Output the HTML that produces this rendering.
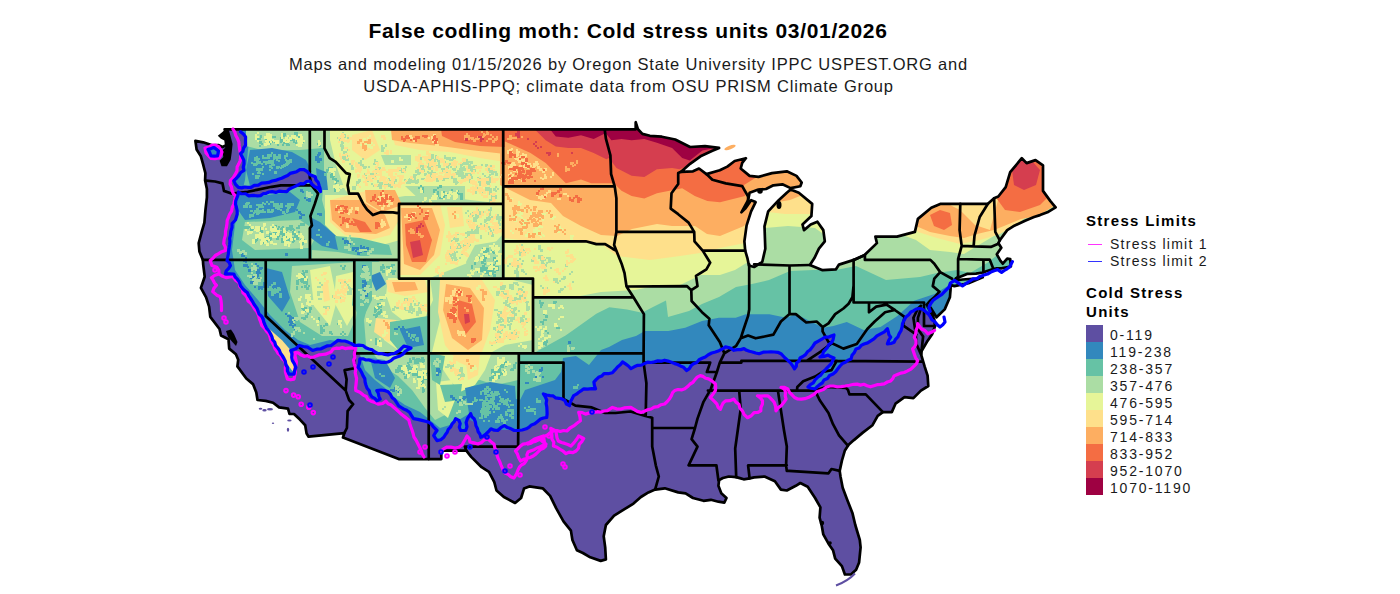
<!DOCTYPE html><html><head><meta charset="utf-8"><style>
html,body{margin:0;padding:0;background:#fff;width:1400px;height:594px;overflow:hidden;position:relative;font-family:"Liberation Sans",sans-serif}
.lh{position:absolute;left:1086px;font-weight:bold;font-size:15px;line-height:19px;letter-spacing:1.3px;color:#000;white-space:nowrap}
.ls{position:absolute;left:1110px;font-size:14px;line-height:16px;letter-spacing:1.26px;color:#1a1a1a;white-space:nowrap}
.lt{position:absolute;left:1110px;font-size:14px;line-height:16px;letter-spacing:1.8px;color:#1a1a1a;white-space:nowrap}
</style></head><body>
<svg width="1400" height="594" viewBox="0 0 1400 594" style="position:absolute;left:0;top:0">
<defs><clipPath id="us"><path d="M224.6,129.3 L227.0,133.9 L228.5,139.5 L226.2,145.1 L222.5,147.0 L218.8,145.1 L212.1,145.3 L203.2,142.3 L195.4,140.8 L196.6,149.6 L200.9,156.3 L203.2,164.7 L203.9,167.5 L205.4,173.1 L205.1,180.4 L206.9,189.0 L206.9,197.4 L205.4,210.5 L204.4,222.6 L201.7,231.9 L198.7,243.1 L199.4,251.5 L202.9,259.9 L203.2,264.6 L204.7,276.7 L200.9,287.9 L206.1,297.3 L209.1,306.6 L210.3,316.9 L219.5,329.0 L221.0,335.5 L228.5,339.3 L229.2,348.6 L235.9,354.2 L238.2,359.8 L237.4,366.4 L246.3,378.5 L253.0,384.1 L256.3,392.5 L257.5,400.0 L265.7,400.9 L273.1,402.8 L279.1,407.4 L288.0,408.7 L289.5,414.0 L294.0,414.0 L299.9,419.6 L305.2,425.2 L306.6,433.6 L308.6,436.7 L344.3,433.2 L343.0,437.5 L398.7,459.1 L441.3,459.1 L441.3,450.7 L466.3,450.7 L471.2,456.9 L481.6,467.2 L489.0,471.8 L494.3,482.1 L496.5,490.5 L503.9,497.0 L515.1,503.0 L521.1,498.0 L524.0,488.6 L529.3,486.4 L542.7,488.3 L550.1,495.9 L556.1,508.2 L563.5,521.3 L570.9,530.6 L572.4,540.0 L576.9,550.2 L582.9,553.0 L590.3,557.3 L600.7,560.9 L605.9,559.4 L605.2,547.4 L603.7,536.2 L605.9,525.0 L614.1,515.7 L624.5,509.2 L633.5,503.6 L640.9,497.0 L648.4,492.4 L655.1,489.6 L664.8,488.3 L678.2,492.4 L685.6,493.3 L693.0,498.0 L703.5,500.8 L710.9,499.8 L718.4,501.7 L724.3,502.6 L726.5,498.0 L721.3,493.3 L718.4,485.8 L719.1,480.2 L722.8,478.0 L728.8,476.5 L736.2,477.1 L740.7,478.4 L743.7,479.3 L749.6,478.4 L754.1,477.4 L764.5,476.5 L774.9,481.2 L780.9,489.6 L786.8,490.5 L795.8,485.8 L800.3,483.0 L807.7,486.8 L815.1,498.0 L820.4,507.3 L819.6,517.6 L821.8,526.0 L823.3,534.4 L828.5,543.7 L833.0,550.2 L835.2,558.6 L841.9,566.1 L844.9,574.5 L850.9,574.5 L856.1,569.8 L859.1,562.4 L860.6,547.4 L859.8,540.0 L855.3,525.0 L852.4,512.9 L847.2,499.8 L842.7,487.7 L840.5,476.5 L839.7,470.9 L841.9,460.6 L844.9,450.4 L848.6,444.8 L853.9,440.1 L862.8,432.6 L872.5,425.2 L877.7,415.8 L882.9,412.1 L891.8,412.1 L895.5,403.7 L904.5,397.2 L913.4,398.1 L920.9,390.6 L928.3,386.0 L927.6,375.7 L924.6,366.4 L921.3,355.2 L921.6,351.0 L926.8,342.1 L932.0,334.6 L935.0,326.2 L934.3,319.7 L929.8,310.3 L927.6,306.6 L930.5,307.5 L936.5,317.3 L944.7,309.4 L949.9,297.3 L950.6,288.9 L950.6,285.1 L954.4,286.1 L968.5,283.3 L982.7,277.3 L976.0,278.6 L962.6,279.5 L955.1,280.5 L955.9,278.6 L967.0,273.9 L976.0,273.6 L982.7,272.5 L989.4,270.2 L992.3,269.3 L996.8,268.3 L1001.3,268.3 L1010.9,266.5 L1010.2,259.0 L1007.2,258.6 L1002.8,263.7 L1000.5,260.9 L996.8,254.3 L1001.3,247.8 L998.3,243.1 L999.8,240.3 L1007.2,230.1 L1013.2,226.3 L1025.1,220.7 L1034.0,217.0 L1040.0,215.1 L1047.4,212.3 L1055.6,207.3 L1050.4,201.1 L1043.0,190.9 L1043.0,165.3 L1035.5,160.1 L1026.6,163.1 L1021.8,158.2 L1010.2,172.2 L1005.7,187.1 L998.3,196.5 L994.1,198.3 L987.9,203.8 L940.2,203.9 L931.3,207.7 L917.9,218.9 L914.9,231.9 L897.0,236.6 L875.4,236.6 L876.9,243.1 L864.3,255.3 L853.9,259.9 L839.0,264.6 L836.0,269.3 L822.6,270.2 L809.9,265.0 L814.4,258.1 L818.9,248.7 L824.8,241.3 L823.3,230.1 L817.4,221.7 L810.7,224.5 L804.0,230.1 L802.5,224.5 L811.4,216.1 L812.2,203.9 L798.8,192.7 L790.6,189.4 L786.8,192.7 L778.7,200.2 L768.2,211.4 L764.5,226.3 L765.3,248.7 L762.3,261.8 L754.1,267.0 L748.9,265.5 L747.4,258.1 L745.2,250.6 L744.4,241.3 L746.6,225.4 L751.1,211.4 L755.6,202.1 L751.1,200.2 L745.2,208.6 L741.4,212.3 L748.1,200.2 L749.6,192.7 L757.1,189.9 L766.0,189.0 L773.4,185.3 L782.4,184.3 L790.6,188.1 L800.3,186.2 L801.7,182.5 L796.5,175.9 L786.8,171.3 L772.0,173.1 L758.6,176.9 L749.6,175.9 L740.7,168.5 L742.2,162.9 L745.9,158.2 L734.7,161.0 L727.3,166.6 L719.8,170.3 L706.4,174.1 L699.0,168.5 L693.0,171.3 L681.1,171.8 L690.1,163.8 L700.5,156.3 L712.4,150.7 L719.1,147.9 L705.0,146.1 L690.1,147.0 L675.2,139.5 L661.8,136.7 L649.9,135.8 L642.4,133.9 L638.0,129.3 L635.7,122.2 L635.7,129.3 L224.6,129.3Z"/></clipPath></defs>
<path d="M224.6,129.3 L227.0,133.9 L228.5,139.5 L226.2,145.1 L222.5,147.0 L218.8,145.1 L212.1,145.3 L203.2,142.3 L195.4,140.8 L196.6,149.6 L200.9,156.3 L203.2,164.7 L203.9,167.5 L205.4,173.1 L205.1,180.4 L206.9,189.0 L206.9,197.4 L205.4,210.5 L204.4,222.6 L201.7,231.9 L198.7,243.1 L199.4,251.5 L202.9,259.9 L203.2,264.6 L204.7,276.7 L200.9,287.9 L206.1,297.3 L209.1,306.6 L210.3,316.9 L219.5,329.0 L221.0,335.5 L228.5,339.3 L229.2,348.6 L235.9,354.2 L238.2,359.8 L237.4,366.4 L246.3,378.5 L253.0,384.1 L256.3,392.5 L257.5,400.0 L265.7,400.9 L273.1,402.8 L279.1,407.4 L288.0,408.7 L289.5,414.0 L294.0,414.0 L299.9,419.6 L305.2,425.2 L306.6,433.6 L308.6,436.7 L344.3,433.2 L343.0,437.5 L398.7,459.1 L441.3,459.1 L441.3,450.7 L466.3,450.7 L471.2,456.9 L481.6,467.2 L489.0,471.8 L494.3,482.1 L496.5,490.5 L503.9,497.0 L515.1,503.0 L521.1,498.0 L524.0,488.6 L529.3,486.4 L542.7,488.3 L550.1,495.9 L556.1,508.2 L563.5,521.3 L570.9,530.6 L572.4,540.0 L576.9,550.2 L582.9,553.0 L590.3,557.3 L600.7,560.9 L605.9,559.4 L605.2,547.4 L603.7,536.2 L605.9,525.0 L614.1,515.7 L624.5,509.2 L633.5,503.6 L640.9,497.0 L648.4,492.4 L655.1,489.6 L664.8,488.3 L678.2,492.4 L685.6,493.3 L693.0,498.0 L703.5,500.8 L710.9,499.8 L718.4,501.7 L724.3,502.6 L726.5,498.0 L721.3,493.3 L718.4,485.8 L719.1,480.2 L722.8,478.0 L728.8,476.5 L736.2,477.1 L740.7,478.4 L743.7,479.3 L749.6,478.4 L754.1,477.4 L764.5,476.5 L774.9,481.2 L780.9,489.6 L786.8,490.5 L795.8,485.8 L800.3,483.0 L807.7,486.8 L815.1,498.0 L820.4,507.3 L819.6,517.6 L821.8,526.0 L823.3,534.4 L828.5,543.7 L833.0,550.2 L835.2,558.6 L841.9,566.1 L844.9,574.5 L850.9,574.5 L856.1,569.8 L859.1,562.4 L860.6,547.4 L859.8,540.0 L855.3,525.0 L852.4,512.9 L847.2,499.8 L842.7,487.7 L840.5,476.5 L839.7,470.9 L841.9,460.6 L844.9,450.4 L848.6,444.8 L853.9,440.1 L862.8,432.6 L872.5,425.2 L877.7,415.8 L882.9,412.1 L891.8,412.1 L895.5,403.7 L904.5,397.2 L913.4,398.1 L920.9,390.6 L928.3,386.0 L927.6,375.7 L924.6,366.4 L921.3,355.2 L921.6,351.0 L926.8,342.1 L932.0,334.6 L935.0,326.2 L934.3,319.7 L929.8,310.3 L927.6,306.6 L930.5,307.5 L936.5,317.3 L944.7,309.4 L949.9,297.3 L950.6,288.9 L950.6,285.1 L954.4,286.1 L968.5,283.3 L982.7,277.3 L976.0,278.6 L962.6,279.5 L955.1,280.5 L955.9,278.6 L967.0,273.9 L976.0,273.6 L982.7,272.5 L989.4,270.2 L992.3,269.3 L996.8,268.3 L1001.3,268.3 L1010.9,266.5 L1010.2,259.0 L1007.2,258.6 L1002.8,263.7 L1000.5,260.9 L996.8,254.3 L1001.3,247.8 L998.3,243.1 L999.8,240.3 L1007.2,230.1 L1013.2,226.3 L1025.1,220.7 L1034.0,217.0 L1040.0,215.1 L1047.4,212.3 L1055.6,207.3 L1050.4,201.1 L1043.0,190.9 L1043.0,165.3 L1035.5,160.1 L1026.6,163.1 L1021.8,158.2 L1010.2,172.2 L1005.7,187.1 L998.3,196.5 L994.1,198.3 L987.9,203.8 L940.2,203.9 L931.3,207.7 L917.9,218.9 L914.9,231.9 L897.0,236.6 L875.4,236.6 L876.9,243.1 L864.3,255.3 L853.9,259.9 L839.0,264.6 L836.0,269.3 L822.6,270.2 L809.9,265.0 L814.4,258.1 L818.9,248.7 L824.8,241.3 L823.3,230.1 L817.4,221.7 L810.7,224.5 L804.0,230.1 L802.5,224.5 L811.4,216.1 L812.2,203.9 L798.8,192.7 L790.6,189.4 L786.8,192.7 L778.7,200.2 L768.2,211.4 L764.5,226.3 L765.3,248.7 L762.3,261.8 L754.1,267.0 L748.9,265.5 L747.4,258.1 L745.2,250.6 L744.4,241.3 L746.6,225.4 L751.1,211.4 L755.6,202.1 L751.1,200.2 L745.2,208.6 L741.4,212.3 L748.1,200.2 L749.6,192.7 L757.1,189.9 L766.0,189.0 L773.4,185.3 L782.4,184.3 L790.6,188.1 L800.3,186.2 L801.7,182.5 L796.5,175.9 L786.8,171.3 L772.0,173.1 L758.6,176.9 L749.6,175.9 L740.7,168.5 L742.2,162.9 L745.9,158.2 L734.7,161.0 L727.3,166.6 L719.8,170.3 L706.4,174.1 L699.0,168.5 L693.0,171.3 L681.1,171.8 L690.1,163.8 L700.5,156.3 L712.4,150.7 L719.1,147.9 L705.0,146.1 L690.1,147.0 L675.2,139.5 L661.8,136.7 L649.9,135.8 L642.4,133.9 L638.0,129.3 L635.7,122.2 L635.7,129.3 L224.6,129.3Z" fill="#5e4fa2"/>
<g clip-path="url(#us)">
<path d="M242.0,100.0 L242.0,120.0 L240.5,131.8 L245.6,136.9 L245.6,145.3 L240.5,153.7 L243.9,160.4 L243.9,170.5 L238.8,175.6 L233.8,180.6 L238.4,187.4 L251.0,187.4 L261.6,183.2 L272.1,181.0 L284.7,176.8 L293.2,172.6 L303.7,169.5 L310.0,174.7 L315.3,176.8 L320.5,191.6 L310.0,181.0 L297.4,185.3 L286.8,191.6 L272.1,191.6 L257.4,195.8 L248.9,195.8 L238.4,192.0 L235.5,204.2 L237.2,214.3 L235.5,220.0 L232.1,223.5 L230.4,235.3 L228.7,250.4 L227.0,260.5 L230.4,265.6 L225.4,274.0 L233.8,274.0 L237.2,279.0 L240.5,285.8 L247.3,292.5 L254.0,304.3 L257.0,308.4 L263.8,321.9 L270.5,333.7 L275.6,345.5 L282.3,355.6 L287.4,367.4 L289.0,374.1 L294.1,374.1 L295.8,367.4 L292.4,360.6 L290.7,350.5 L295.8,348.8 L299.1,345.5 L307.6,347.2 L312.6,350.5 L321.0,348.8 L331.1,345.5 L337.9,340.4 L348.0,342.1 L354.7,345.5 L363.0,345.5 L369.0,349.0 L375.0,352.0 L388.0,355.0 L397.0,352.0 L404.0,346.0 L411.0,348.0 L400.0,356.0 L388.0,362.0 L375.0,362.0 L366.0,360.0 L359.8,358.9 L358.1,367.4 L363.1,375.8 L370.1,394.1 L376.8,400.8 L380.2,399.1 L376.8,390.7 L385.3,390.7 L390.3,394.1 L398.7,405.9 L406.7,410.3 L413.5,418.7 L421.9,420.4 L428.6,422.1 L433.7,427.2 L437.0,430.5 L433.7,435.6 L437.0,440.6 L443.8,437.3 L450.5,427.2 L455.6,418.7 L458.9,420.4 L460.6,430.5 L465.7,430.5 L467.4,418.7 L470.7,413.7 L474.1,418.7 L477.5,428.8 L480.8,437.3 L485.9,433.9 L490.9,428.8 L497.7,430.5 L504.4,425.5 L511.1,428.8 L517.9,430.5 L526.3,428.8 L534.7,423.8 L540.5,419.0 L546.7,417.5 L546.7,400.0 L543.4,393.9 L550.1,395.6 L561.9,398.9 L569.5,405.7 L573.7,395.6 L583.8,388.8 L595.6,388.8 L593.9,382.1 L604.0,373.7 L612.4,372.8 L617.5,366.9 L622.5,361.9 L630.9,368.6 L637.7,365.3 L644.4,363.6 L654.5,361.9 L664.6,360.2 L674.7,363.6 L683.1,366.9 L686.7,370.5 L693.5,363.8 L705.3,357.0 L715.4,352.0 L725.5,346.9 L733.9,350.3 L744.0,348.6 L752.4,352.0 L759.1,353.7 L767.6,352.0 L774.3,352.0 L781.0,353.7 L787.8,360.4 L794.5,368.8 L800.0,358.0 L810.0,350.0 L815.0,343.0 L825.0,337.0 L834.0,335.0 L833.0,340.0 L820.0,357.0 L828.0,355.0 L834.0,358.0 L831.0,364.0 L823.0,372.0 L815.0,380.0 L808.0,387.0 L815.0,389.0 L824.0,380.0 L833.0,374.0 L840.0,366.0 L851.0,359.0 L856.0,349.0 L864.0,344.0 L873.9,338.8 L880.6,333.8 L887.4,328.7 L890.7,337.2 L887.4,343.9 L894.1,342.2 L899.1,333.8 L902.5,323.7 L905.9,316.9 L910.9,311.9 L919.4,308.5 L926.0,312.0 L932.0,320.0 L940.0,327.0 L945.0,322.0 L944.0,317.0 L950.0,313.0 L1100.0,313.0 L1100.0,100.0Z" fill="#3288bd"/>
<path d="M206.0,148.0 L212.0,145.5 L219.0,147.5 L221.0,152.0 L218.5,157.5 L211.0,157.5 L207.0,153.0Z" fill="#3288bd"/>
<path d="M1100.0,284.0 L951.0,284.0 L934.5,294.1 L914.2,300.8 L897.4,316.0 L880.5,327.0 L863.7,330.0 L846.8,322.0 L833.4,326.0 L823.3,327.8 L809.8,321.0 L796.3,314.3 L786.2,317.7 L769.4,314.3 L745.8,314.3 L735.7,317.7 L718.9,317.7 L702.0,321.0 L685.2,327.8 L668.4,331.1 L644.8,331.1 L636.0,336.0 L622.0,340.0 L609.0,347.0 L601.0,350.0 L589.0,365.0 L576.0,356.0 L563.0,358.0 L561.0,372.0 L555.0,380.0 L540.0,385.0 L525.0,390.0 L520.0,400.0 L500.0,395.1 L495.0,392.0 L485.0,390.0 L478.0,398.0 L472.0,412.0 L462.0,418.0 L450.0,425.0 L440.0,428.0 L430.0,420.0 L420.0,412.0 L405.0,405.0 L395.0,398.0 L385.0,388.0 L375.0,380.0 L365.0,370.0 L360.0,355.0 L350.0,343.0 L330.0,340.0 L310.0,345.0 L298.0,340.0 L285.0,330.0 L270.0,315.0 L258.0,300.0 L245.0,285.0 L235.0,270.0 L232.0,250.0 L235.0,225.0 L240.0,200.0 L245.0,180.0 L248.0,150.0 L250.0,130.0 L250.0,100.0 L1100.0,100.0Z" fill="#66c2a5"/>
<path d="M1100.0,215.0 L1040.0,215.0 L1024.0,226.0 L1004.0,250.0 L987.0,263.0 L970.0,273.0 L957.0,270.0 L937.0,273.0 L920.0,277.0 L886.0,280.0 L856.0,266.0 L836.0,270.0 L813.0,270.0 L790.0,271.0 L769.0,280.0 L752.0,284.0 L736.0,287.0 L719.0,297.0 L702.0,304.0 L689.0,311.0 L668.0,317.0 L666.0,300.6 L653.0,307.0 L642.0,312.7 L627.0,309.4 L609.4,307.2 L596.3,313.8 L572.0,331.0 L565.6,335.6 L534.0,353.0 L533.0,278.0 L503.0,278.0 L503.0,100.0 L1100.0,100.0Z" fill="#abdda4"/>
<path d="M246.0,130.0 L345.0,130.0 L345.0,146.0 L300.0,150.0 L262.0,150.0 L246.0,146.0Z" fill="#abdda4"/>
<path d="M245.0,222.0 L300.0,220.0 L318.0,232.0 L310.0,248.0 L255.0,250.0 L242.0,240.0Z" fill="#abdda4"/>
<path d="M292.0,266.0 L356.0,262.0 L360.0,280.0 L356.0,318.0 L348.0,336.0 L322.0,336.0 L300.0,322.0 L290.0,292.0Z" fill="#abdda4"/>
<path d="M324.0,129.0 L505.0,129.0 L505.0,278.0 L430.0,278.0 L430.0,262.0 L399.0,262.0 L380.0,262.0 L360.0,250.0 L330.0,230.0 L322.0,200.0 L324.0,180.0Z" fill="#abdda4"/>
<path d="M372.0,262.0 L430.0,262.0 L430.0,278.0 L533.0,278.0 L533.0,352.0 L518.0,352.0 L518.0,380.0 L510.0,382.0 L495.0,385.0 L480.0,380.0 L462.0,382.0 L455.0,400.0 L445.0,415.0 L435.0,420.0 L425.0,408.0 L412.0,390.0 L398.0,376.0 L385.0,368.0 L375.0,356.0 L366.0,345.0 L364.0,320.0 L370.0,295.0 L372.0,275.0Z" fill="#abdda4"/>
<path d="M1100.0,200.0 L1054.0,206.0 L1038.0,216.0 L1021.0,219.0 L1004.0,230.0 L994.0,236.0 L977.0,246.0 L964.0,254.0 L950.0,252.0 L930.0,250.0 L916.0,240.0 L905.0,236.0 L890.0,236.0 L870.0,236.0 L850.0,245.0 L840.0,246.0 L815.0,228.0 L788.0,226.0 L765.0,228.0 L748.0,262.0 L735.0,270.0 L720.0,275.0 L701.0,275.0 L680.0,285.0 L660.0,285.0 L635.0,290.0 L601.0,292.0 L580.0,296.0 L560.0,297.0 L533.0,297.0 L533.0,278.0 L503.0,278.0 L503.0,100.0 L1100.0,100.0Z" fill="#e6f598"/>
<path d="M330.0,129.0 L505.0,129.0 L505.0,204.0 L470.0,200.0 L440.0,196.0 L405.0,196.0 L380.0,200.0 L360.0,205.0 L345.0,190.0 L336.0,165.0 L330.0,140.0Z" fill="#e6f598"/>
<path d="M325.0,195.0 L360.0,195.0 L395.0,205.0 L400.0,240.0 L375.0,247.0 L340.0,240.0 L325.0,225.0Z" fill="#e6f598"/>
<path d="M399.0,204.0 L505.0,204.0 L505.0,232.0 L490.0,248.0 L470.0,262.0 L450.0,270.0 L430.0,278.0 L399.0,278.0Z" fill="#e6f598"/>
<path d="M445.0,278.0 L505.0,278.0 L533.0,285.0 L533.0,340.0 L505.0,345.0 L492.0,352.0 L485.0,370.0 L475.0,385.0 L460.0,392.0 L450.0,380.0 L440.0,365.0 L432.0,352.0 L440.0,320.0 L440.0,300.0Z" fill="#e6f598"/>
<path d="M388.0,278.0 L430.0,278.0 L433.0,300.0 L425.0,318.0 L405.0,322.0 L392.0,312.0 L386.0,295.0Z" fill="#e6f598"/>
<path d="M310.0,270.0 L330.0,266.0 L337.0,300.0 L330.0,326.0 L314.0,306.0Z" fill="#e6f598"/>
<path d="M336.0,276.0 L353.0,272.0 L356.0,310.0 L347.0,326.0 L334.0,302.0Z" fill="#e6f598"/>
<path d="M436.0,382.0 L452.0,380.0 L455.0,400.0 L448.0,418.0 L438.0,410.0Z" fill="#e6f598"/>
<path d="M382.0,322.0 L400.0,320.0 L410.0,340.0 L398.0,350.0 L384.0,340.0Z" fill="#e6f598"/>
<path d="M1100.0,195.0 L1040.0,205.0 L1020.0,222.0 L1000.0,234.0 L980.0,240.0 L960.0,244.0 L937.0,238.0 L918.0,232.0 L912.0,222.0 L900.0,205.0 L880.0,200.0 L830.0,205.0 L815.0,214.0 L785.0,214.0 L768.0,212.0 L745.0,243.0 L720.0,248.0 L700.0,253.0 L680.0,256.0 L650.0,260.0 L617.0,256.0 L600.0,243.0 L580.0,242.0 L550.0,240.0 L520.0,240.0 L503.0,238.0 L503.0,100.0 L1100.0,100.0Z" fill="#fee08b"/>
<path d="M268.8,328.6 L282.3,340.4 L292.4,352.2 L295.8,367.4 L292.4,371.0 L285.7,362.0 L277.3,350.5 L270.5,340.0Z" fill="#fee08b"/>
<path d="M322.0,285.0 L328.0,283.0 L330.0,300.0 L324.0,302.0Z" fill="#fee08b"/>
<path d="M390.0,129.0 L505.0,129.0 L505.0,162.0 L480.0,158.0 L450.0,152.0 L420.0,150.0 L395.0,145.0Z" fill="#fee08b"/>
<path d="M330.0,200.0 L370.0,190.0 L400.0,200.0 L402.0,215.0 L390.0,235.0 L370.0,240.0 L345.0,235.0 L330.0,222.0Z" fill="#fee08b"/>
<path d="M399.0,204.0 L440.0,204.0 L445.0,225.0 L440.0,255.0 L420.0,275.0 L399.0,275.0Z" fill="#fee08b"/>
<path d="M440.0,280.0 L482.0,280.0 L495.0,300.0 L490.0,330.0 L482.0,352.0 L472.0,368.0 L458.0,362.0 L445.0,345.0 L438.0,312.0Z" fill="#fee08b"/>
<path d="M447.0,207.0 L462.0,207.0 L464.0,226.0 L450.0,228.0Z" fill="#fee08b"/>
<path d="M386.0,280.0 L425.0,280.0 L428.0,292.0 L405.0,296.0 L388.0,292.0Z" fill="#fee08b"/>
<path d="M376.0,318.0 L396.0,320.0 L402.0,336.0 L388.0,342.0 L374.0,332.0Z" fill="#fee08b"/>
<path d="M465.0,352.0 L480.0,352.0 L478.0,375.0 L468.0,380.0Z" fill="#fee08b"/>
<path d="M352.0,135.0 L372.0,130.0 L380.0,150.0 L365.0,160.0 L352.0,150.0Z" fill="#fee08b"/>
<path d="M1100.0,190.0 L1054.0,206.0 L1038.0,216.0 L1021.0,219.0 L1004.0,226.0 L994.0,230.0 L977.0,234.0 L964.0,238.0 L950.0,236.0 L930.0,232.0 L916.0,226.0 L925.0,205.0 L940.0,200.0 L960.0,210.0 L975.0,225.0 L990.0,230.0 L998.0,200.0 L1010.0,165.0 L1030.0,145.0 L1100.0,145.0Z" fill="#fdae61"/>
<path d="M500.0,100.0 L500.0,185.0 L530.0,200.0 L551.0,203.0 L563.0,216.0 L581.0,226.0 L601.0,235.0 L617.0,236.0 L632.0,229.0 L657.0,224.0 L672.0,226.0 L695.0,226.0 L707.0,234.0 L720.0,236.0 L744.0,226.0 L760.0,205.0 L790.0,200.0 L815.0,190.0 L820.0,100.0Z" fill="#fdae61"/>
<path d="M391.0,129.0 L505.0,129.0 L505.0,154.0 L470.0,150.0 L440.0,146.0 L410.0,143.0 L392.0,140.0Z" fill="#fdae61"/>
<path d="M330.0,200.0 L360.0,200.0 L385.0,215.0 L390.0,228.0 L376.0,234.0 L345.0,232.0 L332.0,220.0Z" fill="#fdae61"/>
<path d="M365.0,190.0 L395.0,190.0 L402.0,205.0 L382.0,212.0 L366.0,202.0Z" fill="#fdae61"/>
<path d="M401.0,208.0 L432.0,208.0 L440.0,230.0 L434.0,255.0 L420.0,270.0 L404.0,264.0Z" fill="#fdae61"/>
<path d="M446.0,284.0 L470.0,288.0 L484.0,308.0 L482.0,340.0 L468.0,350.0 L452.0,338.0 L443.0,310.0Z" fill="#fdae61"/>
<path d="M392.0,282.0 L415.0,282.0 L418.0,290.0 L395.0,292.0Z" fill="#fdae61"/>
<path d="M505.0,100.0 L505.0,141.5 L530.5,152.9 L545.7,163.0 L558.3,175.7 L565.9,183.2 L581.0,179.4 L591.2,183.2 L613.9,183.2 L621.5,190.8 L631.6,195.9 L644.3,198.4 L656.9,193.3 L669.5,190.8 L682.2,188.3 L694.8,195.9 L707.4,200.9 L720.0,202.2 L745.0,196.0 L744.0,185.0 L760.0,175.0 L770.0,160.0 L770.0,100.0Z" fill="#f46d43"/>
<path d="M997.0,199.0 L1004.0,182.0 L1014.0,165.0 L1024.0,159.0 L1044.0,162.0 L1050.0,195.0 L1040.0,205.0 L1020.0,212.0 L1005.0,210.0Z" fill="#f46d43"/>
<path d="M930.0,215.0 L940.0,210.0 L950.0,213.0 L952.0,225.0 L944.0,230.0 L934.0,226.0Z" fill="#f46d43"/>
<path d="M441.0,129.0 L505.0,129.0 L505.0,147.0 L480.0,146.0 L455.0,142.0 L442.0,136.0Z" fill="#f46d43"/>
<path d="M405.0,224.0 L424.0,220.0 L432.0,240.0 L426.0,262.0 L412.0,262.0 L406.0,245.0Z" fill="#f46d43"/>
<path d="M458.0,300.0 L472.0,304.0 L476.0,322.0 L466.0,334.0 L458.0,318.0Z" fill="#f46d43"/>
<path d="M352.0,218.0 L365.0,222.0 L372.0,232.0 L360.0,232.0Z" fill="#f46d43"/>
<path d="M535.6,100.0 L535.6,130.2 L545.7,140.3 L555.8,146.6 L568.4,147.9 L581.0,147.9 L593.7,152.9 L606.4,159.2 L608.9,158.0 L616.5,168.1 L631.6,175.7 L644.3,176.9 L656.9,169.3 L672.1,168.1 L679.6,169.3 L700.0,160.0 L720.0,150.0 L720.0,100.0Z" fill="#d53e4f"/>
<path d="M1012.0,170.0 L1020.0,160.0 L1032.0,161.0 L1040.0,170.0 L1036.0,185.0 L1024.0,190.0 L1014.0,185.0Z" fill="#d53e4f"/>
<path d="M410.0,242.0 L420.0,240.0 L423.0,255.0 L413.0,258.0Z" fill="#d53e4f"/>
<path d="M464.0,314.0 L469.0,314.0 L470.0,322.0 L465.0,324.0Z" fill="#d53e4f"/>
<path d="M550.8,100.0 L550.8,130.2 L555.8,136.5 L568.4,137.7 L581.0,135.2 L593.7,139.0 L603.8,134.0 L606.4,134.0 L611.4,140.3 L621.5,139.0 L631.6,140.3 L644.3,139.0 L656.9,142.8 L672.1,147.9 L682.2,158.0 L689.7,160.5 L702.4,150.4 L715.0,147.9 L720.0,100.0Z" fill="#9e0142"/>
<path d="M250.0,150.0 L272.0,148.0 L292.0,152.0 L306.0,160.0 L312.0,172.0 L303.0,170.0 L285.0,177.0 L265.0,182.0 L250.0,186.0 L246.0,170.0Z" fill="#3288bd"/>
<path d="M240.0,196.0 L260.0,196.0 L290.0,192.0 L300.0,200.0 L295.0,212.0 L270.0,218.0 L245.0,220.0 L238.0,210.0Z" fill="#3288bd"/>
<path d="M310.0,217.0 L320.0,222.0 L335.0,235.0 L345.0,245.0 L338.0,250.0 L322.0,246.0 L311.0,238.0Z" fill="#3288bd"/>
<path d="M335.0,236.0 L360.0,238.0 L389.0,245.0 L392.0,255.0 L360.0,254.0 L338.0,250.0Z" fill="#66c2a5"/>
<path d="M312.0,250.0 L338.0,252.0 L360.0,256.0 L397.0,256.0 L397.0,261.0 L312.0,261.0Z" fill="#abdda4"/>
<path d="M316.0,168.0 L326.0,172.0 L328.0,190.0 L318.0,190.0Z" fill="#3288bd"/>
<path d="M370.0,276.0 L380.0,272.0 L386.0,284.0 L376.0,291.0Z" fill="#3288bd"/>
<path d="M266.0,268.0 L282.0,272.0 L290.0,298.0 L282.0,312.0 L268.0,296.0Z" fill="#3288bd"/>
<path d="M370.0,358.0 L385.0,360.0 L395.0,378.0 L390.0,388.0 L375.0,378.0Z" fill="#3288bd"/>
<path d="M465.0,388.0 L490.0,382.0 L515.0,386.0 L518.0,430.0 L490.0,430.0 L470.0,420.0Z" fill="#3288bd"/>
<path d="M390.0,322.0 L428.0,316.0 L428.0,352.0 L400.0,352.0 L390.0,340.0Z" fill="#66c2a5"/>
<path d="M400.0,330.0 L420.0,326.0 L424.0,345.0 L408.0,348.0Z" fill="#3288bd"/>
<path d="M356.0,262.0 L372.0,262.0 L372.0,300.0 L362.0,320.0 L352.0,305.0Z" fill="#66c2a5"/>
<path d="M440.0,385.0 L462.0,384.0 L460.0,400.0 L445.0,402.0Z" fill="#66c2a5"/>
<path d="M430.0,353.0 L445.0,356.0 L440.0,385.0 L432.0,380.0Z" fill="#66c2a5"/>
<path d="M405.0,186.0 L465.0,186.0 L465.0,200.0 L420.0,200.0Z" fill="#abdda4"/>
<path d="M381.0,155.0 L411.0,155.0 L411.0,165.0 L385.0,165.0Z" fill="#abdda4"/>
<path d="M238.4,187.4 L251.0,187.4 L261.6,183.2 L272.1,181.0 L284.7,176.8 L293.2,172.6 L303.7,169.5 L310.0,174.7 L315.3,176.8 L320.5,191.6 L310.0,181.0 L297.4,185.3 L286.8,191.6 L272.1,191.6 L257.4,195.8 L248.9,195.8 L238.4,192.0Z" fill="#5e4fa2"/>
<path d="M475.0,245.0 L505.0,240.0 L505.0,278.0 L470.0,278.0 L466.0,262.0Z" fill="#abdda4"/>
<path fill="#3288bd" d="M256 270h3v3h-3zM256 272h2v2h-2zM256 274h3v3h-3zM254 276h2v2h-2zM254 276h2v2h-2zM252 276h2v2h-2zM258 288h2v2h-2zM258 286h3v3h-3zM394 328h2v2h-2zM396 328h2v2h-2zM398 326h2v2h-2zM400 328h2v2h-2zM402 328h3v3h-3zM402 326h2v2h-2zM537 379h3v3h-3zM535 377h2v2h-2zM535 375h2v2h-2zM288 321h2v2h-2zM290 321h3v3h-3zM292 319h2v2h-2zM292 317h3v3h-3zM461 398h2v2h-2zM461 398h2v2h-2zM463 396h3v3h-3zM463 398h2v2h-2zM463 396h2v2h-2zM465 396h2v2h-2zM352 249h2v2h-2zM352 247h3v3h-3zM354 247h2v2h-2zM356 247h3v3h-3zM316 158h3v3h-3zM316 156h2v2h-2zM318 154h2v2h-2zM318 152h3v3h-3zM241 253h2v2h-2zM241 255h2v2h-2zM243 255h2v2h-2zM245 257h2v2h-2zM243 259h3v3h-3zM245 261h2v2h-2zM365 294h3v3h-3zM363 292h2v2h-2zM363 292h2v2h-2zM361 292h2v2h-2zM250 269h2v2h-2zM248 269h3v3h-3zM250 277h2v2h-2zM252 279h2v2h-2zM250 281h3v3h-3zM252 281h2v2h-2zM302 191h2v2h-2zM300 189h3v3h-3zM302 191h2v2h-2zM259 272h2v2h-2zM257 270h3v3h-3zM255 268h2v2h-2zM289 324h2v2h-2zM459 399h2v2h-2zM457 401h2v2h-2zM455 399h2v2h-2zM455 399h2v2h-2zM436 370h3v3h-3zM438 370h3v3h-3zM436 368h2v2h-2zM436 368h3v3h-3zM438 368h2v2h-2zM436 368h2v2h-2zM247 266h2v2h-2zM245 264h3v3h-3zM243 264h2v2h-2zM243 264h3v3h-3zM257 273h2v2h-2zM257 271h2v2h-2zM257 271h2v2h-2zM257 269h3v3h-3zM259 267h3v3h-3zM261 267h2v2h-2zM303 214h2v2h-2zM301 214h2v2h-2zM299 216h3v3h-3zM291 321h3v3h-3zM291 321h2v2h-2zM289 319h3v3h-3zM254 286h2v2h-2zM527 382h2v2h-2zM525 382h2v2h-2zM289 319h2v2h-2zM289 317h3v3h-3zM291 317h2v2h-2zM289 315h2v2h-2zM287 315h2v2h-2zM285 313h2v2h-2zM364 280h2v2h-2zM364 282h3v3h-3zM362 284h3v3h-3zM364 282h2v2h-2zM364 282h2v2h-2zM362 284h2v2h-2zM365 275h2v2h-2zM363 273h2v2h-2zM361 273h3v3h-3zM293 320h2v2h-2zM291 320h2v2h-2zM293 320h2v2h-2zM291 318h3v3h-3zM289 316h3v3h-3zM542 376h2v2h-2zM292 318h2v2h-2zM292 320h3v3h-3zM292 322h2v2h-2zM290 324h2v2h-2zM292 326h2v2h-2zM294 324h2v2h-2zM349 243h2v2h-2zM347 241h3v3h-3zM349 239h2v2h-2zM360 247h2v2h-2zM360 245h2v2h-2zM362 247h2v2h-2zM364 249h3v3h-3zM364 249h3v3h-3zM366 247h3v3h-3zM364 280h2v2h-2zM364 282h2v2h-2zM294 327h3v3h-3zM292 325h2v2h-2zM319 213h3v3h-3zM317 213h2v2h-2zM255 267h2v2h-2zM257 265h2v2h-2zM255 263h2v2h-2zM257 265h2v2h-2zM541 369h2v2h-2zM539 369h3v3h-3zM541 367h2v2h-2zM364 282h3v3h-3zM362 280h3v3h-3zM364 282h3v3h-3zM364 284h3v3h-3zM362 286h2v2h-2zM344 242h2v2h-2zM346 240h2v2h-2zM344 240h3v3h-3zM342 238h2v2h-2zM398 391h2v2h-2zM396 389h2v2h-2zM394 387h2v2h-2zM392 389h3v3h-3zM390 389h2v2h-2zM392 389h2v2h-2zM436 371h3v3h-3zM436 371h2v2h-2zM436 373h3v3h-3zM539 369h2v2h-2zM363 246h2v2h-2zM365 248h2v2h-2zM365 248h2v2h-2zM365 250h2v2h-2zM304 197h2v2h-2zM306 199h2v2h-2zM308 199h3v3h-3zM308 197h3v3h-3zM308 197h2v2h-2zM364 248h2v2h-2zM362 248h3v3h-3zM285 253h3v3h-3zM359 250h3v3h-3zM357 252h3v3h-3zM355 250h2v2h-2zM364 267h2v2h-2zM364 267h2v2h-2zM364 267h3v3h-3zM362 265h3v3h-3zM364 265h2v2h-2zM436 370h2v2h-2zM259 286h2v2h-2zM261 286h3v3h-3zM261 288h2v2h-2zM263 286h2v2h-2zM263 284h2v2h-2zM263 282h2v2h-2zM367 286h2v2h-2zM365 288h3v3h-3zM363 290h2v2h-2zM365 292h3v3h-3zM365 294h3v3h-3zM363 292h3v3h-3zM300 213h2v2h-2zM300 213h2v2h-2zM298 211h3v3h-3zM296 209h2v2h-2zM294 207h2v2h-2zM256 276h2v2h-2zM258 278h3v3h-3zM450 395h2v2h-2zM450 395h3v3h-3zM452 397h2v2h-2zM452 397h3v3h-3zM450 395h3v3h-3zM568 341h3v3h-3zM438 361h2v2h-2zM317 154h2v2h-2zM315 156h2v2h-2zM317 156h2v2h-2zM315 158h3v3h-3zM317 160h3v3h-3zM319 158h3v3h-3z"/>
<path fill="#66c2a5" d="M502 371h2v2h-2zM274 136h2v2h-2zM272 136h2v2h-2zM257 138h2v2h-2zM259 138h2v2h-2zM257 136h2v2h-2zM257 138h2v2h-2zM379 305h3v3h-3zM377 303h2v2h-2zM379 303h2v2h-2zM379 303h2v2h-2zM258 227h2v2h-2zM260 227h2v2h-2zM334 186h2v2h-2zM334 188h2v2h-2zM484 256h3v3h-3zM283 141h3v3h-3zM490 395h2v2h-2zM490 395h2v2h-2zM492 393h2v2h-2zM492 395h3v3h-3zM389 268h2v2h-2zM391 266h2v2h-2zM393 264h2v2h-2zM391 264h2v2h-2zM265 239h3v3h-3zM267 239h2v2h-2zM269 237h2v2h-2zM269 237h2v2h-2zM416 338h2v2h-2zM416 340h2v2h-2zM416 338h3v3h-3zM494 271h2v2h-2zM492 271h2v2h-2zM277 140h2v2h-2zM277 142h2v2h-2zM277 144h2v2h-2zM378 311h2v2h-2zM376 313h2v2h-2zM374 311h2v2h-2zM374 309h3v3h-3zM374 307h3v3h-3zM245 203h2v2h-2zM243 205h3v3h-3zM243 205h3v3h-3zM245 205h3v3h-3zM247 203h2v2h-2zM249 205h3v3h-3zM418 360h2v2h-2zM418 358h2v2h-2zM418 360h2v2h-2zM416 358h3v3h-3zM416 358h2v2h-2zM273 205h2v2h-2zM273 203h2v2h-2zM269 162h2v2h-2zM271 160h3v3h-3zM273 158h2v2h-2zM273 156h3v3h-3zM273 154h3v3h-3zM271 152h2v2h-2zM271 211h2v2h-2zM271 209h3v3h-3zM269 211h2v2h-2zM267 211h2v2h-2zM267 209h3v3h-3zM421 383h2v2h-2zM421 381h2v2h-2zM419 379h3v3h-3zM419 377h3v3h-3zM421 375h2v2h-2zM421 375h2v2h-2zM420 360h2v2h-2zM418 358h2v2h-2zM418 358h2v2h-2zM416 358h2v2h-2zM273 282h3v3h-3zM271 284h2v2h-2zM269 286h2v2h-2zM267 288h3v3h-3zM265 288h2v2h-2zM263 288h3v3h-3zM507 404h2v2h-2zM505 402h3v3h-3zM503 400h2v2h-2zM503 402h3v3h-3zM501 400h2v2h-2zM494 391h2v2h-2zM496 391h2v2h-2zM496 391h3v3h-3zM498 393h2v2h-2zM496 391h2v2h-2zM496 393h2v2h-2zM269 165h2v2h-2zM269 165h3v3h-3zM271 167h2v2h-2zM269 169h2v2h-2zM251 210h2v2h-2zM253 212h2v2h-2zM509 400h2v2h-2zM507 398h2v2h-2zM257 175h2v2h-2zM257 177h2v2h-2zM255 177h2v2h-2zM255 175h3v3h-3zM476 399h2v2h-2zM476 399h2v2h-2zM474 397h2v2h-2zM474 399h3v3h-3zM472 401h2v2h-2zM283 141h2v2h-2zM283 139h3v3h-3zM285 137h3v3h-3zM262 206h2v2h-2zM382 266h2v2h-2zM380 266h2v2h-2zM382 264h2v2h-2zM382 266h3v3h-3zM380 268h3v3h-3zM382 270h3v3h-3zM274 203h3v3h-3zM272 201h2v2h-2zM316 321h2v2h-2zM316 321h2v2h-2zM318 319h2v2h-2zM318 317h2v2h-2zM280 205h3v3h-3zM280 203h3v3h-3zM288 162h2v2h-2zM286 162h2v2h-2zM286 162h3v3h-3zM286 160h2v2h-2zM288 162h2v2h-2zM288 160h2v2h-2zM492 408h2v2h-2zM282 230h2v2h-2zM282 228h3v3h-3zM282 226h2v2h-2zM282 226h2v2h-2zM503 370h2v2h-2zM501 372h3v3h-3zM499 374h2v2h-2zM497 374h3v3h-3zM497 376h3v3h-3zM288 239h2v2h-2zM290 239h2v2h-2zM292 241h2v2h-2zM486 272h2v2h-2zM488 274h2v2h-2zM488 272h3v3h-3zM486 270h3v3h-3zM486 272h2v2h-2zM298 135h2v2h-2zM296 137h2v2h-2zM298 139h2v2h-2zM291 225h2v2h-2zM289 225h2v2h-2zM291 227h2v2h-2zM293 229h2v2h-2zM493 393h2v2h-2zM493 393h2v2h-2zM491 391h2v2h-2zM493 393h3v3h-3zM491 393h3v3h-3zM422 191h2v2h-2zM422 189h2v2h-2zM422 187h2v2h-2zM420 185h2v2h-2zM418 187h2v2h-2zM331 173h2v2h-2zM331 173h2v2h-2zM499 361h2v2h-2zM501 361h2v2h-2zM503 359h2v2h-2zM501 359h2v2h-2zM501 361h2v2h-2zM503 363h2v2h-2zM258 210h2v2h-2zM258 210h2v2h-2zM256 210h2v2h-2zM256 208h3v3h-3zM254 210h3v3h-3zM256 212h3v3h-3zM305 307h2v2h-2zM303 307h3v3h-3zM301 307h2v2h-2zM301 305h3v3h-3zM508 406h2v2h-2zM510 404h2v2h-2zM512 404h2v2h-2zM260 135h2v2h-2zM260 136h2v2h-2zM416 371h3v3h-3zM414 369h2v2h-2zM259 141h3v3h-3zM261 143h2v2h-2zM261 143h2v2h-2zM259 145h2v2h-2zM493 403h2v2h-2zM493 405h3v3h-3zM495 407h3v3h-3zM497 407h3v3h-3zM495 405h3v3h-3zM281 165h3v3h-3zM294 237h2v2h-2zM294 237h2v2h-2zM292 239h3v3h-3zM292 241h2v2h-2zM451 193h2v2h-2zM449 191h2v2h-2zM451 189h2v2h-2zM540 306h2v2h-2zM540 304h2v2h-2zM542 302h2v2h-2zM481 410h3v3h-3zM481 408h2v2h-2zM422 374h3v3h-3zM422 372h2v2h-2zM330 167h3v3h-3zM328 169h2v2h-2zM328 167h3v3h-3zM326 169h2v2h-2zM326 171h2v2h-2zM324 173h3v3h-3zM405 371h3v3h-3zM403 373h2v2h-2zM439 197h2v2h-2zM441 197h2v2h-2zM443 195h2v2h-2zM443 197h2v2h-2zM482 265h3v3h-3zM484 267h3v3h-3zM486 267h2v2h-2zM484 269h2v2h-2zM482 267h2v2h-2zM409 366h2v2h-2zM485 271h3v3h-3zM485 271h3v3h-3zM483 269h2v2h-2zM485 267h2v2h-2zM483 267h2v2h-2zM414 361h3v3h-3zM416 361h3v3h-3zM414 361h2v2h-2zM414 361h2v2h-2zM414 359h2v2h-2zM412 357h3v3h-3zM307 309h2v2h-2zM309 311h2v2h-2zM309 309h2v2h-2zM307 309h2v2h-2zM309 307h3v3h-3zM280 167h2v2h-2zM305 270h3v3h-3zM303 272h2v2h-2zM306 295h2v2h-2zM495 373h3v3h-3zM493 375h2v2h-2zM493 377h2v2h-2zM491 377h2v2h-2zM489 379h2v2h-2zM489 377h3v3h-3zM487 394h3v3h-3zM485 396h2v2h-2zM485 396h2v2h-2zM485 398h3v3h-3zM483 400h3v3h-3zM375 342h3v3h-3zM377 340h2v2h-2zM377 340h3v3h-3zM375 340h2v2h-2zM375 338h2v2h-2zM271 164h2v2h-2zM273 164h2v2h-2zM271 162h2v2h-2zM253 240h3v3h-3zM255 240h2v2h-2zM255 238h3v3h-3zM255 164h2v2h-2zM528 409h3v3h-3zM526 409h3v3h-3zM524 407h2v2h-2zM336 189h2v2h-2zM334 189h3v3h-3zM334 187h2v2h-2zM536 400h3v3h-3zM538 400h3v3h-3zM536 398h2v2h-2zM479 399h2v2h-2zM481 399h2v2h-2zM285 137h2v2h-2zM283 135h2v2h-2zM283 133h3v3h-3zM281 135h2v2h-2zM283 133h2v2h-2zM258 204h2v2h-2zM258 204h2v2h-2zM256 204h2v2h-2zM258 206h2v2h-2zM256 208h2v2h-2zM256 210h2v2h-2zM270 201h2v2h-2zM272 201h2v2h-2zM270 201h2v2h-2zM268 203h2v2h-2zM266 201h2v2h-2zM264 203h2v2h-2zM481 417h2v2h-2zM481 415h2v2h-2zM479 417h2v2h-2zM498 416h3v3h-3zM500 414h2v2h-2zM294 233h2v2h-2zM294 233h2v2h-2zM296 233h2v2h-2zM294 235h3v3h-3zM292 237h2v2h-2zM294 235h2v2h-2zM486 413h3v3h-3zM488 411h3v3h-3zM488 411h2v2h-2zM486 411h2v2h-2zM486 413h3v3h-3zM276 156h2v2h-2zM278 156h3v3h-3zM278 154h3v3h-3zM296 288h2v2h-2zM296 286h2v2h-2zM337 323h2v2h-2zM474 261h2v2h-2zM474 263h2v2h-2zM500 398h3v3h-3zM502 400h3v3h-3zM414 334h2v2h-2zM412 334h2v2h-2zM269 165h3v3h-3zM292 231h2v2h-2zM290 229h2v2h-2zM253 164h2v2h-2zM251 162h2v2h-2zM545 319h2v2h-2zM543 319h2v2h-2zM302 308h2v2h-2zM455 192h3v3h-3zM457 190h2v2h-2zM417 376h3v3h-3zM496 368h2v2h-2zM498 368h3v3h-3zM305 276h2v2h-2zM305 278h2v2h-2zM303 276h2v2h-2zM301 276h3v3h-3zM285 159h2v2h-2zM409 371h2v2h-2zM411 369h2v2h-2zM411 367h2v2h-2zM292 228h2v2h-2zM292 228h2v2h-2zM290 226h2v2h-2zM377 308h2v2h-2zM377 308h2v2h-2zM377 306h3v3h-3zM460 193h3v3h-3zM460 193h3v3h-3zM458 193h2v2h-2zM456 193h2v2h-2zM456 193h2v2h-2zM262 173h2v2h-2zM285 205h2v2h-2zM287 203h3v3h-3zM289 203h3v3h-3zM291 203h2v2h-2zM291 203h3v3h-3zM282 144h2v2h-2zM284 142h2v2h-2zM286 144h2v2h-2zM284 142h2v2h-2zM284 142h2v2h-2zM276 167h2v2h-2zM259 172h2v2h-2zM257 172h2v2h-2zM484 263h2v2h-2zM482 261h2v2h-2zM480 269h3v3h-3zM480 267h3v3h-3zM480 267h2v2h-2zM493 411h2v2h-2zM301 276h2v2h-2zM303 274h2v2h-2zM263 241h3v3h-3zM263 239h2v2h-2zM265 239h2v2h-2zM265 237h2v2h-2zM265 239h2v2h-2zM500 372h3v3h-3zM498 372h2v2h-2zM498 372h3v3h-3zM498 370h3v3h-3zM498 368h3v3h-3zM500 366h2v2h-2zM300 143h2v2h-2zM302 141h2v2h-2zM302 141h2v2h-2zM433 191h2v2h-2zM433 189h2v2h-2zM435 189h2v2h-2zM437 187h2v2h-2zM439 185h3v3h-3zM304 281h3v3h-3zM306 281h2v2h-2zM306 281h2v2h-2zM306 281h2v2h-2zM306 279h2v2h-2zM304 279h3v3h-3zM573 386h3v3h-3zM575 386h3v3h-3zM577 384h2v2h-2zM411 334h3v3h-3zM413 336h2v2h-2zM530 409h3v3h-3zM532 409h2v2h-2zM534 411h2v2h-2zM534 413h2v2h-2zM554 325h2v2h-2zM556 327h2v2h-2zM556 327h2v2h-2zM558 327h2v2h-2zM510 369h2v2h-2zM270 238h2v2h-2zM268 238h3v3h-3zM266 236h2v2h-2zM378 311h2v2h-2zM380 311h2v2h-2zM380 309h2v2h-2zM378 311h3v3h-3zM378 311h2v2h-2zM380 309h2v2h-2zM503 402h2v2h-2zM503 400h3v3h-3zM503 400h2v2h-2zM256 159h3v3h-3zM258 161h3v3h-3zM256 163h2v2h-2zM493 252h2v2h-2zM491 250h3v3h-3zM278 288h3v3h-3zM276 290h3v3h-3zM274 288h2v2h-2zM272 290h3v3h-3zM270 288h3v3h-3zM270 286h2v2h-2zM443 191h2v2h-2zM445 193h3v3h-3zM289 161h2v2h-2zM289 159h3v3h-3zM287 161h2v2h-2zM285 163h3v3h-3zM486 405h2v2h-2zM269 154h3v3h-3zM267 154h2v2h-2zM267 156h3v3h-3zM280 209h2v2h-2zM282 211h3v3h-3zM284 213h2v2h-2zM286 211h2v2h-2zM293 139h2v2h-2zM293 141h2v2h-2zM270 160h2v2h-2zM270 162h2v2h-2zM270 160h2v2h-2zM268 160h3v3h-3zM270 160h2v2h-2zM272 162h2v2h-2zM497 373h2v2h-2zM497 371h2v2h-2zM495 262h2v2h-2zM493 264h2v2h-2zM491 264h2v2h-2zM493 266h2v2h-2zM249 214h2v2h-2zM249 216h2v2h-2zM251 214h2v2h-2zM251 214h3v3h-3zM249 214h3v3h-3zM276 228h3v3h-3zM278 226h2v2h-2zM276 228h3v3h-3zM328 241h2v2h-2zM326 243h2v2h-2zM326 243h2v2h-2zM326 243h3v3h-3zM326 243h3v3h-3zM328 241h2v2h-2zM414 373h3v3h-3zM412 371h2v2h-2zM414 371h3v3h-3zM412 371h2v2h-2zM412 373h3v3h-3zM482 259h2v2h-2zM482 261h2v2h-2zM260 210h3v3h-3zM258 212h2v2h-2zM260 210h3v3h-3zM262 210h2v2h-2zM545 330h2v2h-2zM545 330h2v2h-2zM547 332h2v2h-2zM292 139h2v2h-2zM290 137h2v2h-2zM290 139h2v2h-2zM495 371h2v2h-2zM493 371h2v2h-2zM493 369h2v2h-2zM493 369h3v3h-3zM491 371h3v3h-3zM491 369h3v3h-3zM252 228h2v2h-2zM250 228h3v3h-3zM248 226h2v2h-2zM246 226h3v3h-3zM244 226h3v3h-3zM280 137h2v2h-2zM282 139h3v3h-3zM280 141h2v2h-2zM280 139h2v2h-2zM412 339h2v2h-2zM410 337h2v2h-2zM408 335h2v2h-2zM408 333h2v2h-2zM406 331h2v2h-2zM380 266h3v3h-3zM541 304h2v2h-2zM541 302h2v2h-2zM539 300h2v2h-2zM541 302h2v2h-2zM539 302h2v2h-2zM483 420h2v2h-2zM286 227h3v3h-3zM288 227h3v3h-3zM286 229h2v2h-2zM288 227h2v2h-2zM506 419h2v2h-2zM415 338h3v3h-3zM296 237h3v3h-3zM294 237h2v2h-2zM296 237h2v2h-2zM296 235h2v2h-2zM294 235h2v2h-2zM292 233h2v2h-2zM380 297h3v3h-3zM378 297h2v2h-2zM397 367h2v2h-2zM397 367h2v2h-2zM397 369h2v2h-2zM395 369h2v2h-2zM395 371h2v2h-2zM397 371h2v2h-2zM298 136h2v2h-2zM296 134h2v2h-2zM298 134h2v2h-2zM296 132h2v2h-2zM294 132h3v3h-3zM296 134h2v2h-2zM250 210h2v2h-2zM407 362h2v2h-2zM409 360h2v2h-2zM409 358h2v2h-2zM409 360h3v3h-3zM271 227h3v3h-3zM273 227h2v2h-2zM275 225h2v2h-2zM506 404h2v2h-2zM332 174h3v3h-3zM332 176h2v2h-2zM332 174h2v2h-2zM332 172h2v2h-2zM332 172h3v3h-3zM332 170h2v2h-2zM329 331h3v3h-3zM331 333h2v2h-2zM335 180h2v2h-2zM335 182h2v2h-2zM337 180h2v2h-2zM335 180h2v2h-2zM335 178h2v2h-2zM277 287h3v3h-3zM275 289h3v3h-3zM273 289h2v2h-2zM273 291h3v3h-3zM271 293h3v3h-3zM271 291h2v2h-2zM280 231h2v2h-2zM280 233h2v2h-2zM282 235h2v2h-2zM488 400h3v3h-3zM490 398h2v2h-2zM492 400h2v2h-2zM490 400h3v3h-3zM492 402h3v3h-3zM460 195h2v2h-2zM460 195h3v3h-3zM460 197h3v3h-3zM288 144h2v2h-2zM286 142h3v3h-3zM288 140h2v2h-2zM290 138h2v2h-2zM486 408h3v3h-3zM486 410h2v2h-2zM484 410h2v2h-2zM482 408h3v3h-3zM480 410h3v3h-3zM482 412h2v2h-2zM477 270h3v3h-3zM416 339h3v3h-3zM416 337h3v3h-3zM500 366h2v2h-2zM500 364h3v3h-3zM502 366h2v2h-2zM499 396h2v2h-2zM501 398h3v3h-3zM499 400h2v2h-2zM268 137h3v3h-3zM300 279h2v2h-2zM301 286h2v2h-2zM302 270h2v2h-2zM495 257h2v2h-2zM493 259h2v2h-2zM493 257h2v2h-2zM495 259h3v3h-3zM408 364h2v2h-2zM408 366h2v2h-2zM408 368h3v3h-3zM410 368h2v2h-2zM490 392h2v2h-2zM492 394h3v3h-3zM494 394h2v2h-2zM496 394h2v2h-2zM484 415h3v3h-3zM484 415h3v3h-3zM484 413h2v2h-2zM486 411h2v2h-2zM486 413h2v2h-2zM491 376h3v3h-3zM493 376h3v3h-3zM491 376h3v3h-3zM489 378h3v3h-3zM422 389h3v3h-3zM422 391h2v2h-2zM422 391h2v2h-2zM422 389h3v3h-3zM422 387h2v2h-2zM295 142h2v2h-2zM497 418h2v2h-2zM495 420h3v3h-3zM497 420h3v3h-3zM332 178h2v2h-2zM332 178h2v2h-2zM330 176h2v2h-2zM330 174h2v2h-2zM332 176h2v2h-2zM334 178h2v2h-2zM491 272h3v3h-3zM493 274h3v3h-3zM317 143h2v2h-2zM317 143h2v2h-2zM319 145h2v2h-2zM421 376h2v2h-2zM421 378h3v3h-3zM421 380h3v3h-3zM414 367h3v3h-3zM377 312h3v3h-3zM375 314h2v2h-2zM375 316h2v2h-2zM375 314h3v3h-3zM373 314h2v2h-2zM373 314h2v2h-2zM298 227h2v2h-2zM298 227h2v2h-2zM296 227h2v2h-2zM298 225h2v2h-2zM300 223h3v3h-3zM302 223h3v3h-3zM441 192h2v2h-2zM502 364h2v2h-2zM502 362h3v3h-3zM504 362h3v3h-3zM506 364h2v2h-2zM422 372h2v2h-2zM424 374h2v2h-2zM426 372h2v2h-2zM485 248h3v3h-3zM485 250h2v2h-2zM487 250h2v2h-2zM487 248h2v2h-2zM487 250h2v2h-2zM501 360h3v3h-3zM543 313h2v2h-2zM545 315h3v3h-3zM492 266h3v3h-3zM490 264h2v2h-2zM490 262h2v2h-2zM490 262h2v2h-2zM342 331h2v2h-2zM340 333h2v2h-2zM342 335h2v2h-2zM344 333h2v2h-2zM540 321h2v2h-2zM542 323h2v2h-2zM540 321h2v2h-2zM542 321h2v2h-2zM274 140h3v3h-3zM410 370h2v2h-2zM408 372h2v2h-2zM406 374h2v2h-2zM404 376h3v3h-3zM497 372h3v3h-3zM495 374h3v3h-3zM493 372h2v2h-2zM495 370h2v2h-2zM493 372h2v2h-2zM493 370h2v2h-2zM285 240h2v2h-2zM285 240h2v2h-2zM285 240h3v3h-3zM273 233h3v3h-3zM301 281h2v2h-2zM303 279h2v2h-2zM301 277h2v2h-2zM301 279h2v2h-2zM303 281h3v3h-3zM256 175h2v2h-2zM258 175h2v2h-2zM420 379h3v3h-3zM422 377h2v2h-2zM422 379h2v2h-2zM422 377h2v2h-2zM422 375h2v2h-2zM424 377h3v3h-3zM388 266h2v2h-2zM386 266h2v2h-2zM388 266h3v3h-3zM274 171h3v3h-3zM274 171h2v2h-2zM284 157h2v2h-2zM284 155h2v2h-2zM284 157h2v2h-2zM286 155h2v2h-2zM286 153h2v2h-2zM276 235h3v3h-3zM278 235h2v2h-2zM274 157h2v2h-2zM276 157h2v2h-2zM278 157h2v2h-2zM276 159h2v2h-2zM487 407h2v2h-2zM487 407h3v3h-3zM485 407h3v3h-3zM487 405h3v3h-3zM489 405h3v3h-3zM487 256h2v2h-2zM300 140h2v2h-2zM302 140h2v2h-2zM300 138h2v2h-2zM497 403h2v2h-2zM499 403h2v2h-2zM501 401h2v2h-2zM503 401h2v2h-2zM505 399h2v2h-2zM505 399h3v3h-3zM300 273h3v3h-3zM302 275h2v2h-2zM258 228h3v3h-3zM260 230h3v3h-3zM269 137h2v2h-2zM320 325h2v2h-2zM320 327h2v2h-2zM320 329h3v3h-3zM320 329h2v2h-2zM320 331h3v3h-3zM322 329h3v3h-3zM483 412h3v3h-3zM481 412h3v3h-3zM481 412h2v2h-2zM483 410h2v2h-2zM481 408h2v2h-2zM505 413h2v2h-2zM505 413h3v3h-3zM505 411h2v2h-2zM507 409h3v3h-3zM509 409h3v3h-3zM484 252h2v2h-2zM482 250h3v3h-3zM482 248h2v2h-2zM484 250h3v3h-3zM274 232h2v2h-2zM274 232h3v3h-3zM276 232h2v2h-2zM543 340h2v2h-2zM545 342h2v2h-2zM545 340h3v3h-3zM543 342h3v3h-3zM545 344h2v2h-2zM281 227h3v3h-3zM281 227h2v2h-2zM256 156h2v2h-2zM256 158h3v3h-3zM258 158h2v2h-2zM256 160h3v3h-3zM258 162h2v2h-2zM258 162h2v2h-2zM490 402h2v2h-2zM488 402h2v2h-2zM486 402h3v3h-3zM484 400h2v2h-2zM486 402h3v3h-3zM511 409h3v3h-3zM289 160h3v3h-3zM287 206h3v3h-3zM287 204h2v2h-2zM289 204h2v2h-2zM289 206h2v2h-2zM437 191h2v2h-2zM437 193h2v2h-2zM437 195h2v2h-2zM305 310h2v2h-2zM303 310h2v2h-2zM318 229h2v2h-2zM290 234h2v2h-2zM288 236h2v2h-2zM290 236h2v2h-2zM288 236h2v2h-2zM290 236h2v2h-2zM290 234h2v2h-2zM491 269h3v3h-3zM491 271h2v2h-2zM489 271h2v2h-2zM489 273h2v2h-2zM489 271h3v3h-3zM489 269h2v2h-2zM417 376h3v3h-3zM419 376h3v3h-3zM419 374h3v3h-3zM417 374h3v3h-3zM417 376h3v3h-3zM269 143h2v2h-2zM271 141h2v2h-2zM269 141h2v2h-2zM500 416h3v3h-3zM502 418h2v2h-2zM504 420h2v2h-2zM471 267h2v2h-2zM471 265h2v2h-2zM369 324h2v2h-2zM306 287h3v3h-3zM304 285h3v3h-3zM306 283h2v2h-2zM308 285h2v2h-2zM286 234h2v2h-2zM286 232h2v2h-2zM288 234h2v2h-2zM286 232h2v2h-2zM284 234h2v2h-2zM482 406h3v3h-3zM484 404h2v2h-2zM484 402h2v2h-2zM482 404h2v2h-2zM482 402h2v2h-2zM298 231h2v2h-2zM397 367h3v3h-3zM399 369h3v3h-3zM401 369h2v2h-2zM401 369h3v3h-3zM401 371h2v2h-2zM400 367h3v3h-3zM398 365h3v3h-3zM400 365h2v2h-2zM402 367h2v2h-2zM488 420h2v2h-2zM501 419h2v2h-2zM503 421h3v3h-3zM501 419h3v3h-3zM499 417h2v2h-2zM501 417h2v2h-2zM262 209h2v2h-2zM264 211h2v2h-2zM262 211h2v2h-2zM260 204h3v3h-3zM260 206h2v2h-2zM260 204h2v2h-2zM262 202h2v2h-2zM274 233h2v2h-2zM276 235h3v3h-3zM276 237h3v3h-3zM276 237h2v2h-2zM274 235h3v3h-3zM419 359h3v3h-3zM421 357h3v3h-3zM419 359h2v2h-2zM421 357h2v2h-2zM421 359h2v2h-2zM265 138h2v2h-2zM267 136h2v2h-2zM262 155h2v2h-2zM264 157h2v2h-2zM266 157h2v2h-2zM266 157h2v2h-2zM264 157h2v2h-2zM262 157h2v2h-2zM488 388h3v3h-3zM486 390h3v3h-3zM484 390h2v2h-2zM484 257h2v2h-2zM482 259h3v3h-3zM480 259h2v2h-2zM478 257h2v2h-2zM505 401h2v2h-2zM507 399h2v2h-2zM280 228h2v2h-2zM282 230h2v2h-2zM282 232h2v2h-2zM284 234h2v2h-2zM282 234h2v2h-2zM284 232h2v2h-2zM422 359h3v3h-3zM422 361h2v2h-2zM262 166h2v2h-2zM260 168h3v3h-3zM258 170h2v2h-2zM256 168h3v3h-3zM258 168h3v3h-3zM256 168h3v3h-3zM296 280h3v3h-3zM296 282h2v2h-2zM296 282h3v3h-3zM296 282h2v2h-2zM261 163h2v2h-2zM263 161h2v2h-2zM265 161h2v2h-2zM267 161h3v3h-3zM265 163h2v2h-2zM273 232h3v3h-3zM271 234h2v2h-2zM269 236h3v3h-3zM269 236h3v3h-3zM267 236h3v3h-3zM480 391h2v2h-2zM480 393h2v2h-2zM501 361h3v3h-3zM503 361h2v2h-2zM505 363h2v2h-2zM505 365h2v2h-2zM505 363h2v2h-2zM505 361h2v2h-2zM278 160h2v2h-2zM277 205h3v3h-3zM277 207h3v3h-3zM275 207h2v2h-2zM277 205h2v2h-2zM275 205h3v3h-3zM277 203h2v2h-2zM253 163h2v2h-2zM255 163h2v2h-2zM278 166h2v2h-2zM276 166h3v3h-3zM288 207h2v2h-2zM286 209h3v3h-3zM342 267h3v3h-3zM344 265h2v2h-2zM342 267h3v3h-3zM342 267h2v2h-2zM340 265h2v2h-2zM484 392h3v3h-3zM482 390h2v2h-2zM484 388h3v3h-3zM486 386h3v3h-3zM283 164h3v3h-3zM281 166h2v2h-2zM281 166h2v2h-2zM283 164h2v2h-2zM279 293h3v3h-3zM279 295h2v2h-2zM279 295h3v3h-3zM279 295h2v2h-2zM279 293h2v2h-2zM279 295h2v2h-2zM334 187h3v3h-3zM483 255h2v2h-2zM481 257h3v3h-3zM483 259h3v3h-3zM481 261h3v3h-3zM320 236h2v2h-2zM318 234h2v2h-2zM316 234h2v2h-2zM383 375h2v2h-2zM381 375h2v2h-2zM379 373h2v2h-2zM553 303h2v2h-2zM553 301h3v3h-3zM555 301h2v2h-2zM553 301h2v2h-2zM254 157h3v3h-3zM254 157h3v3h-3zM254 159h2v2h-2zM390 270h2v2h-2zM392 270h2v2h-2zM394 270h2v2h-2zM392 272h3v3h-3zM390 270h3v3h-3zM388 270h2v2h-2zM504 389h2v2h-2zM506 391h2v2h-2zM506 391h2v2h-2zM491 398h2v2h-2zM493 398h2v2h-2zM300 239h2v2h-2zM302 239h3v3h-3zM300 239h2v2h-2zM300 241h2v2h-2zM302 243h2v2h-2zM302 241h2v2h-2zM321 327h2v2h-2zM323 325h2v2h-2zM325 323h3v3h-3zM298 278h2v2h-2zM300 280h2v2h-2zM302 280h2v2h-2zM498 360h2v2h-2zM500 360h2v2h-2zM498 360h2v2h-2zM498 360h2v2h-2zM271 235h2v2h-2zM269 233h3v3h-3zM271 235h2v2h-2zM288 237h2v2h-2zM406 365h3v3h-3zM408 365h2v2h-2zM406 367h2v2h-2zM248 202h2v2h-2zM246 202h2v2h-2zM283 238h2v2h-2zM281 238h3v3h-3zM281 240h3v3h-3zM281 240h3v3h-3zM511 412h2v2h-2zM511 412h3v3h-3zM509 414h3v3h-3zM511 416h3v3h-3zM509 414h2v2h-2zM307 313h2v2h-2zM305 315h3v3h-3zM303 317h3v3h-3zM301 317h2v2h-2zM496 266h3v3h-3zM496 268h3v3h-3zM494 266h2v2h-2zM252 173h2v2h-2zM285 237h2v2h-2zM285 235h2v2h-2zM283 237h3v3h-3zM283 239h3v3h-3zM298 140h3v3h-3zM298 142h3v3h-3zM296 140h2v2h-2zM511 368h3v3h-3zM513 366h3v3h-3zM513 364h3v3h-3zM513 364h2v2h-2zM515 362h2v2h-2zM528 406h2v2h-2zM530 408h2v2h-2zM532 408h2v2h-2zM532 410h2v2h-2zM534 408h2v2h-2zM532 410h2v2h-2z"/>
<path fill="#abdda4" d="M454 165h2v2h-2zM454 163h2v2h-2zM454 161h2v2h-2zM452 159h2v2h-2zM454 157h2v2h-2zM452 157h2v2h-2zM437 165h2v2h-2zM344 136h2v2h-2zM344 134h2v2h-2zM342 132h2v2h-2zM309 196h2v2h-2zM311 194h2v2h-2zM309 192h2v2h-2zM428 167h2v2h-2zM428 165h3v3h-3zM548 289h2v2h-2zM546 287h2v2h-2zM486 182h3v3h-3zM528 368h2v2h-2zM526 366h2v2h-2zM528 364h2v2h-2zM530 366h3v3h-3zM390 180h3v3h-3zM390 182h2v2h-2zM390 184h3v3h-3zM450 367h3v3h-3zM450 365h3v3h-3zM483 181h2v2h-2zM485 181h2v2h-2zM483 183h3v3h-3zM483 185h2v2h-2zM485 183h2v2h-2zM306 191h2v2h-2zM371 248h3v3h-3zM369 250h3v3h-3zM369 250h2v2h-2zM367 252h3v3h-3zM495 173h2v2h-2zM493 171h2v2h-2zM495 173h3v3h-3zM495 171h2v2h-2zM241 251h2v2h-2zM239 251h3v3h-3zM239 251h2v2h-2zM237 249h3v3h-3zM239 251h3v3h-3zM522 251h2v2h-2zM522 251h3v3h-3zM457 373h3v3h-3zM459 373h2v2h-2zM461 373h3v3h-3zM461 371h2v2h-2zM461 373h3v3h-3zM317 293h3v3h-3zM319 291h2v2h-2zM321 291h2v2h-2zM522 260h2v2h-2zM449 256h3v3h-3zM414 180h3v3h-3zM412 180h2v2h-2zM410 180h2v2h-2zM410 178h3v3h-3zM412 180h3v3h-3zM451 366h3v3h-3zM451 364h3v3h-3zM490 232h3v3h-3zM488 232h3v3h-3zM488 232h3v3h-3zM490 232h2v2h-2zM490 230h2v2h-2zM442 170h3v3h-3zM444 168h3v3h-3zM446 166h3v3h-3zM486 181h2v2h-2zM484 179h2v2h-2zM482 181h2v2h-2zM482 183h3v3h-3zM484 183h2v2h-2zM489 188h3v3h-3zM487 190h2v2h-2zM430 162h2v2h-2zM430 162h2v2h-2zM428 162h2v2h-2zM426 160h2v2h-2zM422 163h2v2h-2zM422 165h2v2h-2zM422 163h2v2h-2zM422 165h3v3h-3zM459 404h2v2h-2zM459 402h3v3h-3zM461 404h2v2h-2zM366 268h2v2h-2zM366 268h3v3h-3zM444 161h2v2h-2zM532 370h3v3h-3zM479 182h3v3h-3zM479 184h2v2h-2zM404 300h3v3h-3zM404 298h2v2h-2zM406 298h3v3h-3zM408 298h2v2h-2zM422 166h2v2h-2zM364 287h3v3h-3zM366 285h3v3h-3zM422 169h3v3h-3zM468 221h2v2h-2zM468 223h2v2h-2zM468 221h2v2h-2zM345 151h2v2h-2zM345 151h2v2h-2zM343 153h2v2h-2zM343 151h2v2h-2zM428 167h3v3h-3zM430 165h2v2h-2zM467 175h2v2h-2zM465 175h2v2h-2zM465 173h2v2h-2zM463 175h3v3h-3zM463 177h3v3h-3zM463 175h2v2h-2zM363 273h2v2h-2zM361 273h2v2h-2zM361 275h3v3h-3zM363 275h3v3h-3zM509 326h2v2h-2zM509 328h2v2h-2zM509 326h2v2h-2zM509 324h2v2h-2zM507 324h2v2h-2zM347 149h2v2h-2zM428 158h3v3h-3zM430 158h2v2h-2zM428 156h2v2h-2zM428 158h3v3h-3zM341 145h3v3h-3zM341 147h2v2h-2zM343 147h2v2h-2zM341 149h2v2h-2zM400 389h2v2h-2zM481 211h3v3h-3zM481 213h2v2h-2zM481 213h2v2h-2zM479 211h2v2h-2zM477 209h2v2h-2zM477 211h2v2h-2zM520 288h2v2h-2zM518 288h2v2h-2zM518 290h3v3h-3zM520 288h2v2h-2zM522 286h2v2h-2zM538 257h2v2h-2zM540 259h2v2h-2zM512 315h3v3h-3zM514 313h3v3h-3zM512 311h3v3h-3zM512 309h3v3h-3zM514 307h3v3h-3zM514 309h2v2h-2zM383 137h2v2h-2zM434 163h2v2h-2zM436 165h2v2h-2zM438 165h3v3h-3zM438 163h2v2h-2zM438 161h2v2h-2zM488 168h2v2h-2zM486 168h2v2h-2zM488 170h3v3h-3zM490 170h2v2h-2zM490 168h3v3h-3zM488 168h2v2h-2zM297 327h2v2h-2zM295 327h3v3h-3zM295 327h2v2h-2zM427 158h2v2h-2zM429 156h3v3h-3zM431 154h3v3h-3zM431 156h3v3h-3zM482 183h2v2h-2zM482 181h2v2h-2zM482 181h2v2h-2zM480 179h2v2h-2zM478 181h2v2h-2zM571 271h2v2h-2zM569 273h2v2h-2zM569 273h2v2h-2zM413 176h2v2h-2zM415 174h2v2h-2zM413 176h3v3h-3zM413 174h2v2h-2zM411 176h2v2h-2zM409 178h2v2h-2zM519 258h2v2h-2zM517 260h2v2h-2zM515 262h2v2h-2zM517 264h2v2h-2zM517 266h2v2h-2zM481 164h2v2h-2zM488 211h3v3h-3zM490 209h2v2h-2zM488 209h2v2h-2zM490 207h2v2h-2zM490 209h2v2h-2zM404 307h3v3h-3zM366 177h2v2h-2zM368 177h2v2h-2zM370 179h2v2h-2zM372 177h2v2h-2zM374 175h2v2h-2zM374 173h3v3h-3zM459 373h2v2h-2zM464 175h2v2h-2zM466 175h2v2h-2zM466 177h2v2h-2zM466 175h2v2h-2zM466 173h2v2h-2zM468 173h3v3h-3zM430 176h2v2h-2zM412 310h2v2h-2zM412 308h2v2h-2zM410 306h3v3h-3zM410 308h2v2h-2zM408 310h2v2h-2zM408 310h3v3h-3zM541 265h3v3h-3zM543 265h3v3h-3zM543 263h2v2h-2zM541 261h3v3h-3zM461 175h2v2h-2zM460 163h3v3h-3zM460 165h2v2h-2zM460 167h2v2h-2zM462 167h2v2h-2zM251 272h2v2h-2zM253 274h2v2h-2zM255 276h2v2h-2zM255 274h2v2h-2zM459 172h3v3h-3zM510 323h2v2h-2zM508 321h2v2h-2zM510 319h3v3h-3zM512 317h3v3h-3zM513 314h2v2h-2zM513 312h2v2h-2zM513 314h2v2h-2zM256 283h2v2h-2zM254 281h2v2h-2zM256 279h2v2h-2zM258 279h3v3h-3zM260 277h2v2h-2zM514 263h3v3h-3zM512 265h2v2h-2zM308 194h2v2h-2zM308 196h2v2h-2zM308 194h2v2h-2zM306 192h3v3h-3zM306 194h3v3h-3zM308 194h3v3h-3zM471 176h2v2h-2zM469 174h3v3h-3zM469 174h3v3h-3zM507 337h2v2h-2zM509 335h2v2h-2zM511 335h2v2h-2zM513 337h3v3h-3zM467 210h2v2h-2zM465 212h2v2h-2zM476 187h3v3h-3zM476 187h2v2h-2zM474 189h3v3h-3zM474 191h3v3h-3zM485 164h3v3h-3zM487 166h2v2h-2zM495 227h2v2h-2zM493 227h3v3h-3zM495 227h3v3h-3zM493 229h2v2h-2zM459 245h3v3h-3zM459 247h2v2h-2zM347 137h2v2h-2zM571 347h3v3h-3zM573 347h2v2h-2zM255 280h2v2h-2zM255 282h2v2h-2zM255 280h3v3h-3zM360 291h2v2h-2zM358 289h2v2h-2zM455 178h2v2h-2zM453 178h2v2h-2zM453 180h2v2h-2zM453 180h3v3h-3zM399 391h3v3h-3zM397 393h3v3h-3zM399 391h3v3h-3zM397 389h2v2h-2zM395 387h3v3h-3zM395 385h2v2h-2zM394 332h2v2h-2zM486 217h3v3h-3zM484 219h3v3h-3zM486 219h2v2h-2zM484 221h2v2h-2zM486 223h2v2h-2zM484 225h3v3h-3zM542 266h2v2h-2zM544 264h3v3h-3zM546 262h2v2h-2zM548 260h3v3h-3zM550 260h2v2h-2zM552 260h3v3h-3zM509 284h3v3h-3zM511 284h3v3h-3zM513 282h2v2h-2zM515 282h3v3h-3zM517 284h2v2h-2zM538 379h3v3h-3zM538 377h3v3h-3zM536 379h3v3h-3zM572 281h2v2h-2zM516 293h2v2h-2zM518 293h2v2h-2zM520 291h2v2h-2zM518 291h2v2h-2zM520 291h2v2h-2zM354 186h2v2h-2zM352 188h2v2h-2zM354 188h2v2h-2zM352 186h2v2h-2zM550 267h2v2h-2zM519 295h2v2h-2zM521 295h2v2h-2zM523 297h3v3h-3zM516 271h3v3h-3zM514 271h2v2h-2zM537 376h2v2h-2zM537 378h2v2h-2zM542 271h2v2h-2zM544 269h3v3h-3zM542 271h2v2h-2zM409 307h3v3h-3zM409 305h2v2h-2zM409 303h3v3h-3zM407 303h3v3h-3zM456 251h2v2h-2zM498 319h3v3h-3zM496 321h2v2h-2zM496 321h3v3h-3zM417 168h2v2h-2zM417 170h3v3h-3zM419 172h2v2h-2zM417 172h3v3h-3zM415 170h3v3h-3zM480 235h2v2h-2zM480 237h2v2h-2zM346 158h3v3h-3zM344 156h2v2h-2zM346 158h2v2h-2zM344 156h2v2h-2zM346 158h3v3h-3zM516 268h2v2h-2zM516 270h2v2h-2zM514 270h2v2h-2zM514 272h2v2h-2zM516 274h3v3h-3zM516 276h3v3h-3zM385 144h2v2h-2zM491 234h3v3h-3zM489 232h3v3h-3zM491 234h3v3h-3zM366 273h3v3h-3zM366 275h2v2h-2zM364 273h2v2h-2zM366 271h2v2h-2zM360 303h3v3h-3zM360 303h2v2h-2zM458 244h2v2h-2zM456 246h3v3h-3zM456 246h2v2h-2zM458 246h3v3h-3zM377 180h3v3h-3zM379 182h2v2h-2zM377 184h3v3h-3zM379 182h3v3h-3zM379 184h2v2h-2zM381 184h2v2h-2zM458 373h3v3h-3zM501 324h3v3h-3zM499 324h2v2h-2zM497 326h2v2h-2zM293 321h2v2h-2zM347 291h3v3h-3zM349 289h3v3h-3zM349 287h2v2h-2zM523 322h2v2h-2zM477 179h2v2h-2zM477 177h2v2h-2zM479 179h2v2h-2zM476 225h2v2h-2zM476 225h2v2h-2zM476 227h3v3h-3zM474 229h2v2h-2zM476 231h2v2h-2zM476 231h3v3h-3zM525 301h2v2h-2zM527 301h2v2h-2zM525 301h2v2h-2zM466 162h3v3h-3zM491 344h2v2h-2zM364 301h2v2h-2zM413 310h2v2h-2zM411 312h2v2h-2zM356 183h3v3h-3zM356 181h2v2h-2zM358 179h3v3h-3zM358 181h2v2h-2zM501 325h2v2h-2zM501 327h2v2h-2zM503 325h2v2h-2zM503 325h3v3h-3zM244 252h3v3h-3zM242 250h3v3h-3zM453 168h3v3h-3zM455 166h2v2h-2zM510 337h2v2h-2zM499 338h3v3h-3zM497 338h2v2h-2zM499 336h2v2h-2zM497 338h2v2h-2zM495 340h3v3h-3zM497 338h3v3h-3zM457 172h2v2h-2zM457 170h3v3h-3zM317 286h2v2h-2zM319 286h2v2h-2zM321 284h2v2h-2zM319 282h2v2h-2zM459 396h3v3h-3zM465 237h2v2h-2zM450 166h2v2h-2zM452 168h2v2h-2zM450 166h2v2h-2zM448 164h2v2h-2zM448 164h2v2h-2zM446 164h2v2h-2zM459 257h2v2h-2zM318 298h2v2h-2zM320 298h2v2h-2zM473 212h2v2h-2zM475 212h2v2h-2zM477 210h2v2h-2zM477 212h2v2h-2zM475 214h2v2h-2zM468 215h2v2h-2zM470 213h2v2h-2zM522 296h2v2h-2zM522 294h3v3h-3zM471 171h3v3h-3zM473 169h2v2h-2zM475 167h2v2h-2zM473 165h3v3h-3zM475 165h2v2h-2zM458 370h2v2h-2zM460 370h3v3h-3zM458 370h2v2h-2zM460 370h3v3h-3zM451 253h2v2h-2zM449 251h3v3h-3zM447 251h3v3h-3zM521 250h2v2h-2zM523 250h2v2h-2zM521 250h2v2h-2zM521 248h2v2h-2zM521 246h2v2h-2zM521 244h2v2h-2zM511 332h2v2h-2zM511 334h2v2h-2zM509 332h2v2h-2zM509 332h2v2h-2zM455 181h3v3h-3zM455 183h2v2h-2zM457 181h2v2h-2zM455 179h2v2h-2zM453 177h2v2h-2zM451 177h2v2h-2zM362 268h2v2h-2zM364 268h2v2h-2zM360 275h2v2h-2zM362 275h2v2h-2zM365 180h2v2h-2zM367 180h2v2h-2zM523 251h3v3h-3zM521 251h2v2h-2zM519 253h3v3h-3zM519 251h2v2h-2zM536 373h3v3h-3zM536 371h2v2h-2zM340 144h3v3h-3zM396 306h3v3h-3zM394 306h2v2h-2zM392 308h3v3h-3zM343 158h3v3h-3zM379 184h2v2h-2zM379 186h3v3h-3zM253 267h2v2h-2zM251 269h2v2h-2zM253 267h2v2h-2zM253 265h3v3h-3zM251 263h2v2h-2zM363 166h3v3h-3zM361 164h3v3h-3zM363 166h2v2h-2zM365 166h2v2h-2zM507 298h2v2h-2zM509 298h2v2h-2zM511 298h2v2h-2zM513 298h3v3h-3zM511 300h2v2h-2zM509 302h2v2h-2zM538 255h3v3h-3zM540 257h2v2h-2zM542 259h2v2h-2zM542 257h2v2h-2zM540 255h3v3h-3zM558 290h3v3h-3zM558 290h2v2h-2zM560 288h3v3h-3zM562 288h2v2h-2zM564 286h2v2h-2zM347 284h2v2h-2zM496 214h3v3h-3zM496 216h2v2h-2zM498 216h2v2h-2zM498 218h3v3h-3zM500 216h3v3h-3zM323 306h2v2h-2zM325 306h2v2h-2zM323 306h2v2h-2zM325 306h2v2h-2zM327 306h3v3h-3zM325 308h3v3h-3zM423 178h2v2h-2zM421 178h2v2h-2zM507 335h2v2h-2zM509 337h3v3h-3zM507 335h2v2h-2zM505 335h2v2h-2zM317 291h3v3h-3zM319 291h2v2h-2zM321 291h2v2h-2zM418 302h2v2h-2zM461 242h2v2h-2zM461 242h2v2h-2zM463 244h3v3h-3zM388 179h2v2h-2zM390 181h2v2h-2zM388 183h2v2h-2zM388 185h2v2h-2zM386 185h2v2h-2zM386 183h2v2h-2zM419 311h3v3h-3zM419 311h2v2h-2zM419 309h3v3h-3zM419 307h2v2h-2zM421 305h2v2h-2zM423 305h2v2h-2zM366 287h3v3h-3zM368 285h2v2h-2zM471 215h2v2h-2zM473 217h3v3h-3zM473 219h2v2h-2zM475 217h2v2h-2zM473 217h3v3h-3zM430 166h3v3h-3zM428 168h2v2h-2zM426 166h2v2h-2zM428 164h2v2h-2zM451 240h2v2h-2zM453 238h2v2h-2zM455 238h3v3h-3zM455 236h2v2h-2zM457 238h2v2h-2zM455 236h2v2h-2zM509 317h2v2h-2zM509 317h2v2h-2zM511 317h3v3h-3zM511 317h3v3h-3zM511 317h3v3h-3zM511 317h2v2h-2zM494 189h2v2h-2zM495 336h2v2h-2zM497 334h3v3h-3zM442 178h3v3h-3zM440 178h2v2h-2zM508 317h2v2h-2zM506 319h3v3h-3zM508 317h2v2h-2zM470 161h3v3h-3zM468 161h2v2h-2zM466 159h2v2h-2zM466 161h2v2h-2zM475 216h2v2h-2zM475 218h2v2h-2zM475 218h2v2h-2zM475 216h2v2h-2zM473 218h3v3h-3zM473 218h2v2h-2zM514 297h3v3h-3zM449 163h2v2h-2zM364 173h3v3h-3zM364 173h2v2h-2zM360 296h3v3h-3zM362 298h2v2h-2zM446 157h3v3h-3zM444 155h2v2h-2zM444 157h2v2h-2zM444 157h2v2h-2zM403 170h2v2h-2zM403 168h3v3h-3zM405 166h2v2h-2zM403 168h2v2h-2zM401 170h3v3h-3zM399 168h3v3h-3zM493 197h2v2h-2zM495 197h2v2h-2zM495 195h2v2h-2zM451 253h3v3h-3zM453 253h2v2h-2zM540 285h2v2h-2zM542 287h2v2h-2zM542 287h2v2h-2zM453 161h3v3h-3zM451 159h2v2h-2zM449 159h2v2h-2zM483 189h3v3h-3zM485 187h2v2h-2zM483 189h2v2h-2zM485 189h2v2h-2zM524 300h2v2h-2zM526 302h2v2h-2zM526 302h2v2h-2zM507 317h2v2h-2zM505 317h2v2h-2zM505 319h3v3h-3zM505 319h3v3h-3zM475 220h2v2h-2zM475 218h2v2h-2zM473 218h2v2h-2zM473 218h3v3h-3zM473 218h2v2h-2zM475 216h3v3h-3zM500 287h3v3h-3zM500 285h3v3h-3zM502 287h3v3h-3zM500 285h2v2h-2zM500 283h2v2h-2zM500 285h3v3h-3zM482 191h3v3h-3zM473 212h2v2h-2zM473 212h2v2h-2zM496 223h2v2h-2zM498 223h3v3h-3zM498 221h2v2h-2zM496 223h3v3h-3zM455 239h2v2h-2zM453 237h2v2h-2zM455 239h3v3h-3zM457 239h2v2h-2zM455 237h2v2h-2zM339 297h2v2h-2zM488 183h2v2h-2zM488 183h2v2h-2zM488 181h2v2h-2zM490 181h2v2h-2zM490 179h2v2h-2zM490 177h3v3h-3zM443 170h3v3h-3zM443 168h3v3h-3zM443 170h3v3h-3zM443 168h3v3h-3zM441 168h2v2h-2zM522 315h3v3h-3zM520 317h2v2h-2zM522 319h2v2h-2zM520 319h2v2h-2zM520 321h2v2h-2zM522 321h2v2h-2zM479 179h3v3h-3zM479 177h2v2h-2zM477 177h2v2h-2zM479 177h2v2h-2zM481 179h2v2h-2zM365 249h2v2h-2zM363 249h2v2h-2zM361 249h2v2h-2zM359 249h3v3h-3zM365 275h2v2h-2zM367 277h2v2h-2zM367 279h2v2h-2zM365 277h2v2h-2zM365 277h2v2h-2zM363 275h3v3h-3zM394 333h2v2h-2zM396 333h2v2h-2zM409 308h3v3h-3zM409 308h2v2h-2zM409 308h2v2h-2zM407 308h2v2h-2zM405 308h3v3h-3zM403 308h2v2h-2zM375 169h2v2h-2zM377 169h2v2h-2zM377 167h3v3h-3zM379 167h2v2h-2zM377 167h2v2h-2zM379 169h2v2h-2zM347 286h3v3h-3zM443 176h3v3h-3zM443 178h2v2h-2zM443 178h2v2h-2zM441 176h2v2h-2zM471 214h2v2h-2zM421 168h3v3h-3zM419 166h2v2h-2zM421 164h2v2h-2zM419 164h3v3h-3zM419 162h2v2h-2zM419 160h2v2h-2zM298 329h2v2h-2zM298 327h2v2h-2zM298 327h2v2h-2zM298 329h3v3h-3zM296 327h3v3h-3zM294 327h2v2h-2zM420 307h3v3h-3zM418 309h3v3h-3zM416 311h3v3h-3zM416 311h2v2h-2zM416 313h3v3h-3zM513 308h2v2h-2zM511 308h2v2h-2zM487 226h2v2h-2zM489 226h2v2h-2zM489 228h2v2h-2zM487 228h2v2h-2zM463 168h3v3h-3zM461 168h2v2h-2zM459 170h3v3h-3zM461 172h3v3h-3zM348 244h2v2h-2zM346 246h2v2h-2zM348 246h2v2h-2zM466 175h2v2h-2zM464 177h3v3h-3zM464 177h3v3h-3zM466 175h2v2h-2zM464 177h3v3h-3zM466 179h2v2h-2zM461 176h2v2h-2zM372 173h2v2h-2zM370 173h3v3h-3zM368 175h3v3h-3zM364 266h2v2h-2zM362 268h2v2h-2zM364 270h2v2h-2zM457 243h3v3h-3zM456 412h2v2h-2zM458 410h3v3h-3zM456 412h2v2h-2zM507 295h3v3h-3zM505 293h2v2h-2zM505 293h2v2h-2zM503 293h2v2h-2zM501 293h2v2h-2zM501 291h3v3h-3zM449 171h2v2h-2zM447 173h3v3h-3zM445 171h2v2h-2zM445 171h3v3h-3zM346 246h2v2h-2zM346 246h3v3h-3zM348 248h3v3h-3zM346 246h2v2h-2zM344 246h3v3h-3zM347 292h3v3h-3zM349 292h3v3h-3zM349 290h2v2h-2zM351 288h2v2h-2zM353 288h2v2h-2zM376 161h2v2h-2zM374 163h2v2h-2zM376 161h2v2h-2zM374 159h2v2h-2zM376 161h2v2h-2zM374 161h2v2h-2zM538 247h2v2h-2zM538 245h3v3h-3zM538 247h3v3h-3zM540 249h3v3h-3zM438 360h3v3h-3zM436 358h3v3h-3zM434 360h2v2h-2zM509 287h2v2h-2zM511 287h2v2h-2zM511 287h3v3h-3zM509 285h2v2h-2zM433 159h3v3h-3zM435 157h3v3h-3zM437 159h3v3h-3zM435 157h2v2h-2zM435 155h2v2h-2zM461 253h2v2h-2zM484 175h2v2h-2zM482 173h2v2h-2zM465 232h2v2h-2zM467 234h3v3h-3zM467 232h3v3h-3zM467 234h3v3h-3zM419 157h3v3h-3zM419 155h2v2h-2zM417 157h2v2h-2zM521 319h2v2h-2zM521 317h2v2h-2zM489 189h3v3h-3zM489 189h3v3h-3zM487 187h3v3h-3zM500 311h2v2h-2zM500 313h3v3h-3zM498 313h3v3h-3zM498 315h3v3h-3zM521 251h2v2h-2zM521 249h3v3h-3zM519 251h2v2h-2zM517 251h2v2h-2zM515 249h2v2h-2zM424 173h3v3h-3zM413 308h2v2h-2zM411 306h2v2h-2zM409 304h2v2h-2zM407 304h2v2h-2zM567 345h2v2h-2zM567 347h3v3h-3zM567 349h3v3h-3zM567 347h2v2h-2zM567 347h2v2h-2zM365 299h2v2h-2zM365 299h2v2h-2zM367 299h2v2h-2zM365 299h3v3h-3zM367 301h2v2h-2zM367 301h2v2h-2zM469 231h2v2h-2zM471 233h2v2h-2zM469 231h3v3h-3zM467 233h2v2h-2zM467 231h3v3h-3zM467 231h2v2h-2zM449 364h3v3h-3zM447 366h2v2h-2zM447 364h3v3h-3zM445 366h2v2h-2zM253 278h2v2h-2zM255 280h2v2h-2zM253 282h2v2h-2zM253 282h3v3h-3zM255 280h2v2h-2zM255 282h2v2h-2zM471 177h2v2h-2zM469 179h2v2h-2zM469 181h2v2h-2zM467 179h2v2h-2zM488 217h2v2h-2zM488 219h2v2h-2zM486 217h2v2h-2zM488 217h3v3h-3zM488 215h2v2h-2zM488 179h3v3h-3zM488 177h3v3h-3zM486 177h3v3h-3zM486 177h3v3h-3zM535 374h2v2h-2zM537 372h2v2h-2zM537 372h2v2h-2zM535 372h3v3h-3zM537 372h3v3h-3zM292 319h2v2h-2zM294 317h3v3h-3zM296 317h3v3h-3zM296 319h2v2h-2zM435 363h2v2h-2zM437 365h2v2h-2zM437 363h2v2h-2zM435 363h2v2h-2zM433 363h2v2h-2zM435 363h2v2h-2zM469 169h2v2h-2zM471 169h3v3h-3zM473 169h3v3h-3zM523 271h2v2h-2zM521 269h3v3h-3zM523 271h2v2h-2zM525 273h2v2h-2zM334 295h3v3h-3zM334 297h2v2h-2zM332 295h3v3h-3zM364 276h2v2h-2zM366 278h3v3h-3zM368 276h3v3h-3zM366 276h3v3h-3zM362 304h2v2h-2zM247 275h2v2h-2zM249 275h3v3h-3zM356 181h3v3h-3zM356 181h2v2h-2zM356 181h3v3h-3zM418 307h3v3h-3zM418 309h3v3h-3zM420 311h2v2h-2zM388 178h2v2h-2zM390 176h2v2h-2zM340 281h2v2h-2zM338 279h2v2h-2zM340 281h2v2h-2zM340 281h3v3h-3zM342 281h3v3h-3zM470 166h3v3h-3zM468 166h3v3h-3zM468 164h3v3h-3zM366 290h3v3h-3zM366 288h2v2h-2zM368 290h2v2h-2zM370 288h3v3h-3zM368 288h2v2h-2zM366 286h2v2h-2zM565 264h3v3h-3zM565 264h2v2h-2zM465 175h2v2h-2zM465 173h2v2h-2zM463 175h2v2h-2zM461 177h2v2h-2zM463 177h2v2h-2zM465 175h2v2h-2zM535 378h3v3h-3zM533 378h3v3h-3zM497 329h2v2h-2zM497 329h2v2h-2zM499 331h3v3h-3zM497 333h2v2h-2zM373 163h2v2h-2zM502 319h3v3h-3zM500 317h3v3h-3zM498 319h2v2h-2zM500 321h2v2h-2zM498 321h2v2h-2zM489 218h2v2h-2zM491 218h2v2h-2zM491 216h3v3h-3zM491 216h3v3h-3zM489 214h2v2h-2zM491 216h2v2h-2zM371 183h2v2h-2zM373 185h2v2h-2zM371 183h2v2h-2zM527 371h3v3h-3zM525 369h3v3h-3zM525 369h3v3h-3zM527 367h2v2h-2zM525 365h3v3h-3zM513 334h2v2h-2zM513 334h3v3h-3zM472 214h2v2h-2zM472 212h2v2h-2zM385 145h2v2h-2zM383 147h2v2h-2zM381 145h2v2h-2zM383 147h2v2h-2zM381 147h3v3h-3zM381 149h3v3h-3zM362 298h2v2h-2zM362 296h3v3h-3zM362 294h2v2h-2zM364 292h3v3h-3zM491 197h2v2h-2zM489 199h3v3h-3zM509 306h2v2h-2zM507 304h3v3h-3zM505 304h3v3h-3zM505 302h2v2h-2zM503 302h2v2h-2zM505 300h3v3h-3zM481 183h2v2h-2zM463 166h2v2h-2zM461 164h2v2h-2zM463 162h2v2h-2zM465 160h3v3h-3zM463 162h3v3h-3zM473 220h2v2h-2zM519 263h3v3h-3zM521 263h2v2h-2zM498 293h2v2h-2zM498 291h2v2h-2zM496 291h2v2h-2zM496 293h3v3h-3zM465 243h2v2h-2zM467 241h2v2h-2zM436 372h2v2h-2zM452 246h2v2h-2zM450 246h3v3h-3zM452 246h3v3h-3zM452 248h2v2h-2zM295 329h2v2h-2zM293 331h2v2h-2zM293 333h2v2h-2zM291 333h2v2h-2zM291 335h2v2h-2zM362 291h2v2h-2zM360 289h2v2h-2zM360 291h3v3h-3zM362 293h3v3h-3zM362 293h2v2h-2zM303 332h2v2h-2zM448 257h3v3h-3zM450 259h3v3h-3zM526 304h2v2h-2zM528 306h2v2h-2zM526 306h2v2h-2zM528 308h2v2h-2zM526 308h3v3h-3zM444 406h2v2h-2zM442 408h2v2h-2zM454 259h2v2h-2zM456 259h2v2h-2zM454 257h3v3h-3zM452 257h2v2h-2zM450 259h3v3h-3zM512 334h2v2h-2zM510 332h2v2h-2zM512 332h2v2h-2zM514 330h2v2h-2zM514 332h3v3h-3zM514 334h3v3h-3zM353 243h2v2h-2zM351 241h2v2h-2zM349 241h2v2h-2zM349 239h2v2h-2zM347 237h3v3h-3zM349 235h2v2h-2zM503 285h3v3h-3zM503 285h2v2h-2zM471 231h2v2h-2zM471 231h2v2h-2zM469 231h3v3h-3zM428 173h3v3h-3zM254 279h2v2h-2zM252 279h2v2h-2zM254 277h2v2h-2zM254 279h2v2h-2zM501 338h2v2h-2zM499 340h3v3h-3zM501 338h2v2h-2zM499 340h3v3h-3zM497 338h3v3h-3zM404 179h2v2h-2zM406 181h3v3h-3zM408 179h2v2h-2zM408 181h3v3h-3zM410 181h2v2h-2zM408 181h2v2h-2zM429 173h3v3h-3zM427 171h2v2h-2zM429 173h3v3h-3zM372 173h2v2h-2zM374 173h2v2h-2zM374 175h2v2h-2zM458 371h2v2h-2zM456 371h3v3h-3zM456 369h3v3h-3zM449 254h3v3h-3zM451 254h2v2h-2zM453 252h3v3h-3zM453 254h3v3h-3zM525 320h3v3h-3zM525 318h2v2h-2zM523 316h2v2h-2zM449 255h2v2h-2zM449 253h2v2h-2zM451 253h3v3h-3zM453 251h2v2h-2zM495 215h2v2h-2zM497 217h2v2h-2zM495 217h2v2h-2zM480 223h2v2h-2zM478 225h3v3h-3zM476 225h2v2h-2zM476 225h2v2h-2zM476 227h2v2h-2zM476 229h3v3h-3zM313 338h2v2h-2zM397 386h2v2h-2zM399 388h2v2h-2zM548 257h3v3h-3zM546 257h2v2h-2zM544 259h2v2h-2zM542 257h2v2h-2zM542 257h3v3h-3zM342 157h2v2h-2zM342 155h3v3h-3zM344 155h2v2h-2zM476 211h2v2h-2zM476 211h2v2h-2zM478 213h3v3h-3zM478 215h3v3h-3zM476 213h3v3h-3zM478 213h3v3h-3zM458 378h2v2h-2zM460 376h2v2h-2zM462 374h3v3h-3zM460 374h2v2h-2zM251 269h2v2h-2zM251 267h3v3h-3zM253 267h3v3h-3zM255 269h2v2h-2zM255 269h2v2h-2zM255 267h2v2h-2zM497 329h2v2h-2zM497 331h3v3h-3zM495 329h2v2h-2zM493 327h3v3h-3zM412 300h2v2h-2zM417 181h2v2h-2zM417 179h2v2h-2zM415 181h3v3h-3zM413 181h2v2h-2zM413 179h3v3h-3zM413 177h3v3h-3zM495 190h2v2h-2zM495 190h2v2h-2zM493 188h3v3h-3zM495 190h2v2h-2zM497 188h2v2h-2zM495 186h2v2h-2zM539 372h2v2h-2zM368 166h2v2h-2zM458 373h3v3h-3zM456 371h2v2h-2zM458 369h2v2h-2zM460 367h3v3h-3zM460 369h3v3h-3zM525 293h2v2h-2zM523 291h2v2h-2zM523 291h3v3h-3zM523 293h3v3h-3zM521 291h2v2h-2zM521 289h2v2h-2zM533 257h3v3h-3zM533 255h2v2h-2zM533 257h2v2h-2zM531 259h3v3h-3zM511 310h3v3h-3zM511 308h2v2h-2zM509 263h2v2h-2zM507 265h2v2h-2zM347 155h2v2h-2zM491 217h2v2h-2zM491 219h2v2h-2zM499 313h2v2h-2zM499 313h2v2h-2zM497 313h3v3h-3zM499 311h2v2h-2zM416 303h3v3h-3zM414 303h3v3h-3zM515 313h2v2h-2zM513 336h2v2h-2zM515 334h2v2h-2zM517 336h2v2h-2zM461 399h2v2h-2zM463 401h3v3h-3zM465 403h2v2h-2zM467 403h2v2h-2zM469 403h2v2h-2zM471 403h2v2h-2zM390 185h3v3h-3zM390 183h2v2h-2zM390 183h3v3h-3zM392 181h3v3h-3zM394 179h3v3h-3zM458 174h3v3h-3zM458 174h2v2h-2zM460 174h3v3h-3zM488 176h2v2h-2zM486 178h2v2h-2zM446 176h3v3h-3zM446 174h2v2h-2zM449 157h2v2h-2zM451 159h2v2h-2zM433 172h3v3h-3zM431 172h2v2h-2zM429 172h3v3h-3zM431 170h2v2h-2zM288 312h2v2h-2zM365 268h2v2h-2zM363 266h2v2h-2zM365 266h3v3h-3zM363 268h3v3h-3zM365 270h3v3h-3zM367 272h3v3h-3zM491 168h2v2h-2zM493 170h2v2h-2zM491 172h3v3h-3zM489 174h2v2h-2zM448 235h2v2h-2zM450 235h2v2h-2zM448 233h2v2h-2zM446 235h3v3h-3zM448 237h2v2h-2zM436 179h3v3h-3zM436 177h2v2h-2zM438 177h3v3h-3zM467 242h3v3h-3zM469 244h2v2h-2zM467 244h3v3h-3zM362 164h2v2h-2zM360 164h2v2h-2zM360 162h2v2h-2zM358 162h2v2h-2zM360 160h2v2h-2zM362 158h2v2h-2zM496 218h2v2h-2zM498 218h2v2h-2zM492 171h2v2h-2zM490 169h3v3h-3zM451 174h3v3h-3zM453 174h2v2h-2zM455 172h3v3h-3zM457 170h2v2h-2zM459 168h3v3h-3zM461 170h2v2h-2zM484 226h2v2h-2zM486 226h2v2h-2zM486 226h2v2h-2zM484 224h2v2h-2zM380 184h3v3h-3zM382 182h2v2h-2zM384 184h3v3h-3zM386 184h2v2h-2zM496 224h3v3h-3zM496 226h2v2h-2zM498 228h3v3h-3zM496 226h3v3h-3zM339 137h2v2h-2zM337 137h2v2h-2zM339 139h2v2h-2zM341 141h3v3h-3zM341 139h3v3h-3zM339 137h3v3h-3zM491 165h2v2h-2zM491 165h2v2h-2zM489 165h2v2h-2zM491 194h2v2h-2zM489 192h3v3h-3zM473 225h2v2h-2zM471 225h3v3h-3zM471 227h2v2h-2zM471 229h2v2h-2zM473 231h3v3h-3zM475 231h3v3h-3zM559 280h2v2h-2zM557 282h2v2h-2zM559 280h2v2h-2zM561 278h2v2h-2zM563 278h2v2h-2zM563 276h3v3h-3zM517 300h2v2h-2zM517 298h2v2h-2zM519 296h2v2h-2zM519 298h2v2h-2zM357 163h2v2h-2zM462 178h2v2h-2zM464 176h3v3h-3zM466 176h2v2h-2zM468 176h2v2h-2zM466 176h2v2h-2zM466 178h2v2h-2zM435 362h2v2h-2zM433 362h3v3h-3zM435 364h3v3h-3zM435 364h3v3h-3zM555 278h3v3h-3zM553 278h2v2h-2zM553 280h2v2h-2zM555 280h3v3h-3zM555 278h3v3h-3zM498 311h2v2h-2zM496 309h2v2h-2zM496 309h2v2h-2zM494 309h2v2h-2zM344 281h3v3h-3zM342 281h3v3h-3zM493 195h2v2h-2zM491 195h2v2h-2zM489 193h2v2h-2zM487 193h2v2h-2zM489 191h2v2h-2zM512 310h2v2h-2zM510 310h3v3h-3zM512 308h2v2h-2zM501 329h2v2h-2zM351 167h3v3h-3zM351 165h2v2h-2zM349 163h2v2h-2zM349 163h2v2h-2zM518 310h2v2h-2zM457 233h2v2h-2z"/>
<path fill="#e6f598" d="M526 224h2v2h-2zM526 226h2v2h-2zM524 226h2v2h-2zM522 224h2v2h-2zM524 224h2v2h-2zM522 222h2v2h-2zM340 326h2v2h-2zM340 324h2v2h-2zM338 322h3v3h-3zM338 320h3v3h-3zM340 320h2v2h-2zM306 302h3v3h-3zM494 376h2v2h-2zM495 251h3v3h-3zM495 249h3v3h-3zM495 247h2v2h-2zM495 245h3v3h-3zM415 365h2v2h-2zM413 367h3v3h-3zM415 365h2v2h-2zM413 365h2v2h-2zM413 367h2v2h-2zM413 369h2v2h-2zM284 241h3v3h-3zM284 243h3v3h-3zM286 241h3v3h-3zM288 243h2v2h-2zM288 245h2v2h-2zM447 196h3v3h-3zM447 196h2v2h-2zM447 194h3v3h-3zM445 192h2v2h-2zM445 192h2v2h-2zM265 228h2v2h-2zM381 302h3v3h-3zM379 304h2v2h-2zM381 302h3v3h-3zM383 304h2v2h-2zM383 302h2v2h-2zM511 198h2v2h-2zM509 200h2v2h-2zM539 326h3v3h-3zM537 328h3v3h-3zM535 326h2v2h-2zM535 326h2v2h-2zM483 249h2v2h-2zM483 247h3v3h-3zM481 249h2v2h-2zM481 251h2v2h-2zM483 253h2v2h-2zM533 229h2v2h-2zM535 231h2v2h-2zM533 229h2v2h-2zM533 231h2v2h-2zM535 231h2v2h-2zM455 197h2v2h-2zM455 195h2v2h-2zM453 195h2v2h-2zM455 197h2v2h-2zM455 195h3v3h-3zM453 197h3v3h-3zM512 217h3v3h-3zM265 238h2v2h-2zM263 240h2v2h-2zM263 238h2v2h-2zM381 313h2v2h-2zM383 311h3v3h-3zM383 313h2v2h-2zM385 315h3v3h-3zM383 315h2v2h-2zM301 138h2v2h-2zM299 138h2v2h-2zM299 140h3v3h-3zM297 140h2v2h-2zM420 190h3v3h-3zM420 188h2v2h-2zM293 137h2v2h-2zM295 137h3v3h-3zM293 135h2v2h-2zM291 135h3v3h-3zM293 135h3v3h-3zM293 135h2v2h-2zM455 192h2v2h-2zM453 192h3v3h-3zM261 227h3v3h-3zM263 225h2v2h-2zM263 223h3v3h-3zM313 318h2v2h-2zM311 316h2v2h-2zM285 233h2v2h-2zM287 235h2v2h-2zM287 233h2v2h-2zM289 233h3v3h-3zM289 235h3v3h-3zM287 237h2v2h-2zM543 310h3v3h-3zM543 310h2v2h-2zM545 312h2v2h-2zM545 310h2v2h-2zM543 312h2v2h-2zM517 207h2v2h-2zM519 209h3v3h-3zM521 211h2v2h-2zM519 209h3v3h-3zM517 207h2v2h-2zM482 256h2v2h-2zM480 258h3v3h-3zM420 379h2v2h-2zM496 253h2v2h-2zM498 253h2v2h-2zM498 255h3v3h-3zM500 253h2v2h-2zM299 142h2v2h-2zM301 142h2v2h-2zM299 144h3v3h-3zM301 142h2v2h-2zM303 140h2v2h-2zM475 259h2v2h-2zM475 257h2v2h-2zM477 259h2v2h-2zM477 257h2v2h-2zM475 259h2v2h-2zM548 304h3v3h-3zM550 304h2v2h-2zM552 306h3v3h-3zM550 304h3v3h-3zM552 304h2v2h-2zM552 304h3v3h-3zM334 181h2v2h-2zM294 238h2v2h-2zM527 234h2v2h-2zM525 234h3v3h-3zM523 209h2v2h-2zM263 239h3v3h-3zM261 239h2v2h-2zM259 237h2v2h-2zM257 235h2v2h-2zM472 369h2v2h-2zM474 367h3v3h-3zM474 365h2v2h-2zM472 367h2v2h-2zM470 369h3v3h-3zM494 259h2v2h-2zM494 259h2v2h-2zM496 257h3v3h-3zM498 257h3v3h-3zM255 228h2v2h-2zM255 226h2v2h-2zM257 228h3v3h-3zM255 228h3v3h-3zM257 226h3v3h-3zM367 137h2v2h-2zM369 135h2v2h-2zM403 367h2v2h-2zM401 367h3v3h-3zM403 365h3v3h-3zM405 367h2v2h-2zM405 369h2v2h-2zM480 251h2v2h-2zM493 266h2v2h-2zM491 268h2v2h-2zM489 266h2v2h-2zM491 266h2v2h-2zM478 285h3v3h-3zM476 287h3v3h-3zM478 285h2v2h-2zM487 262h3v3h-3zM489 262h2v2h-2zM491 262h2v2h-2zM491 264h2v2h-2zM298 274h3v3h-3zM300 274h2v2h-2zM302 276h2v2h-2zM304 278h3v3h-3zM306 276h2v2h-2zM269 137h3v3h-3zM267 137h2v2h-2zM269 139h2v2h-2zM267 141h2v2h-2zM267 141h2v2h-2zM267 139h2v2h-2zM331 168h3v3h-3zM329 170h2v2h-2zM331 170h3v3h-3zM333 172h2v2h-2zM333 174h2v2h-2zM301 303h2v2h-2zM301 305h3v3h-3zM471 272h3v3h-3zM469 274h2v2h-2zM467 274h2v2h-2zM469 276h3v3h-3zM275 142h2v2h-2zM273 140h2v2h-2zM275 140h2v2h-2zM277 142h2v2h-2zM275 140h2v2h-2zM277 140h2v2h-2zM543 235h2v2h-2zM411 370h3v3h-3zM409 370h2v2h-2zM360 144h2v2h-2zM360 144h2v2h-2zM518 203h3v3h-3zM300 296h2v2h-2zM298 298h3v3h-3zM456 190h2v2h-2zM454 192h2v2h-2zM456 194h2v2h-2zM454 192h2v2h-2zM316 320h3v3h-3zM316 320h3v3h-3zM474 260h2v2h-2zM476 260h2v2h-2zM476 258h3v3h-3zM476 256h2v2h-2zM478 254h2v2h-2zM500 361h2v2h-2zM498 363h2v2h-2zM500 361h2v2h-2zM498 363h2v2h-2zM407 376h2v2h-2zM407 374h3v3h-3zM492 247h3v3h-3zM494 247h3v3h-3zM492 249h2v2h-2zM490 251h2v2h-2zM541 330h3v3h-3zM541 332h2v2h-2zM541 334h3v3h-3zM366 145h2v2h-2zM368 143h2v2h-2zM413 380h3v3h-3zM413 378h2v2h-2zM272 233h3v3h-3zM270 235h2v2h-2zM270 235h2v2h-2zM272 235h3v3h-3zM274 235h3v3h-3zM276 233h3v3h-3zM497 359h3v3h-3zM497 357h2v2h-2zM306 303h2v2h-2zM308 303h3v3h-3zM422 374h2v2h-2zM424 376h3v3h-3zM477 268h3v3h-3zM475 268h3v3h-3zM473 270h2v2h-2zM499 363h2v2h-2zM499 361h2v2h-2zM497 361h3v3h-3zM497 363h3v3h-3zM495 365h2v2h-2zM497 367h2v2h-2zM369 140h2v2h-2zM371 142h2v2h-2zM373 144h2v2h-2zM373 144h2v2h-2zM373 144h2v2h-2zM431 197h3v3h-3zM429 199h2v2h-2zM429 201h3v3h-3zM431 203h3v3h-3zM488 267h3v3h-3zM490 265h2v2h-2zM307 298h2v2h-2zM307 300h2v2h-2zM309 298h2v2h-2zM311 300h3v3h-3zM311 302h3v3h-3zM261 236h3v3h-3zM261 234h2v2h-2zM259 232h2v2h-2zM257 234h3v3h-3zM299 241h2v2h-2zM301 239h2v2h-2zM264 136h3v3h-3zM266 136h2v2h-2zM268 134h2v2h-2zM270 136h2v2h-2zM268 134h3v3h-3zM270 134h2v2h-2zM540 232h2v2h-2zM538 230h2v2h-2zM536 232h3v3h-3zM538 234h2v2h-2zM540 236h2v2h-2zM542 234h2v2h-2zM377 342h3v3h-3zM375 306h2v2h-2zM375 306h2v2h-2zM492 373h2v2h-2zM545 328h2v2h-2zM543 328h2v2h-2zM545 326h2v2h-2zM298 138h2v2h-2zM298 138h3v3h-3zM300 136h3v3h-3zM298 134h2v2h-2zM300 136h2v2h-2zM300 134h2v2h-2zM266 135h3v3h-3zM268 133h2v2h-2zM266 133h2v2h-2zM287 232h2v2h-2zM285 234h2v2h-2zM283 236h3v3h-3zM285 238h2v2h-2zM283 238h3v3h-3zM283 238h2v2h-2zM540 342h2v2h-2zM542 340h2v2h-2zM540 342h3v3h-3zM538 342h3v3h-3zM540 344h3v3h-3zM538 346h3v3h-3zM572 235h2v2h-2zM570 235h3v3h-3zM572 235h2v2h-2zM570 235h3v3h-3zM570 237h3v3h-3zM505 363h3v3h-3zM505 363h2v2h-2zM507 361h2v2h-2zM507 363h2v2h-2zM509 363h2v2h-2zM301 275h2v2h-2zM368 145h3v3h-3zM366 143h2v2h-2zM368 141h2v2h-2zM366 143h2v2h-2zM368 141h2v2h-2zM370 143h2v2h-2zM307 309h2v2h-2zM305 309h2v2h-2zM303 311h2v2h-2zM301 311h3v3h-3zM336 184h3v3h-3zM338 186h2v2h-2zM540 211h2v2h-2zM542 213h3v3h-3zM544 213h2v2h-2zM546 211h2v2h-2zM496 262h3v3h-3zM498 262h2v2h-2zM498 262h3v3h-3zM498 260h3v3h-3zM496 262h3v3h-3zM498 262h2v2h-2zM484 271h2v2h-2zM482 273h2v2h-2zM480 275h3v3h-3zM480 275h3v3h-3zM482 277h3v3h-3zM252 227h2v2h-2zM254 229h2v2h-2zM256 229h3v3h-3zM333 185h3v3h-3zM335 185h3v3h-3zM337 187h2v2h-2zM335 187h2v2h-2zM363 138h3v3h-3zM391 160h3v3h-3zM391 160h3v3h-3zM376 297h3v3h-3zM374 295h2v2h-2zM374 295h2v2h-2zM372 295h2v2h-2zM374 297h2v2h-2zM374 295h2v2h-2zM281 135h2v2h-2zM281 135h2v2h-2zM281 135h2v2h-2zM281 133h2v2h-2zM268 143h2v2h-2zM270 141h2v2h-2zM272 139h2v2h-2zM285 141h2v2h-2zM287 141h2v2h-2zM287 139h3v3h-3zM289 137h3v3h-3zM287 135h2v2h-2zM289 137h2v2h-2zM505 371h2v2h-2zM503 373h3v3h-3zM505 373h2v2h-2zM496 377h2v2h-2zM494 377h3v3h-3zM492 379h3v3h-3zM536 230h2v2h-2zM534 230h2v2h-2zM449 191h3v3h-3zM451 193h2v2h-2zM449 195h2v2h-2zM447 195h2v2h-2zM445 193h2v2h-2zM445 193h2v2h-2zM482 257h2v2h-2zM480 257h2v2h-2zM376 307h2v2h-2zM531 216h2v2h-2zM290 238h3v3h-3zM379 296h3v3h-3zM379 296h2v2h-2zM381 296h3v3h-3zM383 296h3v3h-3zM385 294h3v3h-3zM495 251h3v3h-3zM497 249h2v2h-2zM497 247h3v3h-3zM370 339h2v2h-2zM457 214h2v2h-2zM457 216h2v2h-2zM455 214h2v2h-2zM453 216h2v2h-2zM441 193h3v3h-3zM441 191h2v2h-2zM289 242h2v2h-2zM512 232h2v2h-2zM510 230h2v2h-2zM434 197h3v3h-3zM432 197h3v3h-3zM434 195h2v2h-2zM432 195h2v2h-2zM434 197h2v2h-2zM436 195h2v2h-2zM305 294h3v3h-3zM307 294h2v2h-2zM309 294h2v2h-2zM309 294h2v2h-2zM307 296h3v3h-3zM520 216h2v2h-2zM518 214h3v3h-3zM516 214h2v2h-2zM514 216h2v2h-2zM514 216h2v2h-2zM522 228h3v3h-3zM524 228h2v2h-2zM518 201h2v2h-2zM520 203h2v2h-2zM518 203h2v2h-2zM516 205h3v3h-3zM520 212h3v3h-3zM522 210h2v2h-2zM251 231h2v2h-2zM249 231h3v3h-3zM247 231h2v2h-2zM245 229h2v2h-2zM247 231h2v2h-2zM247 233h2v2h-2zM370 146h3v3h-3zM405 371h3v3h-3zM403 369h2v2h-2zM414 366h2v2h-2zM412 368h2v2h-2zM502 371h2v2h-2zM504 369h2v2h-2zM476 269h2v2h-2zM478 271h2v2h-2zM260 241h3v3h-3zM260 243h2v2h-2zM260 241h2v2h-2zM260 241h3v3h-3zM260 241h3v3h-3zM386 270h2v2h-2zM386 272h2v2h-2zM386 274h2v2h-2zM524 347h2v2h-2zM524 345h3v3h-3zM522 345h3v3h-3zM520 343h2v2h-2zM518 345h2v2h-2zM265 140h2v2h-2zM298 277h2v2h-2zM296 275h2v2h-2zM298 273h3v3h-3zM300 275h3v3h-3zM266 143h2v2h-2zM266 143h2v2h-2zM266 141h2v2h-2zM266 141h2v2h-2zM264 143h3v3h-3zM264 143h3v3h-3zM422 370h2v2h-2zM424 370h3v3h-3zM424 372h2v2h-2zM424 374h2v2h-2zM424 374h2v2h-2zM424 374h2v2h-2zM306 309h3v3h-3zM257 140h2v2h-2zM255 138h2v2h-2zM257 136h2v2h-2zM255 136h2v2h-2zM255 134h2v2h-2zM257 132h2v2h-2zM535 228h3v3h-3zM535 226h2v2h-2zM537 226h2v2h-2zM539 226h2v2h-2zM539 224h2v2h-2zM541 226h2v2h-2zM401 159h2v2h-2zM399 157h2v2h-2zM399 157h2v2h-2zM399 159h2v2h-2zM294 231h2v2h-2zM296 233h2v2h-2zM283 139h2v2h-2zM281 137h2v2h-2zM283 139h3v3h-3zM285 137h3v3h-3zM418 380h3v3h-3zM418 382h2v2h-2zM418 382h2v2h-2zM420 382h2v2h-2zM422 384h3v3h-3zM424 386h2v2h-2zM255 234h2v2h-2zM255 236h2v2h-2zM496 373h2v2h-2zM496 373h2v2h-2zM498 373h2v2h-2zM496 375h2v2h-2zM496 375h2v2h-2zM494 366h2v2h-2zM494 368h3v3h-3zM496 368h2v2h-2zM485 255h2v2h-2zM487 255h3v3h-3zM485 255h2v2h-2zM485 255h2v2h-2zM485 253h3v3h-3zM485 255h2v2h-2zM331 170h2v2h-2zM329 168h2v2h-2zM331 170h2v2h-2zM331 168h2v2h-2zM333 168h3v3h-3zM540 336h2v2h-2zM538 338h2v2h-2zM554 216h2v2h-2zM552 218h2v2h-2zM550 216h3v3h-3zM550 216h2v2h-2zM552 216h2v2h-2zM550 214h2v2h-2zM367 143h2v2h-2zM365 141h2v2h-2zM367 141h2v2h-2zM365 143h2v2h-2zM363 145h3v3h-3zM480 251h2v2h-2zM424 197h2v2h-2zM424 197h3v3h-3zM424 199h2v2h-2zM422 201h2v2h-2zM420 203h2v2h-2zM417 378h2v2h-2zM419 378h2v2h-2zM421 378h2v2h-2zM421 376h2v2h-2zM421 374h2v2h-2zM271 230h2v2h-2zM273 230h2v2h-2zM273 228h3v3h-3zM275 230h2v2h-2zM277 230h2v2h-2zM277 230h3v3h-3zM302 236h2v2h-2zM302 238h2v2h-2zM300 240h2v2h-2zM302 240h2v2h-2zM304 240h3v3h-3zM527 232h3v3h-3zM554 323h3v3h-3zM556 325h2v2h-2zM554 325h2v2h-2zM370 320h2v2h-2zM368 320h3v3h-3zM366 318h3v3h-3zM366 320h2v2h-2zM368 320h3v3h-3zM379 344h2v2h-2zM377 344h2v2h-2zM377 342h2v2h-2zM379 342h2v2h-2zM377 342h3v3h-3zM257 235h2v2h-2zM259 233h3v3h-3zM261 233h3v3h-3zM259 235h2v2h-2zM257 235h3v3h-3zM255 237h2v2h-2zM300 242h2v2h-2zM300 244h2v2h-2zM300 246h3v3h-3zM300 246h2v2h-2zM300 244h2v2h-2zM502 359h3v3h-3zM502 357h2v2h-2zM502 357h3v3h-3zM500 359h2v2h-2zM498 359h3v3h-3zM298 142h2v2h-2zM300 140h3v3h-3zM298 140h2v2h-2zM298 142h2v2h-2zM296 144h2v2h-2zM298 144h3v3h-3zM562 307h2v2h-2zM560 305h3v3h-3zM558 307h2v2h-2zM283 228h2v2h-2zM283 230h3v3h-3zM561 228h2v2h-2zM559 226h2v2h-2zM559 228h2v2h-2zM557 228h3v3h-3zM555 228h2v2h-2zM557 230h3v3h-3zM274 226h2v2h-2zM272 224h2v2h-2zM270 226h2v2h-2zM270 228h3v3h-3zM418 383h3v3h-3zM420 385h2v2h-2zM418 385h2v2h-2zM418 387h2v2h-2zM416 387h2v2h-2zM305 297h2v2h-2zM307 297h2v2h-2zM309 299h2v2h-2zM309 297h2v2h-2zM266 231h2v2h-2zM266 231h3v3h-3zM252 239h3v3h-3zM252 239h2v2h-2zM252 241h3v3h-3zM266 243h3v3h-3zM264 241h3v3h-3zM264 239h2v2h-2zM266 237h3v3h-3zM268 239h2v2h-2zM270 241h3v3h-3zM432 195h3v3h-3zM434 197h2v2h-2zM434 195h3v3h-3zM434 193h2v2h-2zM471 271h2v2h-2zM471 271h3v3h-3zM562 316h2v2h-2zM560 316h2v2h-2zM558 318h2v2h-2zM495 267h3v3h-3zM532 212h2v2h-2zM530 212h2v2h-2zM530 214h3v3h-3zM530 214h3v3h-3zM560 329h2v2h-2zM560 329h2v2h-2zM336 189h3v3h-3zM338 189h2v2h-2zM340 187h2v2h-2zM340 187h2v2h-2zM342 185h3v3h-3zM340 185h2v2h-2zM470 270h2v2h-2zM472 272h2v2h-2zM499 359h3v3h-3zM501 361h3v3h-3zM499 363h2v2h-2zM420 371h3v3h-3zM418 373h3v3h-3zM418 371h3v3h-3zM521 217h2v2h-2zM523 219h3v3h-3zM523 219h3v3h-3zM523 219h3v3h-3zM523 221h2v2h-2zM525 221h3v3h-3zM386 271h2v2h-2zM388 271h2v2h-2zM388 271h2v2h-2zM388 269h3v3h-3zM390 267h2v2h-2zM368 145h3v3h-3zM366 143h2v2h-2zM271 228h3v3h-3zM271 228h2v2h-2zM271 230h2v2h-2zM273 230h2v2h-2zM275 228h2v2h-2zM318 140h2v2h-2zM318 142h3v3h-3zM318 144h2v2h-2zM318 144h2v2h-2zM318 142h2v2h-2zM420 365h3v3h-3zM422 365h2v2h-2zM420 363h2v2h-2zM420 363h3v3h-3zM422 365h3v3h-3zM542 219h2v2h-2zM489 272h3v3h-3zM544 339h2v2h-2zM544 337h2v2h-2zM546 337h2v2h-2zM548 335h3v3h-3zM546 337h2v2h-2zM379 344h3v3h-3zM379 342h3v3h-3zM377 340h2v2h-2zM379 338h2v2h-2zM491 247h2v2h-2zM489 245h2v2h-2zM491 245h2v2h-2zM493 243h2v2h-2zM491 245h3v3h-3zM491 247h2v2h-2zM384 330h2v2h-2zM386 332h2v2h-2zM384 334h2v2h-2zM382 334h3v3h-3zM384 332h2v2h-2zM416 366h2v2h-2zM414 368h2v2h-2zM414 370h3v3h-3zM412 370h3v3h-3zM273 243h2v2h-2zM275 243h2v2h-2zM512 217h3v3h-3zM514 219h3v3h-3zM514 217h2v2h-2zM441 196h2v2h-2zM443 198h2v2h-2zM441 196h2v2h-2zM300 235h3v3h-3zM300 233h2v2h-2zM298 235h2v2h-2zM296 233h2v2h-2zM317 324h2v2h-2zM251 226h3v3h-3zM249 224h2v2h-2zM247 222h2v2h-2zM536 215h2v2h-2zM538 217h3v3h-3zM536 215h3v3h-3z"/>
<path fill="#fee08b" d="M472 193h2v2h-2zM472 191h3v3h-3zM470 191h2v2h-2zM472 189h3v3h-3zM470 187h3v3h-3zM351 160h2v2h-2zM494 230h2v2h-2zM496 228h3v3h-3zM496 226h3v3h-3zM494 228h2v2h-2zM496 230h2v2h-2zM492 193h2v2h-2zM494 193h2v2h-2zM492 193h3v3h-3zM490 193h2v2h-2zM438 177h3v3h-3zM440 175h2v2h-2zM440 177h3v3h-3zM438 175h2v2h-2zM503 309h3v3h-3zM509 332h2v2h-2zM509 334h2v2h-2zM511 334h3v3h-3zM513 336h2v2h-2zM511 334h2v2h-2zM344 154h2v2h-2zM342 154h2v2h-2zM340 156h2v2h-2zM340 158h2v2h-2zM342 160h3v3h-3zM521 248h2v2h-2zM521 246h2v2h-2zM521 246h3v3h-3zM519 244h2v2h-2zM457 260h2v2h-2zM455 262h3v3h-3zM433 173h3v3h-3zM431 175h2v2h-2zM433 173h2v2h-2zM433 173h2v2h-2zM431 175h2v2h-2zM479 170h2v2h-2zM346 147h2v2h-2zM344 147h2v2h-2zM344 147h2v2h-2zM346 147h2v2h-2zM348 149h2v2h-2zM406 216h2v2h-2zM408 216h2v2h-2zM408 218h3v3h-3zM406 216h2v2h-2zM340 289h2v2h-2zM338 291h3v3h-3zM340 289h3v3h-3zM342 287h2v2h-2zM381 195h2v2h-2zM381 197h2v2h-2zM383 195h2v2h-2zM385 197h2v2h-2zM524 312h3v3h-3zM469 220h3v3h-3zM467 222h2v2h-2zM490 220h3v3h-3zM490 220h2v2h-2zM336 205h2v2h-2zM504 310h2v2h-2zM506 308h2v2h-2zM504 306h3v3h-3zM426 160h2v2h-2zM426 160h3v3h-3zM426 160h3v3h-3zM398 185h3v3h-3zM398 183h2v2h-2zM400 183h2v2h-2zM398 183h2v2h-2zM398 185h3v3h-3zM431 162h3v3h-3zM431 160h2v2h-2zM433 162h2v2h-2zM431 164h2v2h-2zM446 176h2v2h-2zM444 174h2v2h-2zM442 176h2v2h-2zM444 176h2v2h-2zM444 174h2v2h-2zM453 248h2v2h-2zM453 246h2v2h-2zM451 248h3v3h-3zM451 246h2v2h-2zM451 244h3v3h-3zM482 189h2v2h-2zM480 189h2v2h-2zM478 187h2v2h-2zM478 189h3v3h-3zM541 266h2v2h-2zM541 264h2v2h-2zM543 266h2v2h-2zM541 266h2v2h-2zM541 266h2v2h-2zM541 264h2v2h-2zM452 293h2v2h-2zM488 166h2v2h-2zM379 202h3v3h-3zM379 204h2v2h-2zM379 223h2v2h-2zM381 221h2v2h-2zM381 219h2v2h-2zM381 221h3v3h-3zM383 221h2v2h-2zM381 221h2v2h-2zM509 255h2v2h-2zM509 255h2v2h-2zM510 172h2v2h-2zM508 174h2v2h-2zM510 176h3v3h-3zM510 176h3v3h-3zM508 178h2v2h-2zM483 227h3v3h-3zM395 173h2v2h-2zM397 175h2v2h-2zM399 175h3v3h-3zM401 175h3v3h-3zM399 177h2v2h-2zM399 175h3v3h-3zM529 250h2v2h-2zM527 252h2v2h-2zM525 250h2v2h-2zM525 248h2v2h-2zM527 248h3v3h-3zM525 248h3v3h-3zM386 195h3v3h-3zM386 197h2v2h-2zM388 195h2v2h-2zM388 195h2v2h-2zM535 270h2v2h-2zM537 268h2v2h-2zM537 268h3v3h-3zM535 266h3v3h-3zM533 266h3v3h-3zM535 266h2v2h-2zM427 177h2v2h-2zM504 290h2v2h-2zM506 290h3v3h-3zM450 315h2v2h-2zM450 315h2v2h-2zM452 315h3v3h-3zM454 313h2v2h-2zM454 315h3v3h-3zM452 315h2v2h-2zM466 166h2v2h-2zM466 168h2v2h-2zM452 164h2v2h-2zM454 166h2v2h-2zM437 266h3v3h-3zM435 268h2v2h-2zM435 270h3v3h-3zM437 272h2v2h-2zM439 274h3v3h-3zM441 272h3v3h-3zM380 169h2v2h-2zM382 167h3v3h-3zM384 169h2v2h-2zM382 169h2v2h-2zM380 169h2v2h-2zM378 171h2v2h-2zM481 193h2v2h-2zM483 195h3v3h-3zM485 195h3v3h-3zM487 193h2v2h-2zM487 191h2v2h-2zM449 299h3v3h-3zM447 297h2v2h-2zM445 299h3v3h-3zM445 297h3v3h-3zM447 297h3v3h-3zM445 299h2v2h-2zM542 196h3v3h-3zM544 194h3v3h-3zM544 196h2v2h-2zM544 194h2v2h-2zM546 192h2v2h-2zM548 190h3v3h-3zM488 165h2v2h-2zM490 167h3v3h-3zM492 165h3v3h-3zM492 165h2v2h-2zM537 166h3v3h-3zM539 168h3v3h-3zM479 187h2v2h-2zM481 187h2v2h-2zM483 189h2v2h-2zM483 191h3v3h-3zM483 191h3v3h-3zM483 191h2v2h-2zM421 170h2v2h-2zM466 178h2v2h-2zM464 180h2v2h-2zM464 178h3v3h-3zM466 178h3v3h-3zM522 160h3v3h-3zM524 158h2v2h-2zM524 156h2v2h-2zM524 154h3v3h-3zM522 154h2v2h-2zM381 179h2v2h-2zM383 177h2v2h-2zM383 177h2v2h-2zM383 179h3v3h-3zM385 177h2v2h-2zM486 213h3v3h-3zM486 213h2v2h-2zM484 211h2v2h-2zM486 209h2v2h-2zM488 211h2v2h-2zM464 246h3v3h-3zM464 246h3v3h-3zM466 246h3v3h-3zM485 184h2v2h-2zM483 182h2v2h-2zM483 182h2v2h-2zM481 184h2v2h-2zM335 297h2v2h-2zM333 295h3v3h-3zM335 295h2v2h-2zM335 293h2v2h-2zM335 291h3v3h-3zM337 289h2v2h-2zM485 168h3v3h-3zM487 166h2v2h-2zM453 247h2v2h-2zM451 247h3v3h-3zM451 249h2v2h-2zM501 326h3v3h-3zM468 219h2v2h-2zM466 219h2v2h-2zM466 219h2v2h-2zM466 221h2v2h-2zM468 223h3v3h-3zM464 238h3v3h-3zM464 240h2v2h-2zM464 238h3v3h-3zM553 281h2v2h-2zM422 163h2v2h-2zM424 165h3v3h-3zM460 241h3v3h-3zM455 374h2v2h-2zM455 372h3v3h-3zM455 372h2v2h-2zM457 372h2v2h-2zM459 372h2v2h-2zM351 207h2v2h-2zM444 174h2v2h-2zM510 179h3v3h-3zM512 177h2v2h-2zM510 177h2v2h-2zM512 177h3v3h-3zM515 319h2v2h-2zM517 319h2v2h-2zM517 317h3v3h-3zM473 170h2v2h-2zM473 170h2v2h-2zM473 172h2v2h-2zM471 172h2v2h-2zM513 333h2v2h-2zM513 331h3v3h-3zM515 329h2v2h-2zM517 331h3v3h-3zM498 324h2v2h-2zM498 326h2v2h-2zM500 328h2v2h-2zM500 326h2v2h-2zM498 328h2v2h-2zM513 261h2v2h-2zM515 263h2v2h-2zM515 265h2v2h-2zM517 263h2v2h-2zM517 261h2v2h-2zM429 163h2v2h-2zM427 161h2v2h-2zM429 163h3v3h-3zM429 165h2v2h-2zM431 167h3v3h-3zM383 135h2v2h-2zM383 137h3v3h-3zM381 135h3v3h-3zM448 257h3v3h-3zM450 259h2v2h-2zM450 261h3v3h-3zM450 259h2v2h-2zM452 261h3v3h-3zM355 164h3v3h-3zM355 162h2v2h-2zM357 164h3v3h-3zM359 166h3v3h-3zM359 168h3v3h-3zM428 137h2v2h-2zM545 290h3v3h-3zM543 292h3v3h-3zM451 299h2v2h-2zM449 301h3v3h-3zM527 167h2v2h-2zM525 165h3v3h-3zM523 165h3v3h-3zM523 163h2v2h-2zM523 161h2v2h-2zM525 161h3v3h-3zM494 228h3v3h-3zM496 230h2v2h-2zM494 228h2v2h-2zM494 226h2v2h-2zM496 224h3v3h-3zM496 222h2v2h-2zM543 289h3v3h-3zM545 287h2v2h-2zM547 289h2v2h-2zM547 289h3v3h-3zM545 287h2v2h-2zM341 137h2v2h-2zM343 135h2v2h-2zM341 133h3v3h-3zM477 211h2v2h-2zM477 213h2v2h-2zM479 215h2v2h-2zM479 215h3v3h-3zM481 213h3v3h-3zM481 211h2v2h-2zM325 309h2v2h-2zM325 311h2v2h-2zM325 313h2v2h-2zM323 313h2v2h-2zM528 163h3v3h-3zM526 163h2v2h-2zM526 163h2v2h-2zM518 157h2v2h-2zM520 155h3v3h-3zM522 153h2v2h-2zM445 169h2v2h-2zM443 171h2v2h-2zM445 173h3v3h-3zM447 173h3v3h-3zM451 164h2v2h-2zM451 162h2v2h-2zM453 160h3v3h-3zM451 162h3v3h-3zM502 314h2v2h-2zM504 314h2v2h-2zM504 312h2v2h-2zM504 312h3v3h-3zM504 310h2v2h-2zM472 186h2v2h-2zM385 181h3v3h-3zM387 179h2v2h-2zM389 181h2v2h-2zM391 179h2v2h-2zM393 179h2v2h-2zM391 181h3v3h-3zM477 172h2v2h-2zM357 176h2v2h-2zM427 212h2v2h-2zM425 212h3v3h-3zM427 210h2v2h-2zM425 212h2v2h-2zM379 180h2v2h-2zM381 178h2v2h-2zM381 178h3v3h-3zM379 178h2v2h-2zM379 178h2v2h-2zM517 335h2v2h-2zM565 251h2v2h-2zM567 249h2v2h-2zM565 251h3v3h-3zM567 251h2v2h-2zM565 251h2v2h-2zM421 308h3v3h-3zM421 308h2v2h-2zM423 308h3v3h-3zM425 310h2v2h-2zM466 176h3v3h-3zM468 174h2v2h-2zM468 176h3v3h-3zM505 312h3v3h-3zM507 312h2v2h-2zM509 314h2v2h-2zM511 314h3v3h-3zM510 255h3v3h-3zM508 255h3v3h-3zM506 257h2v2h-2zM504 259h3v3h-3zM504 261h3v3h-3zM505 295h2v2h-2zM505 297h2v2h-2zM507 295h2v2h-2zM509 297h2v2h-2zM398 182h2v2h-2zM396 184h3v3h-3zM394 184h3v3h-3zM394 186h2v2h-2zM394 184h3v3h-3zM475 182h2v2h-2zM475 184h3v3h-3zM473 182h2v2h-2zM473 180h2v2h-2zM418 154h2v2h-2zM418 154h3v3h-3zM416 156h2v2h-2zM418 156h2v2h-2zM510 166h2v2h-2zM508 166h3v3h-3zM510 164h2v2h-2zM510 164h3v3h-3zM508 162h2v2h-2zM426 162h2v2h-2zM426 160h3v3h-3zM464 247h3v3h-3zM464 247h2v2h-2zM464 249h2v2h-2zM462 247h2v2h-2zM464 247h3v3h-3zM464 249h2v2h-2zM541 256h3v3h-3zM541 256h3v3h-3zM543 258h2v2h-2zM541 258h2v2h-2zM541 258h2v2h-2zM339 155h2v2h-2zM339 153h2v2h-2zM375 171h2v2h-2zM461 292h2v2h-2zM461 294h2v2h-2zM393 169h2v2h-2zM393 169h2v2h-2zM395 169h3v3h-3zM397 167h2v2h-2zM534 163h3v3h-3zM534 163h2v2h-2zM534 165h2v2h-2zM532 167h3v3h-3zM530 165h2v2h-2zM347 141h2v2h-2zM504 321h3v3h-3zM504 319h2v2h-2zM504 319h3v3h-3zM360 167h2v2h-2zM360 169h2v2h-2zM358 167h2v2h-2zM356 165h2v2h-2zM514 157h2v2h-2zM516 155h2v2h-2zM516 153h3v3h-3zM516 151h2v2h-2zM516 149h2v2h-2zM518 151h2v2h-2zM425 156h3v3h-3zM359 168h3v3h-3zM511 309h2v2h-2zM509 311h2v2h-2zM551 247h2v2h-2zM549 249h2v2h-2zM547 247h3v3h-3zM416 303h2v2h-2zM432 139h2v2h-2zM432 141h2v2h-2zM434 139h3v3h-3zM550 176h2v2h-2zM552 174h2v2h-2zM552 172h2v2h-2zM502 316h2v2h-2zM500 314h3v3h-3zM502 312h3v3h-3zM504 314h3v3h-3zM504 316h3v3h-3zM340 295h2v2h-2zM338 297h2v2h-2zM340 299h2v2h-2zM340 301h2v2h-2zM342 299h3v3h-3zM344 297h2v2h-2zM491 342h2v2h-2zM491 342h2v2h-2zM489 342h2v2h-2zM451 249h2v2h-2zM451 249h3v3h-3zM518 321h2v2h-2zM453 368h3v3h-3zM341 280h3v3h-3zM341 280h3v3h-3zM341 282h2v2h-2zM344 283h2v2h-2zM342 281h2v2h-2zM340 279h3v3h-3zM338 279h3v3h-3zM340 279h2v2h-2zM340 279h3v3h-3zM379 171h3v3h-3zM441 159h3v3h-3zM441 161h2v2h-2zM432 173h2v2h-2zM434 173h2v2h-2zM436 173h2v2h-2zM381 177h2v2h-2zM379 179h2v2h-2zM381 179h2v2h-2zM421 170h3v3h-3zM419 168h2v2h-2zM419 170h2v2h-2zM386 150h3v3h-3zM384 152h2v2h-2zM386 152h3v3h-3zM487 179h2v2h-2zM363 181h2v2h-2zM365 183h3v3h-3zM365 183h3v3h-3zM365 181h2v2h-2zM367 179h2v2h-2zM455 246h2v2h-2zM453 248h3v3h-3zM451 250h3v3h-3zM451 250h3v3h-3zM507 336h2v2h-2zM509 336h2v2h-2zM509 336h3v3h-3zM383 182h2v2h-2zM380 198h3v3h-3zM458 333h3v3h-3zM460 331h3v3h-3zM462 331h3v3h-3zM462 333h3v3h-3zM464 335h2v2h-2zM340 135h2v2h-2zM340 135h3v3h-3zM342 137h2v2h-2zM340 135h3v3h-3zM342 135h2v2h-2zM374 177h3v3h-3zM566 260h2v2h-2zM566 262h2v2h-2zM566 264h2v2h-2zM566 264h2v2h-2zM568 262h2v2h-2zM476 239h3v3h-3zM481 180h3v3h-3zM483 180h2v2h-2zM481 180h2v2h-2zM481 178h3v3h-3zM479 176h2v2h-2zM477 178h2v2h-2zM518 158h3v3h-3zM518 160h3v3h-3zM457 331h3v3h-3zM457 331h2v2h-2zM448 255h2v2h-2zM448 257h2v2h-2zM448 259h2v2h-2zM446 259h3v3h-3zM448 259h3v3h-3zM385 202h2v2h-2zM387 200h3v3h-3zM389 198h3v3h-3zM448 250h3v3h-3zM446 252h3v3h-3zM446 252h2v2h-2zM469 215h3v3h-3zM469 215h3v3h-3zM471 213h2v2h-2zM473 211h2v2h-2zM481 181h3v3h-3zM518 293h2v2h-2zM336 208h2v2h-2zM338 206h3v3h-3zM336 206h2v2h-2zM338 206h3v3h-3zM340 208h2v2h-2zM359 171h2v2h-2zM359 171h2v2h-2zM357 169h3v3h-3zM357 167h2v2h-2zM355 169h2v2h-2zM355 171h2v2h-2zM491 218h3v3h-3zM493 216h2v2h-2zM493 216h3v3h-3zM495 214h2v2h-2zM473 338h2v2h-2zM345 291h2v2h-2zM343 293h2v2h-2zM452 173h3v3h-3zM452 173h2v2h-2zM454 173h2v2h-2zM492 226h3v3h-3zM490 226h2v2h-2zM492 226h2v2h-2zM492 226h2v2h-2zM381 224h3v3h-3zM381 226h2v2h-2zM385 202h2v2h-2zM385 202h3v3h-3zM387 204h3v3h-3zM387 204h2v2h-2zM389 202h3v3h-3zM446 169h2v2h-2zM447 250h2v2h-2zM447 252h2v2h-2zM445 254h2v2h-2zM445 256h3v3h-3zM472 189h2v2h-2zM472 189h2v2h-2zM472 191h2v2h-2zM472 189h2v2h-2zM474 189h2v2h-2zM445 169h3v3h-3zM405 180h2v2h-2zM403 182h2v2h-2zM509 151h2v2h-2zM511 153h2v2h-2zM509 151h2v2h-2zM509 149h2v2h-2zM448 170h3v3h-3zM338 137h2v2h-2zM340 139h2v2h-2zM338 141h2v2h-2zM460 162h2v2h-2zM462 160h2v2h-2zM464 160h2v2h-2zM464 158h2v2h-2zM462 158h2v2h-2zM513 264h2v2h-2zM513 264h3v3h-3zM513 262h2v2h-2zM511 264h2v2h-2zM511 262h2v2h-2zM347 135h2v2h-2zM349 137h3v3h-3zM347 139h3v3h-3zM456 161h2v2h-2zM458 163h2v2h-2zM456 161h2v2h-2zM454 163h2v2h-2zM454 165h2v2h-2zM454 163h3v3h-3zM317 279h2v2h-2zM315 277h2v2h-2zM569 287h3v3h-3zM569 285h2v2h-2zM569 283h2v2h-2zM567 285h2v2h-2zM460 291h3v3h-3zM458 289h3v3h-3zM458 291h2v2h-2zM523 324h2v2h-2zM521 322h3v3h-3zM523 322h3v3h-3zM525 320h2v2h-2zM527 320h2v2h-2zM527 318h3v3h-3zM428 155h2v2h-2zM428 153h3v3h-3zM426 151h3v3h-3zM426 153h2v2h-2zM428 155h2v2h-2zM428 157h2v2h-2zM426 159h2v2h-2zM428 161h2v2h-2zM430 161h3v3h-3zM432 159h2v2h-2zM432 161h2v2h-2zM500 284h2v2h-2zM500 282h3v3h-3zM572 258h3v3h-3zM570 260h3v3h-3zM572 260h2v2h-2zM574 258h2v2h-2zM572 256h2v2h-2zM570 254h3v3h-3zM462 233h3v3h-3zM460 233h2v2h-2zM460 233h2v2h-2zM460 233h2v2h-2zM450 243h3v3h-3zM452 241h3v3h-3zM481 181h2v2h-2zM479 179h2v2h-2zM477 179h2v2h-2zM475 181h2v2h-2zM475 181h2v2h-2zM485 169h2v2h-2zM487 171h2v2h-2zM452 290h3v3h-3zM454 288h2v2h-2zM454 290h3v3h-3zM427 178h3v3h-3zM429 178h2v2h-2zM401 307h3v3h-3zM401 305h2v2h-2zM401 303h2v2h-2zM403 301h3v3h-3zM405 299h2v2h-2zM403 301h2v2h-2zM493 341h2v2h-2zM493 341h3v3h-3zM491 343h2v2h-2zM489 341h2v2h-2zM487 178h2v2h-2zM485 178h3v3h-3zM435 140h3v3h-3zM522 161h2v2h-2zM522 161h2v2h-2zM522 159h2v2h-2zM520 159h2v2h-2zM520 159h2v2h-2zM353 160h2v2h-2zM353 160h2v2h-2zM351 162h3v3h-3zM471 234h3v3h-3zM396 304h2v2h-2zM396 304h3v3h-3zM398 302h2v2h-2zM396 302h3v3h-3zM398 300h2v2h-2zM324 278h2v2h-2zM326 280h3v3h-3zM324 282h3v3h-3zM324 284h2v2h-2zM326 282h2v2h-2zM428 156h3v3h-3zM426 158h2v2h-2zM426 156h3v3h-3zM424 156h2v2h-2zM424 158h3v3h-3zM422 156h2v2h-2zM509 301h2v2h-2zM511 301h3v3h-3zM509 299h3v3h-3zM509 297h2v2h-2zM509 295h3v3h-3zM507 293h2v2h-2zM487 228h2v2h-2zM485 230h2v2h-2zM483 228h2v2h-2zM485 226h3v3h-3zM485 224h3v3h-3zM372 175h3v3h-3zM390 169h3v3h-3zM390 171h2v2h-2zM388 169h3v3h-3zM388 169h2v2h-2zM479 166h3v3h-3zM477 166h3v3h-3zM475 166h3v3h-3zM493 227h2v2h-2zM495 229h2v2h-2zM495 231h3v3h-3zM493 231h2v2h-2zM570 255h2v2h-2zM570 257h2v2h-2zM568 255h2v2h-2zM568 255h2v2h-2zM566 255h2v2h-2zM568 255h2v2h-2zM515 258h2v2h-2zM515 258h2v2h-2zM513 258h3v3h-3zM513 260h2v2h-2zM511 262h2v2h-2zM513 262h2v2h-2zM493 180h2v2h-2zM495 178h3v3h-3zM497 178h2v2h-2zM499 176h2v2h-2zM501 174h2v2h-2zM383 200h3v3h-3zM383 198h2v2h-2zM383 200h2v2h-2zM519 290h2v2h-2zM519 290h2v2h-2zM456 295h2v2h-2zM454 297h3v3h-3zM456 299h3v3h-3zM450 252h2v2h-2zM448 250h3v3h-3zM524 333h3v3h-3zM526 333h2v2h-2zM524 331h2v2h-2zM508 298h2v2h-2zM510 300h2v2h-2zM512 298h2v2h-2zM510 296h2v2h-2zM534 259h2v2h-2zM532 257h3v3h-3zM534 257h2v2h-2zM534 259h3v3h-3zM534 259h2v2h-2zM536 261h3v3h-3zM412 178h2v2h-2zM410 176h3v3h-3zM355 207h3v3h-3zM357 207h2v2h-2zM357 209h2v2h-2zM357 207h2v2h-2zM534 248h2v2h-2zM534 248h2v2h-2zM489 232h3v3h-3zM432 178h3v3h-3zM434 178h2v2h-2zM432 176h2v2h-2zM434 178h2v2h-2zM434 176h2v2h-2zM436 176h2v2h-2zM521 180h2v2h-2zM523 178h2v2h-2zM390 150h2v2h-2zM390 152h2v2h-2zM505 331h2v2h-2zM505 331h3v3h-3zM503 333h3v3h-3zM501 331h2v2h-2zM410 300h3v3h-3zM408 298h3v3h-3zM408 298h2v2h-2zM410 298h2v2h-2zM412 296h3v3h-3zM523 253h3v3h-3zM521 253h2v2h-2zM521 255h2v2h-2zM356 163h2v2h-2zM356 163h2v2h-2zM356 165h3v3h-3zM356 163h2v2h-2zM534 262h2v2h-2zM422 308h2v2h-2zM422 308h2v2h-2zM422 306h2v2h-2zM424 304h2v2h-2zM422 306h2v2h-2zM424 304h3v3h-3zM389 174h2v2h-2zM391 176h3v3h-3zM393 176h3v3h-3zM390 202h3v3h-3zM468 244h2v2h-2zM468 244h2v2h-2zM466 244h2v2h-2zM466 244h3v3h-3zM468 242h2v2h-2zM542 170h3v3h-3zM544 168h3v3h-3zM346 286h2v2h-2zM344 288h3v3h-3zM346 288h2v2h-2zM466 240h3v3h-3zM468 240h3v3h-3zM466 240h2v2h-2zM464 242h3v3h-3zM464 242h3v3h-3zM462 240h2v2h-2zM417 156h3v3h-3zM415 158h3v3h-3zM417 158h3v3h-3zM415 156h2v2h-2zM493 180h3v3h-3zM491 178h2v2h-2zM491 180h2v2h-2zM491 180h3v3h-3zM493 178h2v2h-2zM491 176h2v2h-2zM505 295h2v2h-2zM507 295h2v2h-2zM507 295h2v2h-2zM507 295h2v2h-2zM517 171h2v2h-2zM515 169h2v2h-2zM457 330h2v2h-2zM459 332h2v2h-2zM461 332h2v2h-2zM459 332h2v2h-2zM459 334h2v2h-2zM461 332h2v2h-2zM388 171h2v2h-2zM388 173h2v2h-2zM390 175h3v3h-3zM388 173h2v2h-2zM390 173h3v3h-3zM482 185h2v2h-2zM482 183h2v2h-2zM484 181h2v2h-2zM482 183h3v3h-3zM484 185h2v2h-2zM484 183h2v2h-2zM494 222h2v2h-2zM494 224h2v2h-2zM492 222h3v3h-3zM492 222h3v3h-3zM346 153h2v2h-2zM348 155h2v2h-2zM346 157h2v2h-2zM452 293h3v3h-3zM450 295h2v2h-2zM450 297h3v3h-3zM482 189h3v3h-3zM480 189h3v3h-3zM454 242h2v2h-2zM456 244h2v2h-2zM458 246h2v2h-2zM445 168h3v3h-3zM443 170h3v3h-3zM443 170h3v3h-3zM443 170h3v3h-3zM441 172h2v2h-2zM439 172h2v2h-2zM475 185h2v2h-2zM475 187h2v2h-2zM473 187h2v2h-2zM381 197h2v2h-2zM379 197h2v2h-2zM377 199h2v2h-2zM473 228h2v2h-2zM471 226h3v3h-3zM473 226h2v2h-2zM471 224h3v3h-3zM473 224h2v2h-2zM475 224h2v2h-2zM377 162h2v2h-2zM377 164h2v2h-2zM375 162h2v2h-2zM377 164h2v2h-2zM375 166h2v2h-2zM375 166h3v3h-3zM391 173h2v2h-2zM391 171h2v2h-2zM393 169h3v3h-3zM391 169h2v2h-2zM325 272h2v2h-2zM323 272h3v3h-3zM321 274h2v2h-2zM494 216h2v2h-2zM388 173h2v2h-2zM388 173h3v3h-3zM386 171h2v2h-2zM384 169h2v2h-2zM558 272h3v3h-3zM556 270h3v3h-3zM556 268h3v3h-3zM515 158h2v2h-2zM517 158h2v2h-2zM517 158h3v3h-3zM376 184h2v2h-2zM374 184h3v3h-3zM367 169h2v2h-2zM367 171h3v3h-3zM367 171h3v3h-3zM365 173h2v2h-2zM468 239h3v3h-3zM511 297h2v2h-2zM346 223h2v2h-2zM346 225h3v3h-3zM346 223h2v2h-2zM348 213h2v2h-2zM469 224h2v2h-2zM469 222h2v2h-2zM469 224h3v3h-3zM469 226h2v2h-2zM471 224h2v2h-2zM473 226h2v2h-2zM386 185h2v2h-2zM384 187h2v2h-2zM382 185h2v2h-2zM384 185h2v2h-2zM517 167h2v2h-2zM519 165h3v3h-3zM507 336h2v2h-2zM505 334h2v2h-2zM507 336h2v2h-2zM507 336h3v3h-3zM507 334h3v3h-3zM470 180h3v3h-3zM470 182h2v2h-2zM472 182h3v3h-3zM447 175h3v3h-3zM449 173h2v2h-2zM447 175h2v2h-2zM467 239h3v3h-3zM469 239h2v2h-2zM469 239h3v3h-3zM469 237h3v3h-3zM469 189h2v2h-2zM467 189h3v3h-3zM557 198h2v2h-2zM559 198h2v2h-2zM496 336h2v2h-2zM498 334h2v2h-2zM496 336h2v2h-2zM496 336h3v3h-3zM498 338h3v3h-3zM496 340h2v2h-2zM471 238h2v2h-2zM471 238h2v2h-2zM469 236h3v3h-3zM461 245h2v2h-2zM463 247h2v2h-2zM465 249h2v2h-2zM463 249h2v2h-2zM414 212h2v2h-2zM412 212h2v2h-2zM410 214h3v3h-3zM410 214h2v2h-2zM412 216h2v2h-2zM410 216h2v2h-2zM418 163h2v2h-2zM418 165h2v2h-2zM418 167h2v2h-2zM416 167h2v2h-2zM357 174h3v3h-3zM370 179h3v3h-3zM368 179h2v2h-2zM368 177h2v2h-2zM368 177h3v3h-3zM368 175h2v2h-2zM370 175h2v2h-2zM461 377h3v3h-3zM459 379h2v2h-2zM521 291h2v2h-2zM519 293h2v2h-2zM517 291h2v2h-2zM519 293h2v2h-2zM519 291h2v2h-2zM420 304h2v2h-2zM420 306h2v2h-2zM377 168h2v2h-2zM375 170h3v3h-3zM373 170h2v2h-2zM375 170h3v3h-3zM377 170h3v3h-3zM379 172h3v3h-3zM472 213h2v2h-2zM474 211h3v3h-3zM474 211h3v3h-3zM474 211h2v2h-2zM476 209h2v2h-2zM476 207h2v2h-2zM438 266h2v2h-2zM438 266h2v2h-2zM436 268h2v2h-2zM436 268h2v2h-2zM541 195h2v2h-2zM522 326h2v2h-2zM524 328h2v2h-2zM526 330h2v2h-2zM416 300h2v2h-2zM414 298h2v2h-2zM517 177h3v3h-3zM449 235h2v2h-2zM451 235h3v3h-3zM449 237h2v2h-2zM381 221h2v2h-2zM383 221h2v2h-2zM381 223h3v3h-3zM381 221h2v2h-2zM381 221h3v3h-3zM383 223h3v3h-3zM522 247h2v2h-2zM520 249h3v3h-3zM522 251h3v3h-3zM467 169h3v3h-3zM462 179h3v3h-3zM544 174h2v2h-2zM544 176h3v3h-3zM544 176h3v3h-3zM542 178h2v2h-2zM430 179h3v3h-3zM428 177h3v3h-3zM426 179h3v3h-3zM424 179h2v2h-2zM512 164h2v2h-2zM514 164h2v2h-2zM512 164h3v3h-3zM512 162h3v3h-3zM499 294h2v2h-2zM501 294h2v2h-2zM503 296h3v3h-3zM503 296h2v2h-2zM501 294h3v3h-3zM501 292h2v2h-2zM451 312h2v2h-2zM449 312h2v2h-2zM409 137h2v2h-2zM411 137h2v2h-2zM409 135h3v3h-3zM411 137h2v2h-2zM413 139h3v3h-3zM466 295h2v2h-2zM468 297h2v2h-2zM468 299h2v2h-2zM470 301h2v2h-2zM337 296h3v3h-3zM519 265h3v3h-3zM519 263h2v2h-2zM341 285h2v2h-2zM343 283h3v3h-3zM341 285h3v3h-3zM445 263h2v2h-2zM426 175h3v3h-3zM428 177h3v3h-3zM426 177h3v3h-3zM428 179h2v2h-2zM430 179h3v3h-3zM540 177h2v2h-2zM513 169h3v3h-3zM513 167h3v3h-3zM511 165h2v2h-2zM511 163h3v3h-3zM379 203h2v2h-2zM381 203h2v2h-2zM383 205h2v2h-2zM381 207h3v3h-3zM457 232h2v2h-2zM455 232h2v2h-2zM453 234h2v2h-2zM455 236h2v2h-2zM455 234h2v2h-2zM457 232h2v2h-2zM513 179h2v2h-2zM515 177h3v3h-3zM451 363h2v2h-2zM453 361h3v3h-3zM453 359h2v2h-2zM453 357h2v2h-2zM455 359h2v2h-2zM453 361h2v2h-2zM394 169h2v2h-2zM396 169h3v3h-3zM398 167h3v3h-3zM462 250h3v3h-3zM464 252h3v3h-3zM466 254h3v3h-3zM489 185h2v2h-2zM489 185h2v2h-2zM478 187h2v2h-2zM476 189h2v2h-2zM435 166h3v3h-3zM433 164h2v2h-2zM435 162h2v2h-2zM433 164h3v3h-3zM435 166h2v2h-2zM435 168h3v3h-3zM512 174h2v2h-2zM525 291h3v3h-3zM525 293h2v2h-2zM523 293h2v2h-2zM525 295h2v2h-2zM525 293h2v2h-2zM523 295h2v2h-2zM480 225h2v2h-2zM480 227h2v2h-2zM478 225h2v2h-2zM480 227h3v3h-3zM480 227h3v3h-3zM482 225h2v2h-2zM449 361h2v2h-2zM451 363h2v2h-2zM450 362h2v2h-2zM450 362h3v3h-3zM428 174h2v2h-2zM426 176h2v2h-2zM428 176h2v2h-2zM426 178h3v3h-3zM428 180h2v2h-2zM472 222h3v3h-3zM503 338h2v2h-2zM501 340h3v3h-3zM503 338h2v2h-2zM503 336h3v3h-3zM382 176h3v3h-3zM380 174h2v2h-2zM380 176h2v2h-2zM378 174h2v2h-2zM376 174h2v2h-2zM509 150h2v2h-2zM509 152h2v2h-2zM509 150h2v2h-2zM511 148h2v2h-2zM468 236h2v2h-2zM470 234h2v2h-2zM470 234h3v3h-3zM472 234h3v3h-3zM472 236h3v3h-3zM509 150h3v3h-3zM511 152h2v2h-2zM393 179h2v2h-2zM391 181h3v3h-3zM391 183h3v3h-3zM389 181h3v3h-3zM499 340h3v3h-3zM497 340h3v3h-3zM499 340h2v2h-2zM501 338h2v2h-2zM493 169h2v2h-2zM491 167h2v2h-2zM404 171h2v2h-2zM402 169h3v3h-3zM402 169h3v3h-3zM374 174h2v2h-2zM376 174h2v2h-2zM445 163h3v3h-3zM447 163h2v2h-2zM445 163h2v2h-2zM443 165h2v2h-2zM443 163h2v2h-2zM441 161h2v2h-2zM516 303h2v2h-2zM516 303h2v2h-2zM516 301h2v2h-2zM516 301h2v2h-2zM516 303h2v2h-2zM514 301h2v2h-2zM495 333h3v3h-3zM497 333h3v3h-3zM495 335h2v2h-2zM364 177h2v2h-2zM362 175h3v3h-3zM448 239h3v3h-3zM448 237h3v3h-3zM446 235h3v3h-3zM448 233h3v3h-3zM448 231h2v2h-2zM539 266h2v2h-2zM541 266h3v3h-3zM543 264h2v2h-2zM543 266h3v3h-3zM453 176h2v2h-2zM451 174h2v2h-2zM521 297h3v3h-3zM523 299h3v3h-3zM525 299h2v2h-2zM525 299h2v2h-2zM523 299h2v2h-2zM521 297h2v2h-2zM458 180h2v2h-2zM460 180h2v2h-2zM460 180h3v3h-3zM460 182h2v2h-2zM344 279h2v2h-2zM346 281h2v2h-2zM348 279h3v3h-3zM440 160h3v3h-3zM440 158h3v3h-3zM442 160h3v3h-3zM440 160h2v2h-2zM438 158h2v2h-2zM436 156h3v3h-3zM554 269h2v2h-2zM509 152h2v2h-2zM507 150h2v2h-2zM509 150h2v2h-2zM507 152h2v2h-2zM514 253h2v2h-2zM516 251h3v3h-3zM514 249h3v3h-3zM516 247h3v3h-3zM516 245h2v2h-2zM516 247h3v3h-3zM431 136h2v2h-2zM431 138h2v2h-2zM433 138h3v3h-3zM433 136h3v3h-3zM433 134h3v3h-3zM399 306h3v3h-3zM397 304h2v2h-2zM496 329h2v2h-2zM495 231h2v2h-2zM497 231h2v2h-2zM499 231h2v2h-2zM499 229h2v2h-2zM497 229h3v3h-3zM499 229h3v3h-3zM456 369h3v3h-3zM454 371h3v3h-3zM452 369h2v2h-2zM450 369h3v3h-3zM452 367h2v2h-2zM452 367h2v2h-2zM367 177h2v2h-2zM365 179h2v2h-2zM406 214h2v2h-2zM406 214h2v2h-2zM404 216h2v2h-2zM401 178h2v2h-2zM399 178h2v2h-2zM399 180h3v3h-3zM399 182h2v2h-2zM401 182h2v2h-2zM406 307h3v3h-3zM536 194h2v2h-2zM538 196h2v2h-2zM538 196h3v3h-3zM540 198h2v2h-2zM540 196h3v3h-3zM545 275h2v2h-2zM545 277h3v3h-3zM543 277h2v2h-2zM543 277h2v2h-2zM545 279h2v2h-2zM547 279h2v2h-2zM327 309h2v2h-2zM327 307h2v2h-2zM481 194h2v2h-2zM479 192h2v2h-2zM407 301h3v3h-3zM405 301h2v2h-2zM405 301h2v2h-2zM407 303h3v3h-3zM351 208h2v2h-2zM349 210h3v3h-3zM349 210h2v2h-2zM347 212h2v2h-2zM335 300h3v3h-3zM345 140h2v2h-2zM345 140h2v2h-2zM343 140h2v2h-2zM343 138h2v2h-2zM341 136h3v3h-3zM341 138h3v3h-3zM349 209h2v2h-2zM492 197h3v3h-3zM492 199h3v3h-3zM492 199h3v3h-3zM494 199h2v2h-2zM492 199h2v2h-2zM490 201h2v2h-2zM511 337h3v3h-3zM513 337h3v3h-3zM515 335h3v3h-3zM513 335h3v3h-3zM511 337h2v2h-2zM484 178h3v3h-3zM482 178h2v2h-2zM484 178h3v3h-3zM517 300h2v2h-2zM519 300h2v2h-2zM519 300h3v3h-3zM433 140h2v2h-2zM435 142h2v2h-2zM435 144h3v3h-3zM435 144h3v3h-3zM437 144h2v2h-2zM435 146h3v3h-3zM562 270h2v2h-2zM564 268h2v2h-2zM526 165h3v3h-3zM526 163h2v2h-2zM524 161h2v2h-2zM526 159h2v2h-2zM524 161h3v3h-3zM515 261h3v3h-3zM513 263h2v2h-2zM357 184h2v2h-2zM359 186h2v2h-2zM359 186h2v2h-2zM378 196h2v2h-2zM380 196h2v2h-2zM380 196h2v2h-2zM380 194h2v2h-2zM382 192h2v2h-2zM340 290h3v3h-3zM342 290h3v3h-3zM342 292h2v2h-2zM344 294h2v2h-2zM342 296h2v2h-2zM461 251h3v3h-3zM461 251h2v2h-2zM463 251h2v2h-2zM463 253h2v2h-2zM465 253h3v3h-3zM338 211h2v2h-2zM338 211h2v2h-2zM340 211h3v3h-3zM511 168h2v2h-2zM498 312h2v2h-2zM500 314h3v3h-3zM502 314h3v3h-3zM563 193h2v2h-2zM563 193h2v2h-2zM565 193h2v2h-2zM567 195h2v2h-2zM497 288h3v3h-3zM495 286h2v2h-2zM493 286h2v2h-2zM419 162h2v2h-2zM419 162h3v3h-3zM419 160h3v3h-3zM417 160h2v2h-2zM415 158h2v2h-2zM471 240h3v3h-3zM473 238h3v3h-3zM471 236h3v3h-3zM533 163h2v2h-2zM535 163h3v3h-3zM533 165h2v2h-2zM535 163h2v2h-2zM535 161h3v3h-3zM537 163h2v2h-2zM372 171h2v2h-2zM374 173h2v2h-2z"/>
<path fill="#fdae61" d="M531 221h2v2h-2zM533 219h3v3h-3zM531 219h3v3h-3zM529 217h3v3h-3zM527 219h2v2h-2zM520 222h2v2h-2zM520 222h2v2h-2zM522 220h2v2h-2zM524 222h2v2h-2zM526 222h2v2h-2zM511 137h2v2h-2zM513 137h2v2h-2zM515 137h2v2h-2zM482 138h2v2h-2zM482 136h2v2h-2zM484 134h2v2h-2zM486 132h3v3h-3zM486 130h2v2h-2zM530 209h2v2h-2zM530 209h2v2h-2zM528 207h2v2h-2zM526 205h3v3h-3zM538 214h2v2h-2zM538 212h3v3h-3zM538 214h3v3h-3zM538 212h2v2h-2zM538 210h2v2h-2zM540 210h3v3h-3zM483 135h2v2h-2zM483 133h2v2h-2zM481 131h2v2h-2zM479 129h2v2h-2zM482 292h2v2h-2zM482 294h2v2h-2zM484 292h3v3h-3zM482 294h2v2h-2zM482 296h2v2h-2zM482 298h3v3h-3zM546 210h2v2h-2zM548 212h2v2h-2zM550 214h3v3h-3zM550 216h2v2h-2zM537 212h2v2h-2zM535 214h3v3h-3zM416 231h2v2h-2zM416 231h2v2h-2zM416 231h2v2h-2zM416 229h2v2h-2zM554 230h3v3h-3zM556 230h2v2h-2zM554 230h3v3h-3zM556 228h3v3h-3zM556 226h3v3h-3zM558 224h2v2h-2zM565 166h2v2h-2zM565 166h2v2h-2zM567 168h3v3h-3zM565 168h2v2h-2zM565 170h2v2h-2zM565 170h2v2h-2zM570 162h3v3h-3zM572 162h2v2h-2zM574 164h2v2h-2zM576 162h2v2h-2zM576 160h2v2h-2zM528 235h3v3h-3zM492 140h3v3h-3zM492 140h3v3h-3zM490 138h2v2h-2zM488 138h2v2h-2zM486 140h2v2h-2zM557 155h2v2h-2zM557 153h2v2h-2zM411 232h2v2h-2zM413 232h2v2h-2zM411 230h2v2h-2zM409 230h2v2h-2zM526 211h2v2h-2zM526 209h2v2h-2zM524 207h2v2h-2zM526 209h2v2h-2zM521 136h2v2h-2zM385 324h2v2h-2zM387 326h3v3h-3zM387 324h2v2h-2zM385 322h2v2h-2zM383 320h2v2h-2zM385 322h3v3h-3zM539 218h2v2h-2zM541 216h2v2h-2zM539 214h3v3h-3zM537 216h2v2h-2zM535 216h2v2h-2zM533 218h2v2h-2zM477 138h2v2h-2zM477 136h3v3h-3zM475 138h2v2h-2zM473 140h2v2h-2zM475 138h2v2h-2zM467 137h3v3h-3zM469 137h2v2h-2zM471 137h2v2h-2zM514 205h2v2h-2zM514 205h3v3h-3zM514 207h2v2h-2zM512 207h3v3h-3zM412 230h2v2h-2zM412 230h2v2h-2zM410 228h2v2h-2zM408 230h2v2h-2zM554 225h2v2h-2zM556 227h3v3h-3zM556 229h2v2h-2zM556 229h2v2h-2zM558 229h2v2h-2zM560 229h2v2h-2zM482 291h2v2h-2zM480 289h2v2h-2zM482 289h2v2h-2zM484 291h3v3h-3zM454 211h2v2h-2zM452 213h2v2h-2zM454 215h2v2h-2zM454 217h2v2h-2zM412 231h2v2h-2zM532 235h2v2h-2zM532 235h3v3h-3zM532 235h3v3h-3zM534 233h2v2h-2zM532 233h2v2h-2zM532 235h3v3h-3zM521 209h3v3h-3zM519 209h2v2h-2zM517 209h2v2h-2zM517 207h2v2h-2zM534 214h2v2h-2zM534 212h2v2h-2zM536 214h2v2h-2zM538 218h2v2h-2zM496 136h2v2h-2zM494 138h3v3h-3zM496 138h2v2h-2zM494 138h3v3h-3zM492 136h2v2h-2zM490 134h2v2h-2zM518 228h3v3h-3zM518 228h2v2h-2zM520 228h3v3h-3zM520 230h2v2h-2zM520 232h3v3h-3zM564 229h2v2h-2zM562 231h2v2h-2zM564 233h2v2h-2zM538 232h2v2h-2zM538 232h3v3h-3zM509 215h2v2h-2zM357 141h2v2h-2zM359 139h2v2h-2zM357 141h3v3h-3zM359 139h3v3h-3zM515 212h2v2h-2zM513 210h3v3h-3zM513 210h2v2h-2zM515 208h2v2h-2zM517 206h3v3h-3zM542 217h2v2h-2zM542 215h2v2h-2zM410 231h3v3h-3zM412 229h2v2h-2zM466 135h2v2h-2zM466 137h3v3h-3zM464 135h3v3h-3zM466 135h3v3h-3zM464 137h3v3h-3zM466 137h2v2h-2zM533 225h2v2h-2zM533 223h3v3h-3zM535 221h2v2h-2zM535 223h3v3h-3zM521 219h2v2h-2zM519 221h2v2h-2zM521 223h2v2h-2zM530 235h2v2h-2zM528 233h2v2h-2zM509 135h3v3h-3zM509 137h3v3h-3zM511 137h2v2h-2zM511 137h2v2h-2zM511 137h2v2h-2zM471 137h3v3h-3zM473 139h3v3h-3zM362 143h2v2h-2zM528 222h2v2h-2zM526 224h2v2h-2zM526 226h2v2h-2zM524 226h3v3h-3zM522 226h3v3h-3zM515 228h2v2h-2zM509 199h3v3h-3zM507 197h3v3h-3zM507 195h2v2h-2zM505 193h3v3h-3zM364 149h2v2h-2zM364 147h2v2h-2zM362 145h2v2h-2zM364 147h3v3h-3zM362 147h2v2h-2zM364 145h3v3h-3zM472 365h2v2h-2zM470 365h2v2h-2zM468 363h2v2h-2zM470 365h2v2h-2zM470 367h2v2h-2zM464 307h2v2h-2zM466 309h3v3h-3zM535 224h3v3h-3zM537 224h2v2h-2zM539 222h3v3h-3zM537 220h2v2h-2zM509 218h3v3h-3zM511 218h2v2h-2zM513 218h3v3h-3zM515 216h2v2h-2zM513 214h2v2h-2zM513 212h3v3h-3zM418 233h3v3h-3zM416 231h3v3h-3zM549 210h2v2h-2zM572 165h2v2h-2zM535 206h2v2h-2zM535 206h2v2h-2zM533 208h3v3h-3zM533 206h2v2h-2zM530 215h3v3h-3zM530 215h2v2h-2zM509 136h3v3h-3zM507 138h2v2h-2zM509 136h2v2h-2zM534 214h3v3h-3zM534 214h2v2h-2zM532 214h3v3h-3zM532 212h3v3h-3zM413 231h2v2h-2zM466 359h3v3h-3zM420 235h3v3h-3zM422 235h2v2h-2zM468 135h2v2h-2zM466 133h2v2h-2zM532 212h2v2h-2zM362 143h2v2h-2zM364 141h2v2h-2zM366 141h2v2h-2zM368 141h2v2h-2zM368 139h2v2h-2zM368 139h3v3h-3zM367 142h2v2h-2zM369 142h2v2h-2zM531 215h2v2h-2zM531 215h2v2h-2z"/>
<path fill="#f46d43" d="M522 170h3v3h-3zM522 168h2v2h-2zM453 297h3v3h-3zM455 297h2v2h-2zM455 299h2v2h-2zM457 301h2v2h-2zM457 303h2v2h-2zM457 301h2v2h-2zM342 220h2v2h-2zM344 220h2v2h-2zM342 222h2v2h-2zM340 224h2v2h-2zM520 167h3v3h-3zM518 167h3v3h-3zM384 203h2v2h-2zM386 203h2v2h-2zM452 307h2v2h-2zM450 309h3v3h-3zM452 311h2v2h-2zM452 309h2v2h-2zM450 309h3v3h-3zM425 215h2v2h-2zM425 217h3v3h-3zM427 215h2v2h-2zM425 215h2v2h-2zM423 217h3v3h-3zM453 304h2v2h-2zM455 304h2v2h-2zM455 304h2v2h-2zM380 202h3v3h-3zM382 200h3v3h-3zM382 200h3v3h-3zM382 198h2v2h-2zM384 200h2v2h-2zM372 196h3v3h-3zM374 194h2v2h-2zM374 196h2v2h-2zM372 198h3v3h-3zM370 200h2v2h-2zM427 212h2v2h-2zM425 212h2v2h-2zM406 135h3v3h-3zM406 135h2v2h-2zM408 137h2v2h-2zM410 139h2v2h-2zM544 196h2v2h-2zM513 168h3v3h-3zM515 166h3v3h-3zM513 168h2v2h-2zM513 168h2v2h-2zM511 168h2v2h-2zM513 166h2v2h-2zM346 218h3v3h-3zM348 218h2v2h-2zM346 220h2v2h-2zM346 218h3v3h-3zM536 192h2v2h-2zM536 192h3v3h-3zM538 190h2v2h-2zM540 188h2v2h-2zM542 186h2v2h-2zM542 188h2v2h-2zM466 295h2v2h-2zM468 295h3v3h-3zM470 295h2v2h-2zM468 297h2v2h-2zM468 299h3v3h-3zM344 206h3v3h-3zM346 206h2v2h-2zM346 206h2v2h-2zM518 171h3v3h-3zM518 169h3v3h-3zM526 160h2v2h-2zM526 158h2v2h-2zM419 213h2v2h-2zM421 211h2v2h-2zM421 209h2v2h-2zM419 207h2v2h-2zM417 205h2v2h-2zM380 194h2v2h-2zM380 192h2v2h-2zM382 190h2v2h-2zM453 308h3v3h-3zM453 310h3v3h-3zM453 312h2v2h-2zM451 314h2v2h-2zM449 314h2v2h-2zM449 316h3v3h-3zM422 135h2v2h-2zM424 135h2v2h-2zM426 135h2v2h-2zM424 135h3v3h-3zM530 170h2v2h-2zM532 170h2v2h-2zM526 172h3v3h-3zM526 170h2v2h-2zM526 170h2v2h-2zM528 170h3v3h-3zM530 168h2v2h-2zM405 136h3v3h-3zM403 138h3v3h-3zM401 136h2v2h-2zM401 138h2v2h-2zM403 140h2v2h-2zM453 301h2v2h-2zM455 299h2v2h-2zM457 301h2v2h-2zM457 303h2v2h-2zM455 303h2v2h-2zM509 179h2v2h-2zM511 179h3v3h-3zM513 177h3v3h-3zM511 177h3v3h-3zM509 175h2v2h-2zM344 219h2v2h-2zM342 217h2v2h-2zM342 217h3v3h-3zM527 176h3v3h-3zM529 176h2v2h-2zM531 176h2v2h-2zM529 174h2v2h-2zM529 172h3v3h-3zM411 213h2v2h-2zM413 215h2v2h-2zM413 215h2v2h-2zM415 217h2v2h-2zM413 138h2v2h-2zM415 140h2v2h-2zM415 138h2v2h-2zM415 136h2v2h-2zM417 136h3v3h-3zM412 213h3v3h-3zM453 315h2v2h-2zM451 315h2v2h-2zM449 313h2v2h-2zM447 315h2v2h-2zM447 313h2v2h-2zM377 224h3v3h-3zM375 222h2v2h-2zM377 222h2v2h-2zM375 224h3v3h-3zM377 224h2v2h-2zM375 226h3v3h-3zM571 199h3v3h-3zM573 197h2v2h-2zM575 195h3v3h-3zM577 197h2v2h-2zM577 197h3v3h-3zM522 180h2v2h-2zM524 180h2v2h-2zM522 178h3v3h-3zM520 176h2v2h-2zM518 176h2v2h-2zM518 176h3v3h-3zM519 158h2v2h-2zM521 156h2v2h-2zM523 156h2v2h-2zM577 200h3v3h-3zM579 198h3v3h-3zM559 194h2v2h-2zM559 194h3v3h-3zM525 160h2v2h-2zM523 162h2v2h-2zM521 162h3v3h-3zM523 162h2v2h-2zM525 160h2v2h-2zM525 158h2v2h-2zM342 217h2v2h-2zM344 219h2v2h-2zM509 151h3v3h-3zM509 153h2v2h-2zM509 153h2v2h-2zM511 153h2v2h-2zM509 155h3v3h-3zM509 162h2v2h-2zM507 162h2v2h-2zM505 160h3v3h-3zM503 162h3v3h-3zM501 162h2v2h-2zM372 197h3v3h-3zM372 197h2v2h-2zM515 177h3v3h-3zM517 175h2v2h-2zM517 175h3v3h-3zM515 173h2v2h-2zM509 168h2v2h-2zM514 154h2v2h-2zM512 154h2v2h-2zM514 156h2v2h-2zM433 138h2v2h-2zM433 136h2v2h-2zM435 138h3v3h-3zM342 205h2v2h-2zM340 205h2v2h-2zM337 206h3v3h-3zM335 208h3v3h-3zM534 170h2v2h-2zM532 168h3v3h-3zM342 212h2v2h-2zM340 212h2v2h-2zM543 169h2v2h-2zM391 200h2v2h-2zM391 198h2v2h-2zM391 198h3v3h-3zM389 196h3v3h-3zM389 198h2v2h-2zM453 307h2v2h-2zM455 309h2v2h-2zM385 194h3v3h-3zM347 221h2v2h-2zM349 223h2v2h-2zM351 223h2v2h-2zM353 223h3v3h-3zM351 223h2v2h-2zM351 221h2v2h-2zM385 197h3v3h-3zM385 197h2v2h-2zM383 199h3v3h-3zM381 197h2v2h-2zM381 199h2v2h-2zM381 197h2v2h-2zM377 198h2v2h-2zM375 200h2v2h-2zM377 202h3v3h-3zM432 139h2v2h-2zM434 137h2v2h-2zM434 137h2v2h-2zM434 135h2v2h-2zM510 179h2v2h-2zM510 181h3v3h-3zM508 181h3v3h-3zM510 181h2v2h-2zM510 180h2v2h-2zM512 182h2v2h-2zM355 211h3v3h-3zM453 320h3v3h-3zM453 318h2v2h-2zM569 199h2v2h-2zM569 197h2v2h-2zM523 176h2v2h-2zM521 174h2v2h-2zM521 174h3v3h-3zM523 176h3v3h-3zM525 174h2v2h-2zM377 223h3v3h-3zM375 225h3v3h-3zM339 216h2v2h-2zM473 338h2v2h-2zM471 340h3v3h-3zM471 338h2v2h-2zM473 340h2v2h-2zM473 338h3v3h-3zM471 340h3v3h-3zM408 214h3v3h-3zM410 216h2v2h-2zM408 218h2v2h-2zM450 313h2v2h-2zM450 313h2v2h-2zM452 315h2v2h-2zM452 315h2v2h-2zM452 317h2v2h-2zM454 317h3v3h-3zM381 200h3v3h-3zM381 200h2v2h-2zM381 198h2v2h-2zM383 200h3v3h-3zM524 175h3v3h-3zM522 177h3v3h-3zM520 175h3v3h-3zM520 173h2v2h-2zM520 171h2v2h-2zM518 173h2v2h-2zM518 171h2v2h-2zM518 171h3v3h-3zM527 165h2v2h-2zM525 163h2v2h-2zM525 163h2v2h-2zM525 165h2v2h-2zM527 165h3v3h-3zM551 192h3v3h-3zM551 194h3v3h-3zM553 192h3v3h-3zM555 192h2v2h-2zM557 190h3v3h-3zM559 188h3v3h-3zM432 139h2v2h-2zM434 141h3v3h-3zM436 139h2v2h-2zM434 141h2v2h-2zM434 141h3v3h-3zM534 180h2v2h-2zM460 291h2v2h-2zM460 291h2v2h-2zM458 293h3v3h-3zM456 291h2v2h-2zM456 291h2v2h-2zM458 289h2v2h-2zM345 208h2v2h-2zM345 210h3v3h-3zM343 210h2v2h-2zM345 210h2v2h-2z"/>
<path fill="#d53e4f" d="M480 140h2v2h-2zM482 138h2v2h-2zM480 136h2v2h-2zM480 138h2v2h-2zM478 136h2v2h-2zM527 138h2v2h-2zM548 152h3v3h-3zM548 154h2v2h-2zM546 152h2v2h-2zM535 141h2v2h-2zM533 143h2v2h-2zM533 143h2v2h-2zM535 145h2v2h-2zM537 147h2v2h-2zM416 231h2v2h-2zM416 229h2v2h-2zM416 227h2v2h-2zM418 225h3v3h-3zM420 223h2v2h-2zM422 225h2v2h-2zM517 135h3v3h-3zM517 133h3v3h-3zM515 133h3v3h-3zM517 131h3v3h-3zM571 152h2v2h-2zM540 146h2v2h-2zM465 138h2v2h-2zM465 138h3v3h-3z"/>
</g>
<path d="M920.9,354.2 L916.4,344.0 L915.6,332.7 L913.4,317.8 L917.9,308.5 L920.9,305.7 M921.6,350.5 L923.1,336.5 L917.9,329.0 L917.9,317.8 L920.9,308.5 M206.1,180.6 L215.1,181.5 L222.5,183.4 L224.0,190.9 L232.2,193.7 L247.8,191.8 L256.8,189.9 L271.7,186.8 L280.9,185.3 L311.6,185.3 M311.6,185.3 L309.8,177.4 L309.8,129.3 M311.6,185.3 L318.1,193.7 L314.8,203.9 L310.4,216.1 L311.9,225.4 L309.9,228.2 L309.9,259.9 M202.9,259.9 L399.0,259.9 M265.7,259.9 L265.7,315.9 L345.7,390.6 M345.7,390.6 L349.1,400.0 L353.1,404.2 L347.6,411.2 L346.9,428.0 L344.3,433.2 M354.3,259.9 L354.3,368.2 M354.3,368.2 L344.6,370.1 L346.6,379.4 L345.7,390.6 M324.5,129.3 L324.5,148.3 L329.7,158.2 L335.7,161.9 L346.1,173.1 L349.8,174.1 L347.6,185.3 L349.1,193.7 L358.0,193.7 L363.2,203.9 L367.0,209.5 L372.9,215.1 L380.4,212.2 L393.0,212.3 L399.0,213.3 M399.0,203.9 L399.0,278.6 L428.7,278.6 M399.0,203.9 L503.2,203.9 M428.7,278.6 L533.0,278.6 M503.2,129.3 L503.2,278.6 M503.2,186.4 L614.7,186.4 M503.2,241.3 L585.8,241.3 L596.3,244.1 L605.2,244.1 L612.6,248.7 L616.4,250.8 M604.7,129.3 L605.9,138.6 L610.4,155.4 L611.1,174.1 L614.7,186.4 L616.4,198.3 L616.4,231.9 M616.4,231.9 L614.1,245.0 L616.4,250.8 M616.4,231.9 L694.2,231.9 M694.2,231.9 L688.6,222.6 L678.2,214.2 L670.7,208.6 L671.5,193.3 L678.2,184.0 L678.2,173.0 L681.1,171.8 M616.4,250.8 L621.6,263.7 L624.5,273.0 L626.5,286.5 L633.5,297.3 M533.0,278.6 L533.0,297.3 L633.5,297.3 M633.5,297.3 L638.7,305.7 L643.9,314.1 L643.6,353.3 M533.0,297.3 L533.0,353.3 M354.3,353.3 L643.6,353.3 M428.7,278.6 L428.7,353.3 M428.7,353.3 L428.7,459.1 M518.8,353.3 L518.8,362.6 L563.5,362.6 L563.5,398.8 L575.4,405.6 L591.8,407.4 L605.2,413.0 L615.6,413.0 L630.5,411.5 L645.4,416.0 L652.2,417.7 M518.8,362.6 L518.1,446.6 L464.9,446.6 L466.3,450.7 M626.5,286.5 L686.8,286.1 L691.3,290.2 M694.2,231.9 L694.5,241.3 L702.7,250.6 L710.2,262.7 L706.4,269.3 L696.0,275.8 L697.5,286.1 L691.3,290.2 M702.9,250.6 L745.2,250.6 M706.4,174.1 L712.4,179.7 L725.8,183.4 L742.2,186.2 L748.1,196.5 L748.1,202.1 M691.3,290.2 L691.6,301.0 L702.0,312.2 L709.4,318.7 L708.7,325.3 L719.8,342.1 L724.3,353.3 L719.8,362.6 L716.9,372.0 M643.6,353.3 L643.6,362.6 L710.2,362.6 L706.9,372.0 L716.9,372.0 M643.6,362.6 L646.4,383.2 L645.7,416.0 L652.2,417.7 L652.2,428.0 M652.2,428.0 L695.0,428.0 M652.2,428.0 L652.2,446.6 L655.8,465.3 L658.8,476.5 L655.1,489.6 M716.9,372.0 L710.9,388.8 L703.5,401.8 L697.5,418.6 L695.0,428.0 L691.6,439.2 L697.5,446.6 L688.6,465.3 L716.4,465.3 L718.4,480.2 M749.2,264.4 L749.2,309.4 L748.1,315.9 L743.7,329.0 L740.7,338.3 L736.2,345.8 L724.3,353.3 M754.1,264.4 L789.8,265.5 L809.9,265.0 M789.5,265.5 L789.5,314.1 M740.7,338.3 L748.1,335.5 L755.6,338.3 L764.5,336.5 L773.4,334.6 L780.9,321.5 L789.5,314.1 L795.8,314.1 L806.2,322.5 L816.6,321.5 L822.6,327.1 L828.5,323.4 L835.2,314.1 L843.4,308.5 L848.6,303.8 L852.4,297.3 L853.6,285.3 M853.6,285.3 L853.6,259.9 M822.6,327.1 L822.6,331.4 L828.5,342.1 L832.0,343.2 L821.1,351.4 L806.7,360.8 M806.7,360.8 L741.4,360.8 L741.4,362.6 L719.8,362.6 M806.7,360.8 L836.7,360.8 L922.3,361.7 M836.7,360.8 L831.5,370.1 L822.6,372.0 L815.1,376.6 L803.2,381.3 L797.3,386.9 L797.0,390.6 M797.0,390.6 L707.9,390.6 M797.0,390.6 L815.1,390.6 L827.1,386.9 L845.7,387.8 L847.9,389.7 L849.4,394.4 L865.8,394.4 L882.9,412.1 M815.1,390.6 L819.6,400.0 L828.5,413.0 L833.0,424.2 L839.0,435.4 L847.9,445.7 M777.9,390.6 L783.9,429.8 L786.8,446.6 L786.1,465.3 M739.2,390.6 L740.7,409.3 L735.2,448.5 L736.2,477.1 M749.6,478.4 L748.1,465.3 L786.8,465.3 M786.1,465.3 L786.8,470.9 L788.9,470.9 L828.5,473.3 L831.5,469.0 L839.7,470.9 M832.0,343.2 L843.4,348.6 L856.8,344.0 L867.3,329.0 L874.7,321.5 L885.1,312.2 L894.8,310.0 L886.6,304.7 L876.2,306.6 L869.0,312.2 L869.0,302.5 M853.6,285.3 L853.6,302.5 L924.0,302.5 M894.8,310.0 L904.5,316.9 L903.0,325.3 L916.4,334.6 M924.0,302.5 L924.0,326.0 L935.0,326.0 M926.8,304.7 L929.8,301.0 L934.3,297.3 L939.5,291.7 L932.8,286.1 L934.3,278.6 L940.2,272.1 M853.6,259.9 L864.9,254.9 L864.9,259.9 L930.4,259.9 L934.3,263.7 L940.2,272.1 M940.2,272.1 L952.1,278.8 M955.9,278.6 L958.1,276.7 L958.1,259.0 L961.7,245.9 L959.6,230.1 L960.3,203.8 M958.1,259.0 L983.4,259.6 L989.7,259.6 L993.5,269.3 M983.4,259.6 L983.4,272.5 M973.6,246.3 L974.5,235.7 L979.7,217.0 L987.9,203.8 M961.7,245.9 L973.6,246.3 L990.8,246.9 L998.3,243.7 M999.8,240.3 L995.3,231.9 L994.1,198.3" fill="none" stroke="#000" stroke-width="2.7" stroke-linejoin="round" stroke-linecap="round"/>
<path d="M224.6,129.3 L227.0,133.9 L228.5,139.5 L226.2,145.1 L222.5,147.0 L218.8,145.1 L212.1,145.3 L203.2,142.3 L195.4,140.8 L196.6,149.6 L200.9,156.3 L203.2,164.7 L203.9,167.5 L205.4,173.1 L205.1,180.4 L206.9,189.0 L206.9,197.4 L205.4,210.5 L204.4,222.6 L201.7,231.9 L198.7,243.1 L199.4,251.5 L202.9,259.9 L203.2,264.6 L204.7,276.7 L200.9,287.9 L206.1,297.3 L209.1,306.6 L210.3,316.9 L219.5,329.0 L221.0,335.5 L228.5,339.3 L229.2,348.6 L235.9,354.2 L238.2,359.8 L237.4,366.4 L246.3,378.5 L253.0,384.1 L256.3,392.5 L257.5,400.0 L265.7,400.9 L273.1,402.8 L279.1,407.4 L288.0,408.7 L289.5,414.0 L294.0,414.0 L299.9,419.6 L305.2,425.2 L306.6,433.6 L308.6,436.7 L344.3,433.2 L343.0,437.5 L398.7,459.1 L441.3,459.1 L441.3,450.7 L466.3,450.7 L471.2,456.9 L481.6,467.2 L489.0,471.8 L494.3,482.1 L496.5,490.5 L503.9,497.0 L515.1,503.0 L521.1,498.0 L524.0,488.6 L529.3,486.4 L542.7,488.3 L550.1,495.9 L556.1,508.2 L563.5,521.3 L570.9,530.6 L572.4,540.0 L576.9,550.2 L582.9,553.0 L590.3,557.3 L600.7,560.9 L605.9,559.4 L605.2,547.4 L603.7,536.2 L605.9,525.0 L614.1,515.7 L624.5,509.2 L633.5,503.6 L640.9,497.0 L648.4,492.4 L655.1,489.6 L664.8,488.3 L678.2,492.4 L685.6,493.3 L693.0,498.0 L703.5,500.8 L710.9,499.8 L718.4,501.7 L724.3,502.6 L726.5,498.0 L721.3,493.3 L718.4,485.8 L719.1,480.2 L722.8,478.0 L728.8,476.5 L736.2,477.1 L740.7,478.4 L743.7,479.3 L749.6,478.4 L754.1,477.4 L764.5,476.5 L774.9,481.2 L780.9,489.6 L786.8,490.5 L795.8,485.8 L800.3,483.0 L807.7,486.8 L815.1,498.0 L820.4,507.3 L819.6,517.6 L821.8,526.0 L823.3,534.4 L828.5,543.7 L833.0,550.2 L835.2,558.6 L841.9,566.1 L844.9,574.5 L850.9,574.5 L856.1,569.8 L859.1,562.4 L860.6,547.4 L859.8,540.0 L855.3,525.0 L852.4,512.9 L847.2,499.8 L842.7,487.7 L840.5,476.5 L839.7,470.9 L841.9,460.6 L844.9,450.4 L848.6,444.8 L853.9,440.1 L862.8,432.6 L872.5,425.2 L877.7,415.8 L882.9,412.1 L891.8,412.1 L895.5,403.7 L904.5,397.2 L913.4,398.1 L920.9,390.6 L928.3,386.0 L927.6,375.7 L924.6,366.4 L921.3,355.2 L921.6,351.0 L926.8,342.1 L932.0,334.6 L935.0,326.2 L934.3,319.7 L929.8,310.3 L927.6,306.6 L930.5,307.5 L936.5,317.3 L944.7,309.4 L949.9,297.3 L950.6,288.9 L950.6,285.1 L954.4,286.1 L968.5,283.3 L982.7,277.3 L976.0,278.6 L962.6,279.5 L955.1,280.5 L955.9,278.6 L967.0,273.9 L976.0,273.6 L982.7,272.5 L989.4,270.2 L992.3,269.3 L996.8,268.3 L1001.3,268.3 L1010.9,266.5 L1010.2,259.0 L1007.2,258.6 L1002.8,263.7 L1000.5,260.9 L996.8,254.3 L1001.3,247.8 L998.3,243.1 L999.8,240.3 L1007.2,230.1 L1013.2,226.3 L1025.1,220.7 L1034.0,217.0 L1040.0,215.1 L1047.4,212.3 L1055.6,207.3 L1050.4,201.1 L1043.0,190.9 L1043.0,165.3 L1035.5,160.1 L1026.6,163.1 L1021.8,158.2 L1010.2,172.2 L1005.7,187.1 L998.3,196.5 L994.1,198.3 L987.9,203.8 L940.2,203.9 L931.3,207.7 L917.9,218.9 L914.9,231.9 L897.0,236.6 L875.4,236.6 L876.9,243.1 L864.3,255.3 L853.9,259.9 L839.0,264.6 L836.0,269.3 L822.6,270.2 L809.9,265.0 L814.4,258.1 L818.9,248.7 L824.8,241.3 L823.3,230.1 L817.4,221.7 L810.7,224.5 L804.0,230.1 L802.5,224.5 L811.4,216.1 L812.2,203.9 L798.8,192.7 L790.6,189.4 L786.8,192.7 L778.7,200.2 L768.2,211.4 L764.5,226.3 L765.3,248.7 L762.3,261.8 L754.1,267.0 L748.9,265.5 L747.4,258.1 L745.2,250.6 L744.4,241.3 L746.6,225.4 L751.1,211.4 L755.6,202.1 L751.1,200.2 L745.2,208.6 L741.4,212.3 L748.1,200.2 L749.6,192.7 L757.1,189.9 L766.0,189.0 L773.4,185.3 L782.4,184.3 L790.6,188.1 L800.3,186.2 L801.7,182.5 L796.5,175.9 L786.8,171.3 L772.0,173.1 L758.6,176.9 L749.6,175.9 L740.7,168.5 L742.2,162.9 L745.9,158.2 L734.7,161.0 L727.3,166.6 L719.8,170.3 L706.4,174.1 L699.0,168.5 L693.0,171.3 L681.1,171.8 L690.1,163.8 L700.5,156.3 L712.4,150.7 L719.1,147.9 L705.0,146.1 L690.1,147.0 L675.2,139.5 L661.8,136.7 L649.9,135.8 L642.4,133.9 L638.0,129.3 L635.7,122.2 L635.7,129.3 L224.6,129.3Z" fill="none" stroke="#000" stroke-width="2.7" stroke-linejoin="round"/>
<g fill="#5e4fa2">
<ellipse cx="260.5" cy="408.7" rx="1.8" ry="1"/><ellipse cx="264.5" cy="410.2" rx="2.2" ry="1.2"/><ellipse cx="270" cy="409.3" rx="3" ry="1.2"/>
<ellipse cx="289.4" cy="420.5" rx="2.2" ry="1"/><ellipse cx="288" cy="429.8" rx="1.2" ry="2"/><ellipse cx="273" cy="423.3" rx="1.2" ry="0.8"/>
<path d="M855,573.5 Q848,581 836,585.5" fill="none" stroke="#5e4fa2" stroke-width="2"/>
</g>
<ellipse cx="730" cy="147.5" rx="6" ry="1.8" transform="rotate(-20 730 147.5)" fill="#fdae61"/>
<circle cx="760" cy="191" r="2.8" fill="#000"/><path d="M226,331 L231,329.5 L234,334 L237.5,342 L236,346 L231.5,341 L228,337Z" fill="#000"/><circle cx="822" cy="523" r="2.2" fill="#000"/><circle cx="830" cy="543" r="1.8" fill="#000"/><ellipse cx="779" cy="205" rx="2.5" ry="4" fill="#000"/>
<path d="M217.8,135.7 L222.4,132 L225.2,129.3 L228.9,130.2 L230.7,136.7 L232.6,144.1 L231.7,152.4 L230.7,159.8 L227,166.3 L221.5,166.3 L219.6,160.7 L223.3,157 L222.4,150.6 L225.2,147.8 L224.3,140.4 L220.6,138.5Z" fill="#000"/>
<path d="M232.9,129.0 L234.8,132.0 L235.8,135.5 L237.5,138.6 L238.8,141.9 L239.2,145.9 L239.7,149.8 L240.5,153.7 L240.7,157.2 L240.2,160.6 L238.8,163.8 L237.1,167.0 L237.0,170.7 L235.5,173.9 L233.3,177.5 L230.4,180.6 L230.1,184.1 L231.6,187.3 L232.1,190.7 L233.3,193.6 L235.5,195.8 L234.7,200.0 L233.8,204.2 L232.2,207.5 L231.6,211.2 L229.6,214.3 L228.5,217.3 L227.2,220.3 L227.0,223.5 L226.4,227.4 L225.5,231.3 L225.4,235.3 L224.2,239.4 L223.7,243.7 L225.3,246.9 L225.4,250.4 L221.8,251.7 L218.6,253.7 L215.3,255.5 L213.0,258.3 L210.2,260.5 L211.9,265.6 L216.9,267.3 L218.8,270.4 L219.0,274.0 M219.0,274.0 L214.9,275.3 L211.4,277.7 L213.1,280.2 L214.5,283.0 L216.5,285.3 L214.0,288.1 L212.7,291.6 L215.0,293.6 L217.3,295.6 L220.3,296.7 L221.1,301.1 L221.5,305.5 L221.5,310.6 M219.0,274.0 L222.6,276.3 L226.6,277.7 L229.7,277.0 L232.9,276.5 L235.5,280.2 L239.2,282.8 L239.8,286.4 L242.4,289.3 L243.0,292.9 L245.4,295.0 L247.2,297.6 L248.0,301.0 L250.6,303.0 L252.8,305.9 L254.6,309.0 L256.9,311.8 L258.5,315.2 L259.4,318.8 L260.8,322.2 L261.9,325.7 L264.4,328.2 L266.4,331.1 L268.8,333.7 L269.9,336.7 L270.7,339.9 L272.3,342.7 L273.9,345.5 L274.9,348.5 L276.7,350.9 L278.2,353.6 L280.6,355.6 L282.0,358.6 L284.5,360.9 L285.7,364.0 L285.3,368.0 L285.4,371.9 L286.5,375.8 L287.4,379.1 L290.8,379.8 L294.1,379.1 L294.7,375.6 L295.4,372.1 L295.0,368.5 L296.0,365.0 L296.4,361.9 L295.7,358.8 L295.0,355.8 L295.2,352.7 L298.4,352.9 L301.1,355.1 L304.0,356.3 L307.5,355.7 L310.3,357.3 L313.4,357.2 L316.3,355.9 L319.3,354.8 L322.4,354.5 L325.5,354.2 L328.4,353.1 L331.1,351.8 L333.0,349.0 L336.1,348.2 L339.1,348.4 L342.1,347.4 L345.2,348.6 L348.2,348.2 L352.0,347.9 L355.8,348.2 L354.8,351.1 L354.3,354.1 L354.8,357.3 L353.6,360.2 L354.2,363.3 L354.9,366.3 L355.8,369.3 L355.2,372.5 L355.8,375.5 L356.6,378.5 L356.3,381.5 L356.0,384.6 L355.6,387.6 L355.8,390.6 L359.9,392.3 L363.3,395.1 L366.3,396.5 L368.0,399.7 L370.9,401.2 L374.8,402.4 L378.5,404.2 L382.6,403.5 L386.0,401.2 L388.1,403.8 L391.2,405.1 L393.6,407.3 L396.3,409.5 L398.9,411.9 L401.4,414.3 L404.2,416.4 L408.8,420.0 L409.7,423.4 L410.8,426.7 L412.0,430.0 L413.1,433.4 L413.9,437.0 L416.0,440.0 L418.0,444.0 L420.0,448.0 L421.4,450.9 L422.3,454.2 L424.0,457.0 M440.0,452.0 L443.2,449.1 L447.0,447.0 L451.0,447.1 L455.0,448.0 L458.8,447.3 L462.0,445.0 L463.7,442.0 L465.4,439.0 L467.0,436.0 L469.3,438.6 L470.0,442.0 L474.0,442.9 L478.0,444.0 L481.4,442.5 L484.3,439.9 L488.0,439.0 L490.9,441.7 L494.0,444.0 L494.8,447.7 L496.8,451.1 L497.0,455.0 L498.1,458.4 L499.7,461.6 L501.0,465.0 L502.7,469.1 L505.0,473.0 L508.1,474.4 L510.8,476.7 L514.0,478.0 L516.4,474.2 L518.0,470.0 L519.4,467.2 L521.4,465.0 L524.2,463.5 L526.0,461.0 L527.5,458.2 L526.9,454.9 L528.0,452.0 L531.0,450.7 L534.1,449.7 L536.9,448.0 L540.0,447.0 L542.9,445.3 L546.0,444.0 L542.8,441.8 L540.0,439.0 L537.1,440.5 L533.9,441.3 L531.1,443.1 L528.0,444.0 L531.6,442.3 L535.5,441.4 L539.0,439.4 L541.5,437.0 L544.9,436.1 L547.9,434.7 L550.4,432.4 L553.5,431.0 L556.9,430.5 L560.2,431.5 L563.5,430.5 L566.9,431.0 L570.0,428.0 L573.7,425.9 L577.0,423.3 L580.4,420.8 L579.9,416.5 L578.7,412.4 L582.3,412.6 L585.5,414.1 L589.6,412.9 L593.9,412.4 L597.2,411.7 L600.7,412.1 L604.0,411.0 L607.4,410.7 L612.4,407.4 L616.5,408.8 L620.8,409.0 L624.1,407.9 L627.5,407.6 L630.9,407.4 L634.1,409.3 L637.3,411.4 L641.0,412.4 L644.3,411.2 L647.6,409.7 L651.1,409.0 L654.2,407.1 L657.9,406.6 L661.0,404.7 L664.6,404.0 L667.3,401.5 L669.6,398.8 L671.4,395.6 L672.6,392.7 L674.7,390.5 L678.0,389.5 L681.5,389.9 L684.8,388.8 L687.6,386.6 L690.1,384.0 L693.0,382.3 L695.0,379.6 L697.2,377.2 L700.2,375.6 L703.1,376.4 L705.6,378.3 L708.6,378.9 L712.2,381.1 L715.4,384.0 L715.7,387.4 L715.4,390.7 L713.0,394.2 L710.3,397.5 L712.6,399.6 L714.9,401.9 L717.0,404.2 L718.1,407.2 L720.4,409.3 L721.6,406.1 L723.0,403.2 L725.5,400.8 L729.9,400.7 L733.9,399.1 L735.9,402.1 L738.9,404.2 L739.8,408.0 L742.4,410.9 L744.0,414.3 L747.4,417.7 L751.2,415.8 L754.1,412.6 L757.6,412.5 L760.8,410.9 L760.9,407.5 L762.4,404.2 L762.5,400.8 L760.4,397.9 L757.5,395.8 L760.9,396.1 L764.2,395.8 L767.6,395.8 L770.1,397.8 L772.3,400.1 L774.3,402.5 L775.6,406.6 L776.0,410.9 L778.0,407.9 L781.0,405.9 L783.7,402.6 L786.1,399.1 L785.2,395.8 L785.5,392.3 L784.4,389.0 L781.0,387.4 L784.6,387.4 L787.8,389.0 L789.5,392.3 L792.0,394.9 L794.5,397.5 L797.7,399.0 L801.2,399.1 L804.8,398.7 L808.2,397.6 L811.4,395.8 L814.3,394.2 L816.5,391.7 L819.8,390.7 L823.4,389.5 L826.4,387.0 L830.1,386.0 L833.5,386.0 L836.8,386.8 L841.1,386.7 L845.3,386.0 L849.5,385.2 L853.7,384.3 L857.1,384.1 L860.4,385.1 L863.8,384.3 L867.1,385.7 L870.5,386.8 L873.8,385.7 L877.1,384.7 L880.6,384.3 L884.2,383.8 L887.3,382.0 L890.7,380.9 L892.8,378.7 L894.1,375.9 L897.4,374.5 L900.7,373.1 L904.2,372.5 L907.6,370.9 L910.9,369.1 L914.3,365.8 L916.5,363.6 L917.7,360.7 L915.5,357.6 L914.3,354.0 L912.6,348.9 L914.7,346.7 L916.0,343.9 L915.9,340.4 L914.3,337.2 L915.7,333.9 L916.0,330.4 L917.4,327.2 L917.7,323.7 L921.0,328.7 L924.9,330.5 L927.8,333.8 L931.3,332.3 L934.5,330.4 M205.0,148.0 L208.8,147.1 L212.0,145.0 L215.7,145.2 L219.0,147.0 L222.0,152.0 L220.9,155.2 L219.0,158.0 L215.0,158.7 L211.0,158.5 L208.5,155.7 L206.0,153.0 L205.0,148.0 M550.8,428.4 L551.5,431.9 L551.9,435.4 L551.9,439.0 L553.8,442.3 L553.4,446.0 L557.0,447.2 L560.1,449.3 L563.2,451.2 L566.0,453.7 L569.1,452.1 L572.9,452.7 L576.0,451.0 L578.5,448.2 L579.2,444.4 L581.8,441.6 L583.7,438.5 L578.6,436.0 L577.0,438.7 L575.1,441.2 L573.1,443.7 L571.0,446.0 L567.9,444.5 L564.8,443.4 L561.5,442.5 L558.4,441.0 L557.0,437.8 L556.4,434.4 L555.9,431.0 L550.8,428.4 M520.5,446.0 L523.1,444.1 L526.2,443.6 L529.2,442.6 L531.8,440.8 L534.4,439.1 L537.4,438.0 L540.4,437.0 L543.3,436.0 L544.0,439.4 L544.5,442.8 L545.8,446.0 L543.4,448.2 L540.4,449.6 L538.1,451.8 L535.8,454.1 L533.2,456.0 L530.1,457.5 L526.9,458.5 L523.5,459.4 L520.5,461.0 L518.7,457.7 L517.5,454.2 L515.5,451.0 L518.0,448.5 L520.5,446.0" fill="none" stroke="#ff00ff" stroke-width="3.2" stroke-linejoin="round" stroke-linecap="round"/>
<path d="M240.5,131.8 L243.4,134.0 L245.6,136.9 L245.5,141.1 L245.6,145.3 L243.6,147.9 L242.9,151.3 L240.5,153.7 L242.3,157.0 L243.9,160.4 L244.0,163.8 L243.2,167.1 L243.9,170.5 L240.8,172.5 L238.8,175.6 L236.5,178.3 L233.8,180.6 L235.5,184.4 L238.4,187.4 L241.6,187.9 L244.7,187.0 L247.8,187.3 L251.0,187.4 L254.3,185.4 L258.3,185.1 L261.6,183.2 L265.2,182.8 L268.7,182.4 L272.1,181.0 L275.4,180.4 L278.5,179.2 L281.7,178.2 L284.7,176.8 L287.6,175.5 L290.1,173.4 L293.2,172.6 L296.7,171.7 L299.9,169.7 L303.7,169.5 L307.3,171.6 L310.0,174.7 L315.3,176.8 L315.9,179.9 L318.2,182.4 L319.1,185.4 L320.1,188.4 L320.5,191.6 L318.4,188.5 L314.8,186.7 L312.0,184.3 L310.0,181.0 L306.7,181.5 L303.9,183.8 L300.4,183.6 L297.4,185.3 L294.6,186.6 L291.8,187.9 L289.0,189.3 L286.8,191.6 L283.1,191.5 L279.5,191.1 L275.8,192.4 L272.1,191.6 L269.0,192.0 L266.2,193.3 L263.2,193.7 L260.5,195.6 L257.4,195.8 L253.1,195.4 L248.9,195.8 L245.7,193.8 L241.6,194.0 L238.4,192.0 L238.0,195.1 L236.8,198.1 L235.7,201.0 L235.5,204.2 L236.5,207.5 L237.2,210.8 L237.2,214.3 L235.5,220.0 L232.1,223.5 L232.0,227.5 L230.8,231.3 L230.4,235.3 L229.6,238.3 L229.9,241.4 L229.6,244.4 L229.2,247.4 L228.7,250.4 L228.4,253.8 L227.7,257.2 L227.0,260.5 L229.3,262.6 L230.4,265.6 L228.7,268.4 L226.3,270.8 L225.4,274.0 L229.6,273.8 L233.8,274.0 L235.1,276.8 L237.2,279.0 L239.4,282.1 L240.5,285.8 L242.5,288.3 L244.7,290.6 L247.3,292.5 L248.7,295.6 L250.6,298.4 L252.4,301.3 L254.0,304.3 L257.0,308.4 L258.1,311.2 L259.1,314.1 L261.6,316.2 L263.1,318.9 L263.8,321.9 L265.1,325.1 L266.5,328.2 L268.8,330.8 L270.5,333.7 L271.9,336.6 L272.7,339.8 L274.8,342.3 L275.6,345.5 L277.6,347.8 L279.4,350.3 L280.5,353.2 L282.3,355.6 L283.9,358.4 L285.3,361.3 L285.8,364.6 L287.4,367.4 L287.4,370.9 L289.0,374.1 L294.1,374.1 L294.6,370.7 L295.8,367.4 L294.4,363.8 L292.4,360.6 L291.7,357.3 L291.9,353.8 L290.7,350.5 L295.8,348.8 L299.1,345.5 L303.3,346.5 L307.6,347.2 L312.6,350.5 L316.7,349.2 L321.0,348.8 L324.2,347.2 L327.5,345.8 L331.1,345.5 L334.5,342.9 L337.9,340.4 L341.3,340.8 L344.7,341.0 L348.0,342.1 L351.5,343.6 L354.7,345.5 L358.9,345.2 L363.0,345.5 L365.8,347.7 L369.0,349.0 L372.3,349.9 L375.0,352.0 L378.1,353.6 L381.5,353.5 L384.7,354.4 L388.0,355.0 L391.0,353.9 L394.2,353.6 L397.0,352.0 L399.7,350.4 L401.7,348.1 L404.0,346.0 L407.5,347.0 L411.0,348.0 L408.0,349.7 L405.1,351.5 L402.9,354.1 L400.0,356.0 L396.8,357.1 L393.6,358.3 L391.0,360.6 L388.0,362.0 L384.8,362.5 L381.5,362.5 L378.2,361.6 L375.0,362.0 L372.1,361.0 L369.2,359.9 L366.0,360.0 L363.0,358.8 L359.8,358.9 L359.4,363.2 L358.1,367.4 L360.2,369.9 L361.8,372.8 L363.1,375.8 L364.8,378.6 L365.1,382.0 L366.0,385.2 L367.1,388.3 L369.3,390.9 L370.1,394.1 L371.9,396.8 L374.8,398.3 L376.8,400.8 L380.2,399.1 L378.9,396.4 L378.3,393.3 L376.8,390.7 L381.1,390.0 L385.3,390.7 L388.2,391.8 L390.3,394.1 L391.9,397.4 L394.8,399.8 L396.8,402.8 L398.7,405.9 L401.3,407.5 L403.9,409.1 L406.7,410.3 L409.7,412.5 L411.5,415.7 L413.5,418.7 L417.7,419.4 L421.9,420.4 L425.3,421.2 L428.6,422.1 L431.5,424.3 L433.7,427.2 L437.0,430.5 L435.2,433.0 L433.7,435.6 L437.0,440.6 L440.8,439.7 L443.8,437.3 L445.3,434.7 L447.2,432.3 L448.3,429.3 L450.5,427.2 L451.9,424.2 L454.2,421.7 L455.6,418.7 L458.9,420.4 L460.2,423.7 L459.3,427.2 L460.6,430.5 L465.7,430.5 L467.0,426.7 L466.1,422.5 L467.4,418.7 L470.7,413.7 L471.7,416.6 L474.1,418.7 L475.4,422.0 L475.9,425.6 L477.5,428.8 L478.2,431.8 L480.0,434.3 L480.8,437.3 L483.5,435.9 L485.9,433.9 L488.6,431.5 L490.9,428.8 L494.2,430.2 L497.7,430.5 L500.8,427.7 L504.4,425.5 L507.5,427.6 L511.1,428.8 L514.3,430.5 L517.9,430.5 L522.2,430.0 L526.3,428.8 L529.1,427.2 L531.5,424.9 L534.7,423.8 L537.6,421.4 L540.5,419.0 L543.5,418.0 L546.7,417.5 L547.1,414.0 L547.0,410.5 L546.8,407.0 L546.1,403.5 L546.7,400.0 L545.3,396.8 L543.4,393.9 L546.7,395.0 L550.1,395.6 L553.2,395.9 L555.8,397.9 L558.9,398.3 L561.9,398.9 L564.9,400.7 L566.4,404.0 L569.5,405.7 L570.3,402.1 L572.0,398.9 L573.7,395.6 L576.4,394.2 L578.8,392.3 L581.3,390.6 L583.8,388.8 L587.7,389.1 L591.7,388.7 L595.6,388.8 L594.4,385.5 L593.9,382.1 L596.1,379.6 L598.5,377.3 L601.7,376.1 L604.0,373.7 L608.2,373.7 L612.4,372.8 L615.0,369.9 L617.5,366.9 L620.3,364.7 L622.5,361.9 L625.5,363.9 L628.4,366.0 L630.9,368.6 L634.2,366.8 L637.7,365.3 L641.2,365.1 L644.4,363.6 L647.6,362.2 L651.1,362.5 L654.5,361.9 L657.8,360.9 L661.3,361.2 L664.6,360.2 L668.1,361.1 L671.4,362.2 L674.7,363.6 L677.6,364.5 L680.3,365.9 L683.1,366.9 L686.7,370.5 L689.3,368.6 L691.0,365.8 L693.5,363.8 L696.8,362.6 L699.1,359.8 L702.1,358.3 L705.3,357.0 L708.3,354.7 L711.7,353.0 L715.4,352.0 L719.0,350.7 L722.3,349.0 L725.5,346.9 L728.5,347.5 L731.3,348.6 L733.9,350.3 L737.2,349.6 L740.7,349.6 L744.0,348.6 L746.6,350.3 L749.4,351.3 L752.4,352.0 L755.7,353.0 L759.1,353.7 L763.2,352.2 L767.6,352.0 L771.0,351.8 L774.3,352.0 L777.8,352.3 L781.0,353.7 L783.2,356.0 L785.4,358.3 L787.8,360.4 L790.5,362.9 L792.6,365.7 L794.5,368.8 L796.3,366.3 L796.5,363.0 L799.1,360.9 L800.0,358.0 L802.9,356.5 L805.5,354.6 L807.4,351.8 L810.0,350.0 L812.6,346.6 L815.0,343.0 L818.4,341.1 L821.8,339.2 L825.0,337.0 L828.2,337.2 L831.1,336.0 L834.0,335.0 L833.0,340.0 L831.4,342.6 L828.8,344.5 L827.5,347.3 L825.4,349.6 L823.4,351.9 L822.6,355.1 L820.0,357.0 L824.1,356.5 L828.0,355.0 L830.9,356.8 L834.0,358.0 L832.5,361.0 L831.0,364.0 L828.3,366.6 L825.7,369.4 L823.0,372.0 L820.7,375.1 L817.6,377.3 L815.0,380.0 L813.3,382.9 L810.3,384.7 L808.0,387.0 L811.4,388.3 L815.0,389.0 L817.2,386.7 L819.6,384.6 L822.3,382.8 L824.0,380.0 L827.4,378.6 L829.6,375.5 L833.0,374.0 L835.7,371.7 L837.8,368.8 L840.0,366.0 L842.3,363.6 L845.4,362.3 L848.0,360.3 L851.0,359.0 L852.0,355.3 L854.4,352.4 L856.0,349.0 L859.1,348.0 L861.2,345.4 L864.0,344.0 L867.6,342.9 L870.8,340.8 L873.9,338.8 L876.9,335.8 L880.6,333.8 L884.4,331.8 L887.4,328.7 L888.3,331.6 L888.9,334.6 L890.7,337.2 L888.7,340.4 L887.4,343.9 L890.9,343.5 L894.1,342.2 L895.5,339.3 L897.9,336.9 L899.1,333.8 L901.0,330.7 L902.0,327.3 L902.5,323.7 L904.1,320.2 L905.9,316.9 L908.7,314.7 L910.9,311.9 L913.7,310.7 L916.3,309.0 L919.4,308.5 L923.1,309.5 L926.0,312.0 L928.6,314.2 L930.4,317.0 L932.0,320.0 L935.1,321.9 L937.3,324.7 L940.0,327.0 L942.8,324.8 L945.0,322.0 L944.0,317.0 M208.0,149.5 L211.0,148.6 L214.0,147.5 L218.5,151.0 L217.5,156.0 L214.2,156.1 L211.0,156.0 L209.7,152.6 L208.0,149.5 M930.2,311.4 L928.9,307.4 L930.6,303.8 L932.9,300.6 L935.6,298.5 L938.3,296.6 L941.9,294.3 L945.0,291.2 L949.0,287.1 L950.4,283.1 L954.5,280.4 L958.5,283.1 L962.5,285.8 L966.2,283.3 L970.0,281.0 L973.1,278.9 L977.0,278.6 L980.0,276.4 L984.1,275.0 L987.6,274.0 L990.8,272.1 L994.1,270.7 L997.6,269.6 L1001.6,272.3 L1004.3,270.5 L1007.1,268.8 L1009.7,266.9 L1012.4,261.6" fill="none" stroke="#0000ff" stroke-width="3.2" stroke-linejoin="round" stroke-linecap="round"/>
<circle cx="563" cy="464" r="1.8" fill="none" stroke="#ff00ff" stroke-width="2"/><circle cx="565" cy="467" r="1.8" fill="none" stroke="#ff00ff" stroke-width="2"/><circle cx="420" cy="452" r="1.8" fill="none" stroke="#ff00ff" stroke-width="2"/><circle cx="425" cy="447" r="1.8" fill="none" stroke="#ff00ff" stroke-width="2"/><circle cx="447" cy="456" r="1.8" fill="none" stroke="#ff00ff" stroke-width="2"/><circle cx="455" cy="452" r="1.8" fill="none" stroke="#ff00ff" stroke-width="2"/><circle cx="510" cy="466" r="1.8" fill="none" stroke="#ff00ff" stroke-width="2"/><circle cx="520" cy="475" r="1.8" fill="none" stroke="#ff00ff" stroke-width="2"/><circle cx="545" cy="427" r="1.8" fill="none" stroke="#ff00ff" stroke-width="2"/><circle cx="549" cy="436" r="1.8" fill="none" stroke="#ff00ff" stroke-width="2"/><circle cx="286" cy="390.6" r="1.8" fill="none" stroke="#ff00ff" stroke-width="2"/><circle cx="293.6" cy="395.1" r="1.8" fill="none" stroke="#ff00ff" stroke-width="2"/><circle cx="298.2" cy="396.7" r="1.8" fill="none" stroke="#ff00ff" stroke-width="2"/><circle cx="301.2" cy="404.2" r="1.8" fill="none" stroke="#ff00ff" stroke-width="2"/><circle cx="308.8" cy="407.3" r="1.8" fill="none" stroke="#ff00ff" stroke-width="2"/><circle cx="313.3" cy="412.6" r="1.8" fill="none" stroke="#ff00ff" stroke-width="2"/><circle cx="215" cy="270" r="1.8" fill="none" stroke="#ff00ff" stroke-width="2"/><circle cx="224" cy="318" r="1.8" fill="none" stroke="#ff00ff" stroke-width="2"/><circle cx="226" cy="322" r="1.8" fill="none" stroke="#ff00ff" stroke-width="2"/><circle cx="441" cy="452" r="1.8" fill="none" stroke="#0000ff" stroke-width="2"/><circle cx="470" cy="447" r="1.8" fill="none" stroke="#0000ff" stroke-width="2"/><circle cx="496" cy="452" r="1.8" fill="none" stroke="#0000ff" stroke-width="2"/><circle cx="505" cy="471" r="1.8" fill="none" stroke="#0000ff" stroke-width="2"/><circle cx="487" cy="437" r="1.8" fill="none" stroke="#0000ff" stroke-width="2"/><circle cx="304" cy="372" r="1.8" fill="none" stroke="#0000ff" stroke-width="2"/><circle cx="313" cy="367" r="1.8" fill="none" stroke="#0000ff" stroke-width="2"/><circle cx="329" cy="364" r="1.8" fill="none" stroke="#0000ff" stroke-width="2"/><circle cx="333" cy="357" r="1.8" fill="none" stroke="#0000ff" stroke-width="2"/><circle cx="310" cy="405" r="1.8" fill="none" stroke="#0000ff" stroke-width="2"/><circle cx="592" cy="412" r="1.8" fill="none" stroke="#0000ff" stroke-width="2"/>
</svg>

<div id="title" style="position:absolute;left:1px;width:1254px;top:19px;text-align:center;font-weight:bold;font-size:21px;letter-spacing:0.7px;line-height:24px;color:#000;white-space:nowrap">False codling moth: Cold stress units 03/01/2026</div>
<div id="sub" style="position:absolute;left:1.5px;width:1254px;top:54px;text-align:center;font-size:16.5px;letter-spacing:0.8px;line-height:21.5px;color:#1a1a1a;white-space:nowrap">Maps and modeling 01/15/2026 by Oregon State University IPPC USPEST.ORG and<br>USDA-APHIS-PPQ; climate data from OSU PRISM Climate Group</div>
<div class="lh" style="top:211px">Stress Limits</div>
<div style="position:absolute;left:1088px;top:243.5px;width:13.5px;height:1.2px;background:#ff33ff"></div>
<div class="ls" style="top:236px">Stress limit 1</div>
<div style="position:absolute;left:1088px;top:260.5px;width:13.5px;height:1.2px;background:#3333ff"></div>
<div class="ls" style="top:253px">Stress limit 2</div>
<div class="lh" style="top:283px;line-height:19px">Cold Stress<br>Units</div>
<div style="position:absolute;left:1086px;top:325px;width:17px;height:17px;background:#5e4fa2"></div><div class="lt" style="top:327px">0-119</div><div style="position:absolute;left:1086px;top:342px;width:17px;height:17px;background:#3288bd"></div><div class="lt" style="top:344px">119-238</div><div style="position:absolute;left:1086px;top:359px;width:17px;height:17px;background:#66c2a5"></div><div class="lt" style="top:361px">238-357</div><div style="position:absolute;left:1086px;top:376px;width:17px;height:17px;background:#abdda4"></div><div class="lt" style="top:378px">357-476</div><div style="position:absolute;left:1086px;top:393px;width:17px;height:17px;background:#e6f598"></div><div class="lt" style="top:395px">476-595</div><div style="position:absolute;left:1086px;top:410px;width:17px;height:17px;background:#fee08b"></div><div class="lt" style="top:412px">595-714</div><div style="position:absolute;left:1086px;top:427px;width:17px;height:17px;background:#fdae61"></div><div class="lt" style="top:429px">714-833</div><div style="position:absolute;left:1086px;top:444px;width:17px;height:17px;background:#f46d43"></div><div class="lt" style="top:446px">833-952</div><div style="position:absolute;left:1086px;top:461px;width:17px;height:17px;background:#d53e4f"></div><div class="lt" style="top:463px">952-1070</div><div style="position:absolute;left:1086px;top:478px;width:17px;height:17px;background:#9e0142"></div><div class="lt" style="top:480px">1070-1190</div>

</body></html>
